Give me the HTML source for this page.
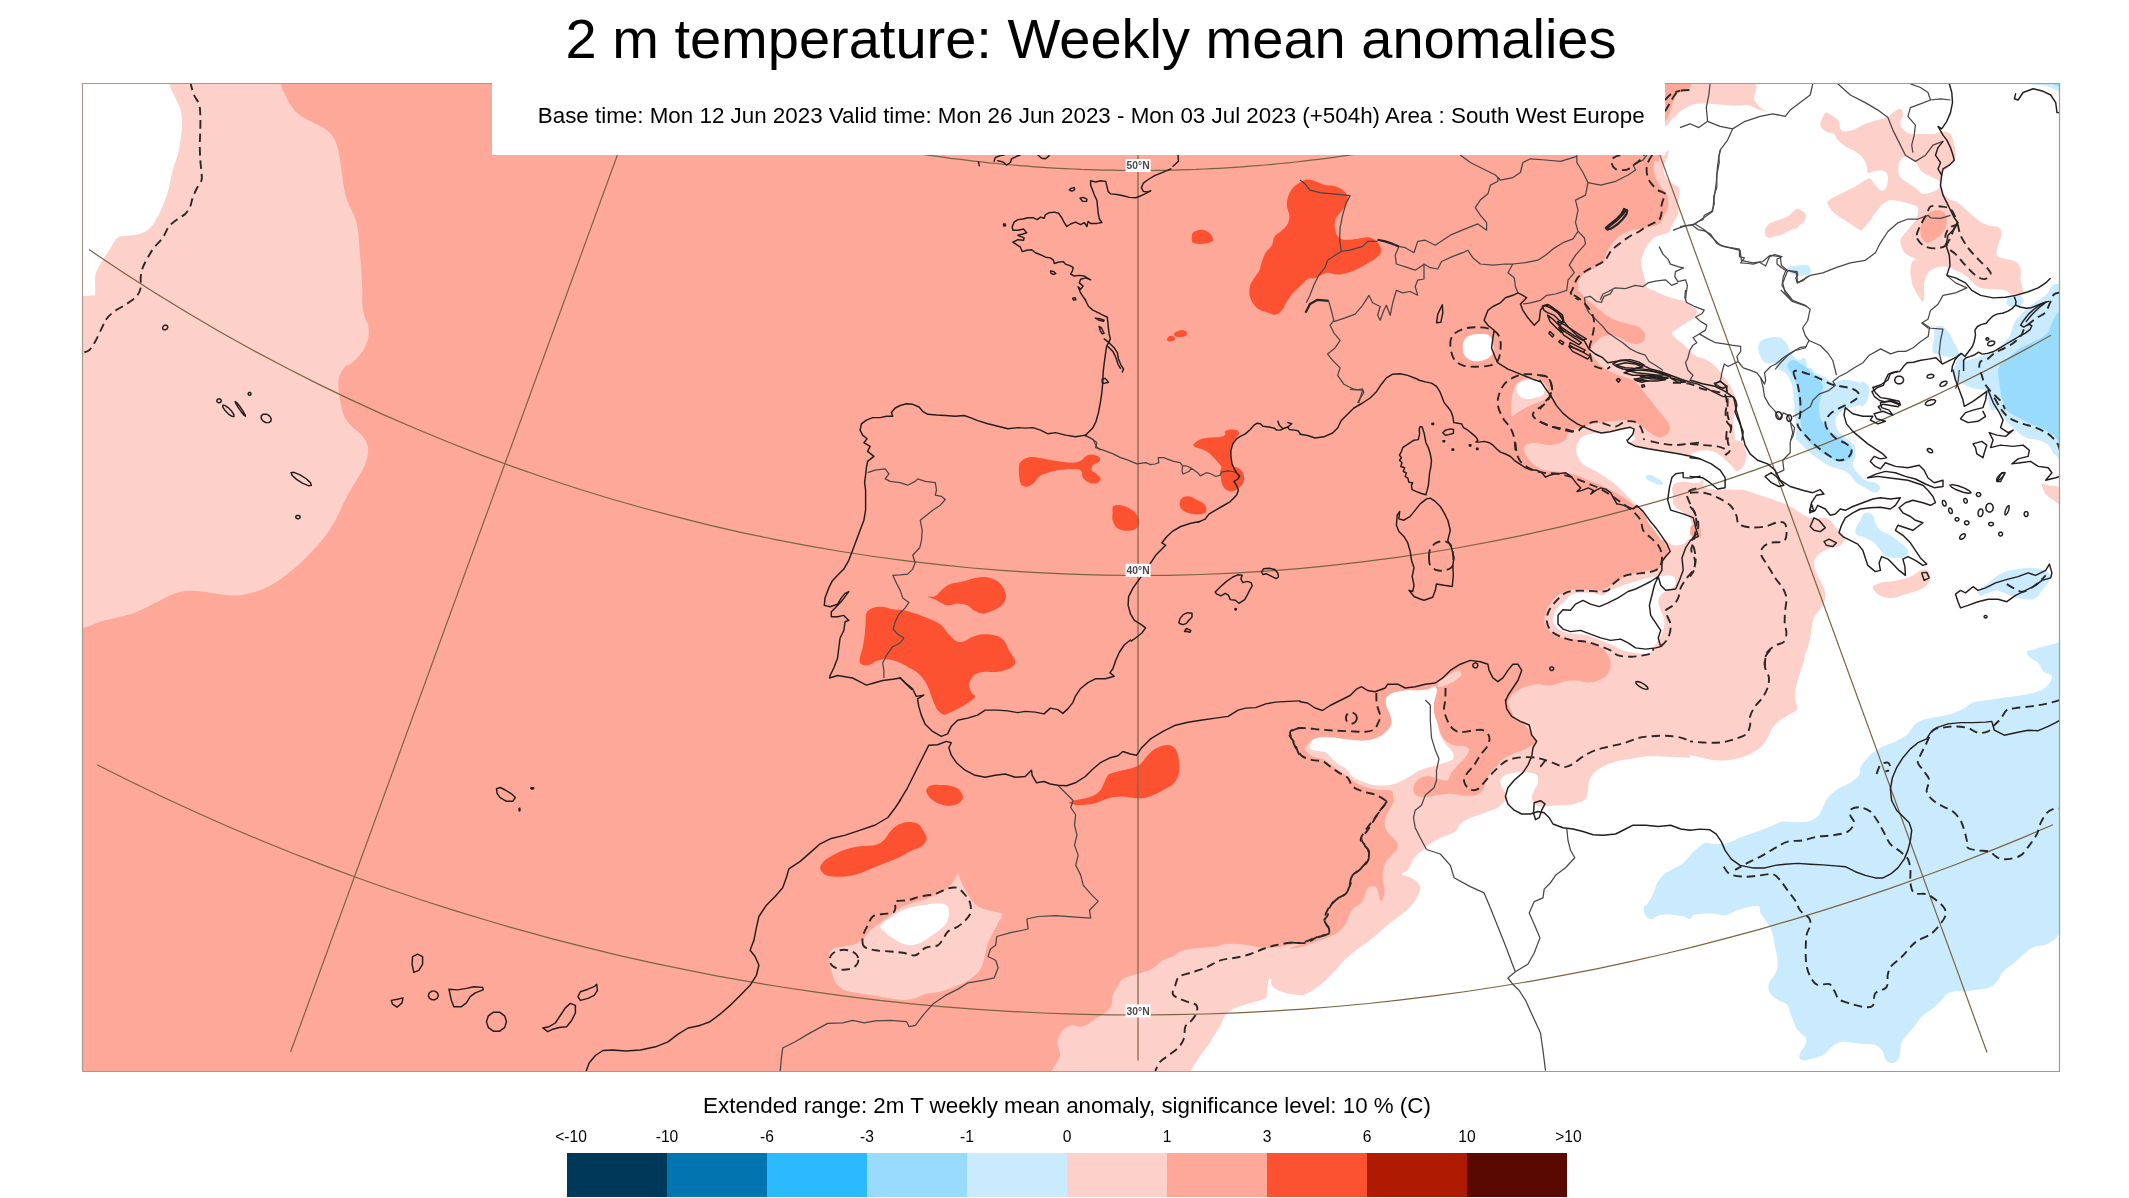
<!DOCTYPE html>
<html><head><meta charset="utf-8"><title>2 m temperature: Weekly mean anomalies</title>
<style>
html,body{margin:0;padding:0;background:#fff;}
body{width:2129px;height:1198px;overflow:hidden;font-family:"Liberation Sans",sans-serif;}
svg{display:block;position:absolute;left:0;top:0}
text{font-family:"Liberation Sans",sans-serif;fill:#000}
.tx{filter:grayscale(1)}
.c{fill:none;stroke:#241d1d;stroke-width:1.45;stroke-linejoin:round;stroke-linecap:round}
.b{fill:none;stroke:#4a4646;stroke-width:1.25;stroke-linejoin:round}
.d{fill:none;stroke:#2b2727;stroke-width:1.9;stroke-dasharray:8.4 5;stroke-linejoin:round}
.g{fill:none;stroke:#7a6442;stroke-width:1.2}
.l{fill:none;stroke:#262626;stroke-width:2.2;stroke-linejoin:round}
</style></head><body>
<svg width="2129" height="1198" viewBox="0 0 2129 1198">
<defs><clipPath id="m"><rect x="82.5" y="83.5" width="1977" height="988"/></clipPath></defs>
<rect x="0" y="0" width="2129" height="1198" fill="#fff"/>
<g clip-path="url(#m)">

<path fill="#fda899" d="M82,83L2060,83L2060,1072L82,1072Z"/>
<path fill="#fdd0c9" d="M281.2,84.3C282.1,90.1 283.9,91.5 285.4,95C286.9,98.5 288.3,101.9 290.4,105C292.5,108.1 294.6,111.1 298,113.8C301.4,116.5 306.3,119 310.5,121.3C314.7,123.6 319.4,125.3 323,127.6C326.6,129.9 329.5,132.2 331.8,135.1C334.1,138 335.4,140.9 336.8,145.1C338.2,149.3 339.1,154.7 340,160.1C340.9,165.5 341.7,172.3 342.5,177.7C343.3,183.1 343.9,188.1 345,192.7C346.1,197.3 347.6,201 349.3,205.2C351,209.4 353.6,213.5 355,217.7C356.4,221.9 357.2,224.9 358,230.3C358.8,235.7 359.1,243.6 359.6,250.3C360.2,257 360.9,263.6 361.3,270.3C361.8,277 362.1,285 362.3,290.4C362.5,295.8 362,298.7 362.3,302.9C362.6,307.1 363.3,311.6 364.3,315.4C365.3,319.1 367.4,322.1 368.1,325.4C368.8,328.7 369,332 368.6,335.4C368.2,338.8 367.2,342.1 365.6,345.5C364.1,348.9 361.8,352.4 359.3,355.5C356.8,358.6 352.8,362.4 350.5,364.2C348.2,366 347.4,364.3 345.5,366.3C343.6,368.3 340.5,372.8 339.3,376.3C338.1,379.9 338.3,383.2 338.5,387.6C338.7,392 339.5,397.8 340.5,402.6C341.5,407.4 342.4,412.4 344.3,416.4C346.2,420.4 348.9,423.3 351.8,426.4C354.7,429.5 359.2,432 361.8,435.1C364.4,438.2 366.6,441.9 367.6,445.2C368.6,448.5 368.2,451.7 367.6,455.2C367.1,458.7 365.9,462.6 364.3,466.4C362.7,470.1 360.3,473.7 358,477.7C355.7,481.7 352.8,486.2 350.5,490.2C348.2,494.2 346.4,497.3 344.3,501.5C342.2,505.7 340.1,511.1 338,515.3C335.9,519.5 334.3,522.5 331.8,526.5C329.3,530.5 326.1,535.1 323,539.1C319.9,543.1 316.8,546.3 313,550.3C309.2,554.3 305,558.7 300.4,562.9C295.8,567.1 290.4,571.6 285.4,575.4C280.4,579.1 275.4,582.7 270.4,585.4C265.4,588.1 260.8,590 255.4,591.7C250,593.4 243.7,595 237.8,595.4C232,595.8 226.1,594.8 220.3,594.2C214.5,593.6 208.7,592.2 202.8,591.7C197,591.2 190.2,590.5 185.2,590.9C180.2,591.3 176.9,592.6 172.7,594.2C168.5,595.8 164.8,598.1 160.2,600.4C155.6,602.7 150.2,605.6 145.2,607.9C140.2,610.2 135.1,612.5 130.1,614.2C125.1,615.9 120.1,616.6 115.1,617.9C110.1,619.1 105.4,620 100.1,621.7C94.8,623.4 89.7,626.3 83,628C76.3,629.7 63.8,726.7 60,632C56.2,537.3 23.3,155.3 60,60C96.7,-35.3 243.1,56 280,60C316.9,64 280.3,78.5 281.2,84.3Z"/>
<path fill="#ffffff" d="M169.5,84.3C170.7,90.5 173.4,93.4 175.2,97.5C177,101.6 179.1,104.4 180.2,108.8C181.3,113.2 182,118.2 182,123.8C182,129.4 180.9,137.4 180.2,142.6C179.5,147.8 178.9,150.5 177.7,155.1C176.4,159.7 174.1,164.8 172.7,170.2C171.2,175.6 170.4,182.3 169,187.7C167.6,193.1 165.9,197.9 164,202.7C162.1,207.5 160,212.3 157.7,216.5C155.4,220.7 152.7,225.1 150.2,227.8C147.7,230.5 145.6,231.6 142.7,232.8C139.8,234.1 136.4,234.7 132.6,235.3C128.8,235.9 123,235.7 120.1,236.5C117.2,237.3 116.8,238.2 115.1,240.3C113.4,242.4 112.2,245.7 110.1,249C108,252.3 104.8,256.8 102.6,260.3C100.4,263.9 98.3,267.4 97.1,270.3C95.8,273.2 95.4,273.8 95.1,277.8C94.8,281.8 95.7,291.2 95.1,294.1C94.5,297 93.3,295.1 91.3,295.4C89.3,295.7 88.2,296 83,296.1C77.8,296.2 63.8,335.4 60,296C56.2,256.6 42,99.3 60,60C78,20.7 149.8,56 168,60C186.2,64 168.3,78 169.5,84.3Z"/>
<path fill="#fdd0c9" d="M1655,75C1585.7,88.3 1659,140.8 1659.1,155C1659.2,169.2 1656.3,158.1 1655.4,160C1654.5,161.9 1653.7,164.2 1653.5,166.3C1653.3,168.4 1653.6,170.3 1654.1,172.6C1654.6,174.9 1655.5,177.8 1656.6,180.1C1657.6,182.4 1658.9,184.5 1660.4,186.4C1661.9,188.3 1664.2,189.5 1665.4,191.4C1666.7,193.3 1667.4,195.6 1667.9,197.7C1668.4,199.8 1668.6,201.8 1668.5,203.9C1668.4,206 1668,208.3 1667.3,210.2C1666.6,212.1 1665.2,213.3 1664.2,215.2C1663.2,217.1 1662.9,219.8 1661.6,221.5C1660.3,223.2 1658.5,224.4 1656.6,225.2C1654.7,226 1652.7,226 1650.4,226.5C1648.1,227 1645.3,227.9 1642.8,228.4C1640.3,228.9 1637.8,229.1 1635.3,229.6C1632.8,230.1 1630.1,230.7 1627.8,231.5C1625.5,232.3 1623.4,233.5 1621.5,234.7C1619.6,235.8 1618,237.1 1616.5,238.4C1615,239.8 1613.9,241.3 1612.7,242.8C1611.5,244.3 1610.6,245.5 1609.6,247.2C1608.6,248.9 1607.2,250.8 1606.5,252.8C1605.8,254.8 1605.8,257.4 1605.2,259.1C1604.6,260.8 1604.2,261.6 1602.7,262.9C1601.2,264.1 1598.5,265.4 1596.4,266.6C1594.3,267.9 1592.3,269.1 1590.2,270.4C1588.1,271.7 1585.6,272.9 1583.9,274.2C1582.2,275.4 1581,276.4 1580.1,277.9C1579.1,279.3 1578.5,281 1578.2,282.9C1577.9,284.8 1578.3,288 1578.2,289.2C1578.1,290.4 1576.9,289 1577.6,290C1578.3,291 1580.7,293.1 1582.6,295C1584.5,296.9 1586.8,299.4 1588.9,301.3C1591,303.2 1593.1,304.6 1595.2,306.3C1597.3,308 1599.3,309.6 1601.4,311.3C1603.5,313 1605.4,314.8 1607.7,316.3C1610,317.8 1612.7,319.1 1615.2,320.1C1617.7,321.2 1620.3,321.9 1622.8,322.6C1625.3,323.3 1627.8,323.9 1630.3,324.5C1632.8,325.1 1635.7,325.5 1637.8,326.4C1639.9,327.3 1641.6,328.7 1642.8,330.1C1644,331.6 1644.9,333.4 1645.1,335.1C1645.3,336.8 1644.9,338.8 1644.1,340.2C1643.3,341.6 1641.8,342.7 1640.3,343.3C1638.8,343.9 1637.2,344 1635.3,343.9C1633.4,343.8 1631.1,343.4 1629,342.7C1626.9,342 1624.9,340.6 1622.8,339.5C1620.7,338.4 1618.6,337.1 1616.5,336.4C1614.4,335.7 1612.3,335.1 1610.2,335.1C1608.1,335.1 1605.9,335.8 1604,336.4C1602.1,337 1600.4,337.8 1598.9,338.9C1597.4,339.9 1596.4,341.4 1595.2,342.7C1594,343.9 1592.8,344.9 1592,346.4C1591.2,347.8 1590.1,349.7 1590.2,351.4C1590.3,353.1 1591,354.2 1592.7,356.5C1594.4,358.8 1597.7,362.9 1600.2,365.2C1602.7,367.5 1605.2,368.8 1607.7,370.3C1610.2,371.8 1612.7,373 1615.2,374C1617.7,375 1620.3,375.7 1622.8,376.5C1625.3,377.3 1628,377.9 1630.3,379C1632.6,380.1 1634.7,381.1 1636.6,382.8C1638.5,384.5 1639.9,387 1641.6,389.1C1643.3,391.2 1644.9,393.2 1646.6,395.3C1648.3,397.4 1649.9,399.5 1651.6,401.6C1653.3,403.7 1654.9,405.8 1656.6,407.9C1658.3,410 1659.9,412.1 1661.6,414.2C1663.3,416.3 1665.3,418.3 1666.7,420.4C1668.1,422.5 1669.4,424.8 1669.8,426.7C1670.2,428.6 1669.9,430.2 1669.2,431.7C1668.5,433.2 1666.9,434.6 1665.4,435.5C1663.9,436.4 1662.1,437.3 1660.4,437.4C1658.7,437.5 1657.1,436.8 1655.4,436.1C1653.7,435.4 1652.1,434.1 1650.4,433C1648.7,431.9 1647,430.5 1645.3,429.2C1643.6,427.9 1642,426.5 1640.3,425.4C1638.6,424.2 1637.4,423.1 1635.3,422.3C1633.2,421.5 1630.3,420.7 1627.8,420.4C1625.3,420.1 1622.8,420.3 1620.3,420.4C1617.8,420.5 1615.2,420.8 1612.7,421.1C1610.2,421.4 1607.7,422 1605.2,422.3C1602.7,422.6 1600.2,422.6 1597.7,422.9C1595.2,423.2 1592.7,423.6 1590.2,424.2C1587.7,424.8 1585.1,425.9 1582.6,426.7C1580.1,427.5 1577.2,428.4 1575.1,429.2C1573,430 1571.4,430.6 1570.1,431.7C1568.8,432.8 1567.6,434.1 1567,435.5C1566.4,436.9 1566.5,439.2 1566.3,440C1566,440.8 1566.9,439.4 1565.5,440C1564.1,440.6 1560.9,443 1558,443.8C1555.1,444.6 1551.3,445.1 1548,445C1544.7,444.9 1541.2,443.2 1537.9,443C1534.6,442.8 1530.2,442.8 1527.9,443.8C1525.6,444.8 1524.4,446.7 1524.2,448.8C1524,450.9 1525.2,453.8 1526.7,456.3C1528.2,458.8 1530.6,461.7 1532.9,463.8C1535.2,465.9 1537.6,467.6 1540.5,468.8C1543.4,470.1 1546.8,470.8 1550.5,471.3C1554.2,471.9 1558.8,471.5 1563,472.1C1567.2,472.7 1571.3,473.8 1575.5,475.1C1579.7,476.4 1583.8,478.4 1588,480.1C1592.2,481.8 1596.4,483.2 1600.6,485.1C1604.8,487 1608.9,489 1613.1,491.3C1617.3,493.6 1621.8,496.4 1625.6,498.9C1629.3,501.4 1632.3,503.7 1635.6,506.4C1638.9,509.1 1642.7,512 1645.6,515.1C1648.5,518.2 1650.7,521.9 1653.2,525.2C1655.7,528.6 1658.6,531.9 1660.7,535.2C1662.8,538.5 1664.5,542.3 1665.7,545.2C1667,548.1 1668.4,550.2 1668.2,552.7C1668,555.2 1665.7,557.7 1664.4,560.2C1663.2,562.7 1663,566 1660.7,567.7C1658.4,569.4 1654.5,569.4 1650.7,570.2C1646.9,571 1642.3,571.7 1638.1,572.7C1633.9,573.8 1629.3,575 1625.6,576.5C1621.8,578 1618.5,579.8 1615.6,581.5C1612.7,583.2 1610.6,585 1608.1,586.5C1605.6,588 1603.9,589.8 1600.6,590.3C1597.2,590.8 1592.2,590 1588,589.8C1583.8,589.6 1579.2,589.1 1575.5,589.3C1571.8,589.5 1568.8,589.7 1565.5,591C1562.2,592.3 1558.4,594.6 1555.5,597.3C1552.6,600 1549.9,603.7 1548,607.3C1546.1,610.9 1544.2,615.5 1544.2,619.1C1544.2,622.7 1546.1,626.4 1548,629.1C1549.9,631.8 1552.2,633.7 1555.5,635.4C1558.8,637.1 1563.8,638.3 1568,639.1C1572.2,639.9 1576.3,639.6 1580.5,640.4C1584.7,641.2 1589.2,642.6 1593,644.1C1596.8,645.6 1600.4,646.8 1603.1,649.1C1605.8,651.4 1608,655 1609.3,657.9C1610.5,660.8 1611,663.8 1610.6,666.7C1610.2,669.6 1608.9,673.1 1606.8,675.4C1604.7,677.7 1601.2,679.3 1598.1,680.5C1595,681.7 1591.8,682.5 1588,682.5C1584.2,682.5 1579.7,680.6 1575.5,680.5C1571.3,680.4 1567.2,680.9 1563,681.7C1558.8,682.5 1554.7,685.1 1550.5,685.5C1546.3,685.9 1542.1,684 1537.9,684.2C1533.7,684.4 1528.7,685.7 1525.4,686.7C1522.1,687.8 1520.2,689 1517.9,690.5C1515.6,692 1513.3,693.4 1511.6,695.5C1509.9,697.6 1508.5,701.8 1507.9,703C1507.3,704.2 1506.7,700.5 1507.9,703C1509.2,705.5 1512.9,714.7 1515.4,718C1517.9,721.3 1520.6,720.9 1522.9,723C1525.2,725.1 1526.9,727.6 1529.2,730.6C1531.5,733.6 1536.5,738.7 1536.7,741.3C1536.9,743.9 1532.8,744.8 1530.5,746.3C1528.2,747.8 1525.8,748.8 1522.9,750.1C1520,751.4 1516.2,752.4 1512.9,753.9C1509.6,755.4 1505.4,757 1502.9,758.9C1500.4,760.8 1500,762.8 1497.9,765.1C1495.8,767.4 1492.5,769.7 1490.4,772.6C1488.3,775.5 1486.7,779.8 1485.4,782.7C1484.2,785.6 1484.6,788.1 1482.9,790.2C1481.2,792.3 1478.2,794.3 1475.3,795.2C1472.4,796.1 1469,795.9 1465.3,795.7C1461.5,795.5 1457,794.1 1452.8,793.9C1448.6,793.7 1444,794.3 1440.3,794.7C1436.5,795.1 1433.6,796.1 1430.3,796.4C1427,796.7 1422.9,797.2 1420.2,796.7C1417.5,796.2 1415,795.1 1414,793.2C1413,791.3 1413,787.7 1414,785.2C1415,782.7 1417.5,779.6 1420.2,778.1C1422.9,776.6 1427,776.1 1430.3,776.4C1433.6,776.6 1437.4,779 1440.3,779.6C1443.2,780.2 1445.9,781.4 1447.8,780.2C1449.7,779 1449.9,775.1 1451.6,772.6C1453.3,770.1 1455.5,767.6 1457.8,765.1C1460.1,762.6 1463.4,760.1 1465.3,757.6C1467.2,755.1 1469.1,752 1469.1,750.1C1469.1,748.2 1468,747.1 1465.3,746.3C1462.6,745.5 1456.5,746.5 1452.8,745.1C1449,743.7 1445.3,741 1442.8,737.6C1440.3,734.2 1439.3,729.2 1437.8,725C1436.3,720.8 1434.6,716.2 1434,712.5C1433.4,708.8 1433.6,705.8 1434,702.5C1434.4,699.2 1436.3,695.6 1436.5,693C1436.7,690.4 1436.8,687.3 1435.3,686.7C1433.8,686.1 1430.7,688.6 1427.8,689.2C1424.9,689.8 1421.5,690.3 1417.7,690.5C1413.9,690.7 1409.4,690.1 1405.2,690.5C1401,690.9 1395.8,691.8 1392.7,693C1389.6,694.2 1387.5,695.8 1386.4,698C1385.4,700.2 1385.8,703.5 1386.4,706.3C1387,709.1 1389.4,712.1 1390.2,715C1391,717.9 1392,721.1 1391.4,723.8C1390.8,726.5 1388.7,729 1386.4,731.3C1384.1,733.6 1381.2,736 1377.7,737.6C1374.2,739.2 1370.1,740.3 1365.1,740.6C1360.1,740.9 1353,740.1 1347.6,739.6C1342.2,739.1 1337.2,737.9 1332.6,737.6C1328,737.3 1323.4,737.2 1320.1,737.6C1316.8,738 1314.5,738.9 1312.5,740.1C1310.5,741.3 1309.2,742.9 1308,744.6C1306.8,746.3 1304.2,748.1 1305,750.1C1305.8,752.1 1309.6,754.9 1312.5,756.4C1315.4,757.9 1319.5,757.4 1322.6,758.9C1325.7,760.4 1328.4,763 1331.3,765.1C1334.2,767.2 1337.2,769.3 1340.1,771.4C1343,773.5 1346,775.5 1348.9,777.6C1351.8,779.7 1354,782.1 1357.6,783.9C1361.1,785.7 1366,787.2 1370.2,788.2C1374.4,789.2 1379.2,789.8 1382.7,790.2C1386.2,790.6 1389.7,789.7 1391.4,790.7C1393.2,791.7 1392.8,794.6 1393.2,796.4C1393.6,798.2 1394.6,799.1 1393.9,801.4C1393.2,803.7 1390.4,807.3 1388.9,810.2C1387.5,813.1 1385.8,816.1 1385.2,819C1384.6,821.9 1384.4,825 1385.2,827.7C1386,830.4 1388.3,833 1390.2,835.3C1392.1,837.6 1395.2,839.4 1396.4,841.5C1397.7,843.6 1398.3,845.7 1397.7,847.8C1397.1,849.9 1394.6,851.7 1392.7,854C1390.8,856.3 1388,858.9 1386.4,861.6C1384.8,864.3 1383.8,867.2 1383.2,870.3C1382.6,873.4 1382.5,876.9 1382.7,880.3C1383,883.6 1384.7,887.3 1384.7,890.4C1384.7,893.5 1383.5,897.4 1382.7,899.1C1382,900.8 1381,901.9 1380.2,900.4C1379.4,898.9 1378.5,892.7 1377.7,890.4C1376.9,888.1 1376.5,887.2 1375.2,886.6C1374,886 1371.7,886 1370.2,886.6C1368.7,887.2 1367.5,888.5 1366.4,890.4C1365.4,892.3 1365,895.6 1363.9,897.9C1362.9,900.2 1361.8,902.4 1360.1,904.1C1358.4,905.8 1355.8,906 1353.9,907.9C1352,909.8 1350.2,912.9 1348.9,915.4C1347.7,917.9 1347.9,920.4 1346.4,922.9C1344.9,925.4 1342.4,928.3 1340.1,930.4C1337.8,932.5 1335.5,933.9 1332.6,935.4C1329.7,936.9 1325.9,937.9 1322.6,939.2C1319.2,940.5 1315.8,941.8 1312.5,943C1309.2,944.2 1306.2,945.8 1302.5,946.7C1298.8,947.6 1289.9,949.1 1290,948.5C1290.1,947.9 1303.4,943.3 1303.1,942.8C1302.8,942.3 1293,944.5 1288,945.3C1283,946.1 1277.6,947.4 1273,947.8C1268.4,948.2 1264.7,948.2 1260.5,947.8C1256.3,947.4 1251.8,945.9 1248,945.3C1244.2,944.7 1241.7,944.2 1237.9,944C1234.1,943.8 1229.2,943.6 1225.4,944C1221.7,944.4 1219.2,945.9 1215.4,946.5C1211.7,947.1 1207.1,947.4 1202.9,947.8C1198.7,948.2 1194.2,948.4 1190.4,949C1186.6,949.6 1183.2,950.2 1180.3,951.5C1177.4,952.8 1175.7,955 1172.8,956.5C1169.9,958 1165.7,958.6 1162.8,960.3C1159.9,962 1158.2,964.7 1155.3,966.6C1152.4,968.5 1149.1,970.2 1145.3,971.6C1141.5,973 1136.5,974 1132.7,975.3C1128.9,976.5 1125.2,977.2 1122.7,979.1C1120.2,981 1119.4,983.9 1117.7,986.6C1116,989.3 1113.7,992.3 1112.7,995.4C1111.7,998.5 1112.8,1002.5 1111.5,1005.4C1110.2,1008.3 1107.7,1010.8 1105.2,1012.9C1102.7,1015 1099.3,1016 1096.4,1017.9C1093.5,1019.8 1090.4,1022.7 1087.7,1024.2C1085,1025.7 1082.9,1026.5 1080.2,1026.7C1077.5,1026.9 1074.3,1024.8 1071.4,1025.4C1068.5,1026 1064.9,1027.9 1062.6,1030.4C1060.3,1032.9 1058.2,1037.4 1057.6,1040.5C1057,1043.6 1058.5,1046.7 1058.9,1049.2C1059.3,1051.7 1060.5,1053.2 1060.1,1055.5C1059.7,1057.8 1057.9,1060.1 1056.4,1063C1054.9,1065.9 1052.2,1069.3 1051.3,1073C1050.4,1076.7 880.4,1083 1051,1085C1221.6,1087 1904.3,1253.3 2075,1085C2245.7,916.7 2145,243.3 2075,75C2005,-93.3 1724.3,61.7 1655,75Z"/>
<path fill="#ffffff" d="M1662,75C1593.2,87.5 1661.3,137.2 1662,150C1662.7,162.8 1664.9,152 1666,152C1667.1,152 1668.2,149.3 1668.5,150C1668.8,150.7 1668.4,154.4 1667.9,156.3C1667.4,158.2 1666.1,159.4 1665.4,161.3C1664.7,163.2 1663.7,165.5 1663.5,167.6C1663.3,169.7 1663.7,171.9 1664.2,173.8C1664.7,175.7 1665.2,177.1 1666.7,178.8C1668.2,180.5 1671,182.6 1672.9,183.9C1674.8,185.2 1676.8,185.4 1677.9,186.4C1679,187.4 1679.3,188.4 1679.5,190.1C1679.7,191.8 1679.5,194.1 1679.2,196.4C1678.9,198.7 1678,201.4 1677.9,203.9C1677.8,206.4 1678.7,209.3 1678.6,211.4C1678.5,213.5 1678,214.8 1677.3,216.5C1676.6,218.2 1675.2,219.8 1674.2,221.5C1673.2,223.2 1671.8,224.8 1671.1,226.5C1670.4,228.2 1670.8,230.3 1669.8,231.5C1668.8,232.7 1667.2,232.8 1665.4,233.4C1663.6,234 1661,234.6 1659.1,235.3C1657.2,236 1655.5,236.8 1654.1,237.8C1652.6,238.8 1651.7,240 1650.4,241.5C1649.2,243 1647.6,244.9 1646.6,246.6C1645.5,248.3 1644.8,249.9 1644.1,251.6C1643.4,253.3 1642.7,254.7 1642.2,256.6C1641.7,258.5 1641,260.8 1641,262.9C1641,265 1641.7,267 1642.2,269.1C1642.7,271.2 1643.6,273.3 1644.1,275.4C1644.6,277.5 1644.9,279.8 1645.3,281.7C1645.7,283.6 1645.3,285.2 1646.6,286.7C1647.9,288.2 1651.9,289.9 1652.9,290.5C1654,291.1 1651.7,289.4 1652.9,290C1654.2,290.6 1657.5,292.6 1660.4,293.8C1663.3,295.1 1667.5,296.6 1670.4,297.5C1673.3,298.4 1675.4,298.8 1677.9,299.4C1680.4,300 1683.4,300.4 1685.5,301.3C1687.6,302.2 1688.6,303.5 1690.5,305C1692.4,306.5 1696,308.4 1696.8,310.1C1697.6,311.8 1696.1,313.7 1695.5,315.1C1694.9,316.6 1694.5,317.6 1693,318.8C1691.5,320.1 1688.8,321.3 1686.7,322.6C1684.6,323.9 1682.4,325.1 1680.5,326.4C1678.6,327.6 1676.9,329.1 1675.4,330.1C1673.9,331.1 1671.9,331.6 1671.7,332.6C1671.5,333.7 1673.2,335.1 1674.2,336.4C1675.2,337.7 1676.2,338.7 1677.9,340.2C1679.6,341.7 1682.1,343.3 1684.2,345.2C1686.3,347.1 1688.4,349.5 1690.5,351.4C1692.6,353.3 1694.7,355.4 1696.8,356.5C1698.9,357.6 1700.9,357.5 1703,358.3C1705.1,359.1 1707.2,360.1 1709.3,361.5C1711.4,362.9 1713.7,364.6 1715.6,366.5C1717.5,368.4 1718.9,370.7 1720.6,372.8C1722.3,374.9 1723.9,376.7 1725.6,379C1727.3,381.3 1729.1,384.1 1730.6,386.6C1732.1,389.1 1733.4,391.4 1734.4,394.1C1735.5,396.8 1736.7,400.2 1736.9,402.9C1737.1,405.6 1736.1,407.9 1735.6,410.4C1735.1,412.9 1734.2,415.4 1733.8,417.9C1733.4,420.4 1733,422.9 1733.1,425.4C1733.2,427.9 1734,430.6 1734.4,433C1734.8,435.4 1734.2,438.4 1735.6,440C1737,441.6 1740.8,440.1 1742.6,442.6C1744.4,445.1 1746.2,451.4 1746.4,455.2C1746.6,459 1745.5,462.5 1743.9,465.2C1742.4,467.9 1738.9,471.1 1737.1,471.5C1735.3,471.9 1734.8,469.3 1733.3,467.8C1731.8,466.3 1730,464.4 1728.3,462.7C1726.6,461 1725,459.1 1723.3,457.7C1721.6,456.2 1720,455.1 1718.3,454C1716.6,452.9 1715.2,452 1713.3,451.4C1711.4,450.8 1709.3,450.3 1707,450.2C1704.7,450.1 1701.8,450.4 1699.5,450.8C1697.2,451.2 1695.3,451.8 1693.2,452.7C1691.1,453.6 1689,456.3 1686.9,456.5C1684.8,456.7 1683,454.7 1680.7,454C1678.4,453.3 1675.6,452.5 1673.1,452.1C1670.6,451.7 1668.5,451.7 1665.6,451.4C1662.7,451.1 1658.9,450.6 1655.6,450.2C1652.2,449.8 1648.6,449.4 1645.5,448.9C1642.4,448.4 1639.3,447.7 1636.8,447.1C1634.3,446.5 1632,446.1 1630.5,445.2C1629,444.2 1628.3,442.6 1628,441.4C1627.7,440.1 1628,439 1628.6,437.7C1629.2,436.4 1630.9,434.6 1631.7,433.3C1632.5,432 1633.6,431.1 1633.6,430.1C1633.6,429.2 1632.8,428 1631.7,427.6C1630.6,427.2 1628.6,427.4 1626.7,427.6C1624.8,427.8 1622.8,428.4 1620.5,428.9C1618.2,429.4 1615.4,430.2 1612.9,430.8C1610.4,431.4 1607.9,432.2 1605.4,432.6C1602.9,433 1600.4,433.1 1597.9,433.3C1595.4,433.5 1592.7,433.5 1590.4,433.9C1588.1,434.3 1586,434.8 1584.1,435.8C1582.2,436.9 1580.3,438.4 1579.1,440.2C1577.8,442 1577,444.3 1576.6,446.4C1576.2,448.5 1576.2,450.6 1576.6,452.7C1577,454.8 1578.1,457.1 1579.1,459C1580.1,460.9 1581.1,462.5 1582.8,464C1584.5,465.5 1586.8,466.6 1589.1,467.8C1591.4,469.1 1594.1,470.1 1596.6,471.5C1599.1,472.9 1601.7,474.8 1604.2,476.5C1606.7,478.2 1609.4,479.8 1611.7,481.5C1614,483.2 1615.8,484.7 1617.9,486.6C1620,488.5 1622.1,490.7 1624.2,492.8C1626.3,494.9 1628.6,497.2 1630.5,499.1C1632.4,501 1634,502.9 1635.5,504.1C1637,505.4 1638,505.6 1639.3,506.6C1640.5,507.7 1642,508.9 1643,510.4C1644,511.9 1644.7,513.5 1645.5,515.4C1646.3,517.3 1647,519.8 1648,521.7C1649,523.6 1650.5,525 1651.8,526.7C1653.1,528.4 1654.3,530 1655.6,531.7C1656.8,533.4 1658.3,535.3 1659.3,536.7C1660.3,538.1 1660.7,539.4 1661.8,540C1662.9,540.6 1663.8,539.3 1665.7,540.2C1667.6,541.1 1670.3,544.6 1673.2,545.2C1676.1,545.8 1680.7,545 1683.2,543.9C1685.7,542.8 1687.4,539.5 1688.2,538.9C1689,538.2 1687.6,540.4 1688.2,540C1688.8,539.6 1691.1,538.1 1691.9,536.7C1692.7,535.3 1693.2,533.6 1693.2,531.7C1693.2,529.8 1692.3,527.3 1691.9,525.4C1691.5,523.5 1691.5,522.1 1690.7,520.4C1689.9,518.7 1688.6,517.1 1686.9,515.4C1685.2,513.7 1682.6,511.9 1680.7,510.4C1678.8,508.9 1676.9,508.1 1675.6,506.6C1674.3,505.1 1673.5,503.5 1673.1,501.6C1672.7,499.7 1673.3,497.4 1673.1,495.3C1672.9,493.2 1671.9,490.7 1671.9,489.1C1671.9,487.5 1672.5,486.8 1673.1,485.9C1673.7,484.9 1673.9,484.1 1675.6,483.4C1677.3,482.7 1680.7,481.6 1683.2,481.5C1685.7,481.4 1688.2,482.2 1690.7,482.8C1693.2,483.4 1695.9,484.5 1698.2,485.3C1700.5,486.1 1702.4,487.2 1704.5,487.8C1706.6,488.4 1708.4,488.8 1710.7,489.1C1713,489.4 1715.8,489.7 1718.3,489.7C1720.8,489.7 1723.1,489.3 1725.8,489.3C1728.5,489.3 1731.4,489.6 1734.6,489.7C1737.8,489.8 1740.8,489.3 1745,490.2C1749.2,491.1 1755.1,493.5 1760.1,495.2C1765.1,496.9 1770.2,498.3 1775.2,500.2C1780.2,502.1 1786,504.4 1790.2,506.5C1794.4,508.6 1796.9,510.9 1800.2,512.8C1803.5,514.7 1806.5,517 1810.2,517.8C1814,518.6 1819.4,517.4 1822.7,517.8C1826,518.2 1827.8,518.2 1830.3,520.3C1832.8,522.4 1835.3,527.4 1837.8,530.3C1840.3,533.2 1844.9,535.3 1845.3,537.8C1845.7,540.3 1842.4,543.6 1840.3,545.3C1838.2,547 1835.3,547 1832.8,547.8C1830.3,548.6 1827.8,549 1825.3,550.3C1822.8,551.5 1819.6,553.2 1817.7,555.3C1815.8,557.4 1814.2,560 1814,562.9C1813.8,565.8 1815.2,569.6 1816.5,572.9C1817.8,576.2 1820,579.6 1821.5,582.9C1823,586.2 1824.9,589.6 1825.3,592.9C1825.7,596.2 1825,600 1824,602.9C1823,605.8 1820.7,608 1819,610.5C1817.3,613 1815.2,615.1 1814,618C1812.8,620.9 1812.1,624.7 1811.5,628C1810.9,631.3 1810.8,634.7 1810.2,638C1809.6,641.3 1808.5,644.7 1807.7,648C1806.9,651.3 1805.8,654.3 1805.2,658C1804.6,661.7 1803.8,671.4 1804,670.1C1804.2,668.8 1806.5,651.7 1806.5,650C1806.5,648.3 1805,656.2 1804,660C1803,663.8 1801.5,668.3 1800.2,672.5C1798.9,676.7 1797.2,680.9 1796.4,685.1C1795.6,689.3 1795.1,693.6 1795.2,697.6C1795.3,701.6 1798,706.2 1797.2,708.9C1796.4,711.6 1793,712 1790.2,713.9C1787.4,715.8 1783.1,717.8 1780.2,720.1C1777.3,722.4 1774.8,724.7 1772.7,727.6C1770.6,730.5 1769.5,734.6 1767.6,737.7C1765.7,740.8 1763.9,743.9 1761.4,746.4C1758.9,748.9 1756.1,750.8 1752.6,752.7C1749,754.6 1744.3,756.5 1740.1,757.7C1735.9,759 1731.8,759.8 1727.6,760.2C1723.4,760.6 1719.2,760.6 1715,760.2C1710.8,759.8 1706.7,758.5 1702.5,757.7C1698.3,756.9 1692.1,755.2 1690,755.2C1687.9,755.2 1692.4,757.3 1690,757.6C1687.6,757.9 1680.6,757.3 1675.7,757.1C1670.8,756.9 1665.7,756.5 1660.7,756.4C1655.7,756.3 1650.7,756 1645.7,756.4C1640.7,756.8 1635.6,758.1 1630.6,758.9C1625.6,759.7 1620.2,760.1 1615.6,761.4C1611,762.6 1606.6,764.5 1603.1,766.4C1599.5,768.3 1596.6,770.3 1594.3,772.6C1592,774.9 1590.3,777.3 1589.3,780.2C1588.3,783.1 1588.7,787.1 1588.1,790.2C1587.5,793.3 1587.3,796.8 1585.6,798.9C1583.9,801 1580.9,801.7 1578,802.7C1575.1,803.8 1571.8,804.8 1568,805.2C1564.2,805.6 1559.2,805 1555.5,805.2C1551.8,805.4 1548.6,806.4 1545.5,806.4C1542.4,806.4 1539,806.5 1536.7,805.2C1534.4,804 1532.1,801.4 1531.7,798.9C1531.3,796.4 1533.2,792.9 1534.2,790.2C1535.2,787.5 1537.6,785.2 1538,782.7C1538.4,780.2 1538.4,776.8 1536.7,775.1C1535,773.4 1531.5,773 1527.9,772.6C1524.4,772.2 1519.2,772.2 1515.4,772.6C1511.7,773 1507.9,773.8 1505.4,775.1C1502.9,776.4 1501,778.3 1500.4,780.2C1499.8,782.1 1500.8,784.3 1501.6,786.4C1502.4,788.5 1504.4,790.6 1505.4,792.7C1506.5,794.8 1508.3,797.2 1507.9,798.9C1507.5,800.6 1504.6,801.2 1502.9,802.7C1501.2,804.2 1500.4,806.2 1497.9,807.7C1495.4,809.2 1491.2,810.2 1487.9,811.5C1484.6,812.8 1481.2,814 1477.9,815.2C1474.6,816.5 1470.7,817.5 1467.8,819C1464.9,820.5 1462.2,822.1 1460.3,824C1458.4,825.9 1458.3,828.5 1456.6,830.2C1454.9,831.9 1453,832.7 1450.3,834C1447.6,835.3 1443.6,836.1 1440.3,837.8C1437,839.5 1433.2,841.9 1430.3,844C1427.4,846.1 1425,848.4 1422.7,850.3C1420.4,852.2 1418.4,853.2 1416.5,855.3C1414.6,857.4 1413,860.3 1411.5,862.8C1410,865.3 1409.4,868.4 1407.7,870.3C1406,872.2 1401.5,873 1401.5,874.1C1401.5,875.2 1405.4,875.6 1407.7,876.6C1410,877.6 1413.1,878.6 1415.2,880.3C1417.3,882 1419.6,884.5 1420.2,886.6C1420.8,888.7 1419.8,890.6 1419,892.9C1418.2,895.2 1416.9,897.9 1415.2,900.4C1413.5,902.9 1411.5,905.4 1409,907.9C1406.5,910.4 1403.3,912.9 1400.2,915.4C1397.1,917.9 1393.3,920.4 1390.2,922.9C1387.1,925.4 1384.3,927.9 1381.4,930.4C1378.5,932.9 1375.8,935.4 1372.7,937.9C1369.6,940.4 1365.9,943 1362.6,945.5C1359.2,948 1355.7,950.5 1352.6,953C1349.5,955.5 1346.4,958 1343.9,960.5C1341.4,963 1339.9,965.5 1337.6,968C1335.3,970.5 1332.6,973 1330.1,975.5C1327.6,978 1325.5,980.5 1322.6,983C1319.7,985.5 1315.8,988.4 1312.5,990.5C1309.2,992.6 1304.1,994.8 1302.5,995.6C1300.9,996.4 1305.1,995.6 1303.1,995.4C1301.1,995.1 1294.7,994.9 1290.5,994.1C1286.3,993.3 1281.1,991.9 1278,990.4C1274.9,988.9 1273,987.2 1271.8,985.3C1270.6,983.4 1271.5,979.9 1271,979.1C1270.5,978.3 1269.1,978.4 1268.5,980.3C1267.9,982.2 1268,987.5 1267.5,990.4C1267,993.3 1267.5,996 1265.5,997.9C1263.5,999.8 1259.2,1000.4 1255.5,1001.6C1251.8,1002.9 1246.8,1004.1 1243,1005.4C1239.2,1006.6 1235.8,1007.4 1232.9,1009.1C1230,1010.8 1227.5,1012.7 1225.4,1015.4C1223.3,1018.1 1222.3,1022.1 1220.4,1025.4C1218.5,1028.7 1216.3,1032.1 1214.2,1035.4C1212.1,1038.8 1210.2,1042.2 1207.9,1045.5C1205.6,1048.8 1202.7,1052.2 1200.4,1055.5C1198.1,1058.8 1195.8,1062.6 1194.1,1065.5C1192.4,1068.4 1191.1,1069.8 1190.4,1073C1189.7,1076.2 1042.6,1083 1190,1085C1337.4,1087 1927.5,1253.3 2075,1085C2222.5,916.7 2143.8,243.3 2075,75C2006.2,-93.3 1730.8,62.5 1662,75Z"/>
<path fill="#caebfd" d="M2075,641C2072.5,592.2 2064.8,641.7 2060,642.5C2055.2,643.3 2050,644.9 2046,646C2042,647.1 2037.7,647.3 2036,649C2034.3,650.7 2034,653.6 2035.6,656.3C2037.2,659 2043,661.9 2045.7,665C2048.4,668.1 2051.5,671.6 2051.9,675C2052.3,678.4 2050.5,682.4 2048.2,685.1C2045.9,687.8 2042.4,689.6 2038.2,691.3C2034,693 2028.5,694 2023.1,695.1C2017.7,696.2 2011.4,696.8 2005.6,697.6C1999.8,698.4 1993.5,699.3 1988.1,700.1C1982.7,700.9 1977.2,701.1 1973,702.6C1968.8,704.1 1966.8,707 1963,708.9C1959.2,710.8 1955.1,712.5 1950.5,713.9C1945.9,715.3 1940.1,716.1 1935.5,717.1C1930.9,718.1 1926.5,718.8 1922.9,720.1C1919.4,721.4 1916.7,722.8 1914.2,725.1C1911.7,727.4 1911,731.2 1907.9,733.9C1904.8,736.6 1899.6,739.3 1895.4,741.4C1891.2,743.5 1886.7,744.5 1882.9,746.4C1879.1,748.3 1875.7,750.4 1872.8,752.7C1869.9,755 1867.4,757.7 1865.3,760.2C1863.2,762.7 1861.3,765.2 1860.3,767.7C1859.3,770.2 1860.8,772.7 1859.1,775.2C1857.4,777.7 1853.8,780.4 1850.3,782.7C1846.8,785 1841.5,786.5 1837.8,789C1834,791.5 1830.3,794.7 1827.8,797.8C1825.3,800.9 1824.4,804.7 1822.7,807.8C1821,810.9 1820.2,814.3 1817.7,816.6C1815.2,818.9 1811.5,820.7 1807.7,821.6C1804,822.5 1799.4,822.3 1795.2,822.3C1791,822.3 1786.9,820.9 1782.7,821.6C1778.5,822.3 1774.4,824.9 1770.2,826.6C1766,828.3 1762.2,829.9 1757.6,831.6C1753,833.3 1747.6,834.7 1742.6,836.6C1737.6,838.5 1732.2,841.6 1727.6,842.9C1723,844.1 1718.8,844.1 1715,844.1C1711.2,844.1 1707.9,842.3 1705,842.9C1702.1,843.5 1700,845.8 1697.5,847.9C1695,850 1691.2,853.5 1690,855.4C1688.8,857.2 1691.5,857.4 1690,859C1688.5,860.6 1683.9,863.4 1680.7,865.3C1677.5,867.2 1673.6,868.6 1670.7,870.3C1667.8,872 1665.5,873 1663.2,875.3C1660.9,877.6 1658.6,881 1656.9,884.1C1655.2,887.2 1654.7,891 1653.2,894.1C1651.8,897.2 1649.8,900.6 1648.2,902.9C1646.6,905.2 1644.1,905.8 1643.7,907.9C1643.3,910 1644.3,913.5 1645.7,915.4C1647.1,917.3 1649.8,919.2 1651.9,919.2C1654,919.2 1655.5,916.2 1658.2,915.4C1660.9,914.6 1664.5,914.2 1668.2,914.2C1672,914.2 1677.1,915.4 1680.7,915.4C1684.3,915.4 1688.5,914.2 1690,914.2C1691.5,914.2 1687.9,915.5 1690,915.4C1692.1,915.3 1698.2,914 1702.4,913.7C1706.6,913.4 1711.2,913.4 1714.9,913.7C1718.6,914 1721.5,915.8 1724.8,915.4C1728.1,915 1731.1,912.5 1734.8,911.2C1738.5,909.9 1743.3,908.3 1747.2,907.5C1751.1,906.7 1756.1,905.2 1758.4,906.2C1760.7,907.2 1759.5,911 1760.9,913.7C1762.4,916.4 1765.2,919.3 1767.1,922.4C1769,925.5 1770.8,928.6 1772.1,932.3C1773.3,936 1773.8,940.6 1774.6,944.8C1775.4,948.9 1776.6,953.5 1777.1,957.2C1777.6,960.9 1778,964.3 1777.6,967.2C1777.2,970.1 1775.9,972.1 1774.6,974.6C1773.3,977.1 1770.6,979.8 1769.6,982.1C1768.6,984.4 1768,986 1768.4,988.3C1768.8,990.6 1770.2,993.7 1772.1,995.8C1774,997.9 1777.1,999.2 1779.6,1000.7C1782.1,1002.2 1785.2,1002.2 1787,1004.5C1788.8,1006.8 1789.2,1010.7 1790.7,1014.4C1792.2,1018.1 1793.8,1023.6 1795.7,1026.9C1797.6,1030.2 1800.1,1032.2 1801.9,1034.3C1803.7,1036.4 1805.9,1037.4 1806.4,1039.3C1806.9,1041.2 1805.9,1043.4 1804.9,1045.5C1804,1047.6 1801.6,1049.6 1800.7,1051.7C1799.8,1053.8 1798.9,1056.5 1799.5,1058C1800.1,1059.5 1801.9,1060.4 1804.4,1060.4C1806.9,1060.4 1811.1,1059 1814.4,1058C1817.7,1057 1821.4,1056.1 1824.3,1054.2C1827.2,1052.3 1828.9,1048.9 1831.8,1046.8C1834.7,1044.7 1838,1042.4 1841.7,1041.8C1845.4,1041.2 1850.1,1042.6 1854.2,1043C1858.3,1043.4 1862.9,1043.9 1866.6,1044.3C1870.3,1044.7 1873.9,1044.3 1876.6,1045.5C1879.3,1046.7 1881.3,1049.4 1882.8,1051.7C1884.2,1054 1884.1,1057.3 1885.3,1059.2C1886.5,1061.1 1888.1,1062.7 1890.2,1062.9C1892.3,1063.1 1896,1062.3 1897.7,1060.4C1899.4,1058.5 1899.6,1054.6 1900.2,1051.7C1900.8,1048.8 1900.4,1045.7 1901.4,1043C1902.4,1040.3 1904.3,1038.3 1906.4,1035.6C1908.5,1032.9 1911.4,1030 1913.9,1026.9C1916.4,1023.8 1918.4,1019.8 1921.3,1016.9C1924.2,1014 1928.2,1012 1931.3,1009.5C1934.4,1007 1937.5,1004.5 1940,1002C1942.5,999.5 1943.9,996.2 1946.2,994.5C1948.5,992.8 1950.4,992 1953.7,991.5C1957,991 1961.9,991.8 1966.1,991.5C1970.2,991.2 1974.4,990.3 1978.6,989.6C1982.8,988.9 1987.7,988.8 1991,987.1C1994.3,985.4 1996.4,982.3 1998.5,979.6C2000.6,976.9 2000.9,973.6 2003.4,970.9C2005.9,968.2 2010.1,966.1 2013.4,963.4C2016.7,960.7 2020,957.4 2023.3,954.7C2026.6,952 2029.6,948.9 2033.3,947.3C2037,945.6 2042,946.2 2045.7,944.8C2049.4,943.3 2053.3,940.3 2055.7,938.6C2058.1,936.9 2056.7,935.4 2059.9,934.8C2063.1,934.2 2072.5,984 2075,935C2077.5,886 2077.5,689.8 2075,641Z"/>
<path fill="#ffffff" d="M1462.8,347.9C1462.6,345.2 1462.8,342.5 1464.1,340.4C1465.3,338.3 1467.6,336.4 1470.3,335.3C1473,334.2 1477.2,334.1 1480.3,334.1C1483.4,334.1 1487,333.8 1489.1,335.3C1491.2,336.8 1492.2,340.4 1492.9,342.9C1493.6,345.4 1493.8,348.1 1493.4,350.4C1493,352.7 1492.2,354.9 1490.4,356.6C1488.6,358.3 1485.7,359.7 1482.8,360.4C1479.9,361.1 1475.7,361.5 1472.8,360.9C1469.9,360.3 1467,358.8 1465.3,356.6C1463.6,354.4 1463,350.6 1462.8,347.9Z"/>
<path fill="#fdd0c9" d="M1511.6,415.5C1510.8,413.4 1511.2,405.1 1511.6,400.5C1512,395.9 1512.7,391.2 1514.2,387.9C1515.7,384.5 1517.3,382.1 1520.4,380.4C1523.5,378.7 1529.1,377.7 1532.9,377.9C1536.7,378.1 1540.5,379.6 1543,381.7C1545.5,383.8 1547.4,387.8 1548,390.5C1548.6,393.2 1548,396.1 1546.7,398C1545.5,399.9 1543.2,400.4 1540.5,401.7C1537.8,402.9 1533.3,404.2 1530.4,405.5C1527.5,406.8 1525.2,407.9 1522.9,409.2C1520.6,410.4 1518.6,411.9 1516.7,413C1514.8,414.1 1512.4,417.6 1511.6,415.5Z"/>
<path fill="#ffffff" d="M1516.7,390.5C1516.3,388.4 1516.5,385.9 1517.9,384.2C1519.4,382.5 1522.5,381 1525.4,380.4C1528.3,379.8 1532.5,379.6 1535.4,380.4C1538.3,381.2 1541.5,383.5 1543,385.4C1544.5,387.3 1545,389.8 1544.2,391.7C1543.4,393.6 1540.6,395.4 1537.9,396.7C1535.2,397.9 1530.8,399.2 1527.9,399.2C1525,399.2 1522.3,398.1 1520.4,396.7C1518.5,395.2 1517.1,392.6 1516.7,390.5Z"/>
<path fill="#fdd0c9" d="M1660,78C1675.9,69.7 1739.5,77.2 1755.4,78C1771.3,78.8 1755.2,80.9 1755.4,82.5C1755.6,84.1 1756.7,85.6 1756.6,87.5C1756.5,89.4 1755.1,91.9 1754.7,93.8C1754.3,95.7 1753.6,96.9 1754.1,98.8C1754.6,100.7 1756.4,103.3 1757.9,105.1C1759.4,106.9 1761.4,108.3 1762.9,109.5C1764.4,110.7 1767.1,111.9 1766.7,112C1766.3,112.1 1762.7,110.9 1760.4,110.1C1758.1,109.3 1755,107.8 1752.9,107C1750.8,106.2 1749.9,105.3 1747.8,105.1C1745.7,104.9 1742.8,105.6 1740.3,105.7C1737.8,105.8 1735.3,105.8 1732.8,105.7C1730.3,105.6 1727.8,105.3 1725.3,105.1C1722.8,104.9 1720.3,104.7 1717.8,104.5C1715.3,104.3 1712.7,104 1710.2,103.8C1707.7,103.6 1705,103.2 1702.7,103.2C1700.4,103.2 1698.5,103.4 1696.4,103.8C1694.3,104.2 1692.3,104.8 1690.2,105.7C1688.1,106.6 1685.8,107.8 1683.9,108.9C1682,110.1 1680.4,111.3 1678.9,112.6C1677.4,113.8 1676.3,115.2 1675.1,116.4C1673.8,117.7 1672.6,118.8 1671.4,120.1C1670.2,121.3 1669.2,122.9 1668.2,123.9C1667.2,125 1666.5,125.7 1665.1,126.4C1663.7,127.1 1660.8,136.1 1660,128C1659.2,119.9 1644.1,86.3 1660,78Z"/>
<path fill="#fda899" d="M1660,78C1665.2,70.5 1686.2,77.2 1691.4,78C1696.6,78.8 1691.6,80.9 1691.4,82.5C1691.2,84.1 1691.2,86.3 1690.2,87.5C1689.2,88.7 1687,88.6 1685.1,89.4C1683.2,90.2 1680.6,91.2 1678.9,92.6C1677.2,94 1676.1,95.7 1675.1,97.6C1674,99.5 1673.4,101.5 1672.6,103.8C1671.8,106.1 1670.9,109.1 1670.1,111.4C1669.3,113.7 1668.4,115.9 1667.6,117.6C1666.8,119.3 1666.4,120.5 1665.1,121.4C1663.8,122.3 1660.8,130.2 1660,123C1659.2,115.8 1654.8,85.5 1660,78Z"/>
<path fill="#fdd0c9" d="M1820.3,125.1C1819.9,122.8 1821.8,119.7 1822.8,117.6C1823.8,115.5 1824.8,112.8 1826.5,112.6C1828.2,112.4 1830.7,114.8 1832.8,116.3C1834.9,117.8 1837.8,119.2 1839,121.3C1840.2,123.4 1839.2,127.2 1840.3,128.9C1841.3,130.6 1842.8,131.4 1845.3,131.4C1847.8,131.4 1852,130.2 1855.3,128.9C1858.6,127.6 1861.5,125.3 1865.3,123.8C1869.1,122.3 1874.1,121.1 1877.9,120.1C1881.7,119.1 1885.4,118.8 1887.9,117.6C1890.4,116.3 1890.8,114.1 1892.9,112.6C1895,111.1 1898.7,108.4 1900.4,108.8C1902.1,109.2 1902.9,112.8 1902.9,115.1C1902.9,117.4 1900.4,120.3 1900.4,122.6C1900.4,124.9 1901.2,127 1902.9,128.9C1904.6,130.8 1907.5,133.1 1910.4,133.9C1913.3,134.7 1916.7,133.9 1920.5,133.9C1924.3,133.9 1929.2,134.3 1933,133.9C1936.8,133.5 1940.1,131.4 1943,131.4C1945.9,131.4 1948.6,131.6 1950.5,133.9C1952.4,136.2 1953.5,141.1 1954.3,145.1C1955.1,149.1 1956.3,154.1 1955.5,157.7C1954.7,161.2 1951.4,163.9 1949.3,166.4C1947.2,168.9 1944.5,169.6 1943,172.7C1941.5,175.8 1940.5,181.9 1940.5,185.2C1940.5,188.5 1941.5,190.4 1943,192.7C1944.5,195 1946.8,197.3 1949.3,199C1951.8,200.7 1954.9,200.6 1958,202.7C1961.1,204.8 1964.7,208.6 1968,211.5C1971.3,214.4 1974.8,218 1978.1,220.3C1981.4,222.6 1984.6,224.1 1988.1,225.3C1991.6,226.6 1997.1,226.1 1999.3,227.8C2001.5,229.5 2001.6,232.4 2001.4,235.3C2001.2,238.2 1998.9,242 1998.1,245.3C1997.3,248.6 1995.5,253 1996.8,255.3C1998,257.6 2002.5,258.1 2005.6,259.1C2008.7,260.2 2013.1,259.9 2015.6,261.6C2018.1,263.3 2019.8,266 2020.6,269.1C2021.4,272.2 2020.2,276.4 2020.6,280.4C2021,284.4 2023.9,290.2 2023.1,292.9C2022.3,295.6 2018.5,297.1 2015.6,296.7C2012.7,296.3 2009.3,291.6 2005.6,290.4C2001.8,289.1 1997.3,289.6 1993.1,289.2C1988.9,288.8 1983.9,288.9 1980.6,287.9C1977.2,286.8 1975.5,285 1973,282.9C1970.5,280.8 1968.4,277.5 1965.5,275.4C1962.6,273.3 1958.8,271.9 1955.5,270.4C1952.2,268.9 1948.8,267 1945.5,266.6C1942.2,266.2 1938.4,266.8 1935.5,267.9C1932.6,268.9 1929.9,270.4 1928,272.9C1926.1,275.4 1924.8,279.1 1924.2,282.9C1923.6,286.6 1924.4,292.3 1924.2,295.4C1924,298.5 1924,301.7 1923,301.7C1922,301.7 1919.6,298.1 1917.9,295.4C1916.2,292.7 1914.2,289.1 1912.9,285.4C1911.7,281.6 1910.6,276.6 1910.4,272.9C1910.2,269.1 1910.9,265.2 1911.7,262.9C1912.5,260.6 1916,260.4 1915.4,259.1C1914.8,257.8 1910,256.8 1907.9,255.3C1905.8,253.8 1904.2,252.8 1902.9,250.3C1901.7,247.8 1900,243.2 1900.4,240.3C1900.8,237.4 1903.5,235.3 1905.4,232.8C1907.3,230.3 1909.8,227.8 1911.7,225.3C1913.6,222.8 1915.7,220.7 1916.7,217.8C1917.7,214.9 1919,210 1917.9,207.7C1916.9,205.4 1913.3,205 1910.4,204C1907.5,203 1903.7,202.1 1900.4,201.5C1897.1,200.9 1893.3,199.8 1890.4,200.2C1887.5,200.6 1885.4,201.9 1882.9,204C1880.4,206.1 1877.5,210.1 1875.4,212.8C1873.3,215.5 1872.3,217.8 1870.4,220.3C1868.5,222.8 1865.8,226.1 1864.1,227.8C1862.4,229.5 1862.2,230.7 1860.3,230.3C1858.4,229.9 1855.7,227.2 1852.8,225.3C1849.9,223.4 1845.9,221.1 1842.8,219C1839.7,216.9 1836.3,214.9 1834,212.8C1831.7,210.7 1830,208.4 1829,206.5C1828,204.6 1826.8,203.2 1827.8,201.5C1828.8,199.8 1832.4,198.2 1835.3,196.5C1838.2,194.8 1842,193.2 1845.3,191.5C1848.6,189.8 1852,188.4 1855.3,186.5C1858.6,184.6 1862.8,181.5 1865.3,180.2C1867.8,178.9 1868.7,178.1 1870.4,178.9C1872.1,179.7 1873.7,183.3 1875.4,185.2C1877.1,187.1 1878.7,189.6 1880.4,190.2C1882.1,190.8 1884.2,190.7 1885.4,189C1886.7,187.3 1887.7,182.9 1887.9,180.2C1888.1,177.5 1887.8,174.4 1886.6,172.7C1885.3,171 1882.7,170.4 1880.4,170.2C1878.1,170 1875,171 1872.9,171.4C1870.8,171.8 1869,173.7 1867.9,172.7C1866.9,171.7 1867.4,167.7 1866.6,165.2C1865.8,162.7 1864.7,160 1862.8,157.7C1860.9,155.4 1858.2,153.3 1855.3,151.4C1852.4,149.5 1848.2,148.3 1845.3,146.4C1842.4,144.5 1839.7,142.2 1837.8,140.1C1835.9,138 1836.1,135.3 1834,133.9C1831.9,132.5 1827.6,132.9 1825.3,131.4C1823,129.9 1820.7,127.4 1820.3,125.1Z"/>
<path fill="#ffffff" d="M1900.4,160.2C1901.6,158.5 1902.9,156.2 1905.4,156.4C1907.9,156.6 1912.9,159.1 1915.4,161.4C1917.9,163.7 1918.4,167.9 1920.5,170.2C1922.6,172.5 1925.1,173.5 1928,175.2C1930.9,176.9 1936.1,178.1 1938,180.2C1939.9,182.3 1940,185.8 1939.2,187.7C1938.4,189.6 1935.7,190.4 1933,191.5C1930.3,192.6 1925.9,194.6 1923,194C1920.1,193.4 1918.3,189.8 1915.4,187.7C1912.5,185.6 1908.1,183.5 1905.4,181.4C1902.7,179.3 1900.4,177.7 1899.2,175.2C1898,172.7 1898.2,168.9 1898.4,166.4C1898.6,163.9 1899.2,161.9 1900.4,160.2Z"/>
<path fill="#fda899" d="M1920.5,230.3C1920.7,227.4 1921.8,223 1923,220.3C1924.2,217.6 1925.9,215.7 1928,214C1930.1,212.3 1933,210.7 1935.5,210.3C1938,209.9 1941.1,210.2 1943,211.5C1944.9,212.8 1946.4,215.1 1946.8,217.8C1947.2,220.5 1946.5,224.9 1945.5,227.8C1944.5,230.7 1942.6,233.2 1940.5,235.3C1938.4,237.4 1935.3,239.1 1933,240.3C1930.7,241.5 1928.6,242.7 1926.7,242.3C1924.8,241.9 1922.7,239.8 1921.7,237.8C1920.7,235.8 1920.3,233.2 1920.5,230.3Z"/>
<path fill="#fdd0c9" d="M1765.2,230.3C1765.2,228.2 1766.8,225.7 1768.9,224C1771,222.3 1774.6,221.6 1777.7,220.3C1780.8,219.1 1784.8,218.2 1787.7,216.5C1790.6,214.8 1793.1,211.3 1795.2,210.3C1797.3,209.3 1798.5,209.5 1800.2,210.3C1801.9,211.1 1804.6,213.4 1805.2,215.3C1805.8,217.2 1805.2,219.6 1804,221.5C1802.8,223.4 1800.4,224.8 1797.7,226.5C1795,228.2 1790.8,230 1787.7,231.5C1784.6,233 1782,234.5 1778.9,235.3C1775.8,236.2 1771.2,237.4 1768.9,236.6C1766.6,235.8 1765.2,232.4 1765.2,230.3Z"/>
<path fill="#caebfd" d="M1787.7,269.1C1788.1,267.9 1792.3,266.4 1795.2,265.9C1798.1,265.4 1802.7,265.4 1805.2,265.9C1807.7,266.4 1809.6,267.7 1810.2,269.1C1810.8,270.5 1810.7,273.1 1809,274.1C1807.3,275.2 1802.9,275.6 1800.2,275.4C1797.5,275.2 1794.8,273.9 1792.7,272.9C1790.6,271.8 1787.3,270.3 1787.7,269.1Z"/>
<path fill="#caebfd" d="M2008.1,300.4C2008.9,299.1 2013.9,298.4 2015.6,299.2C2017.3,300 2018.9,304.1 2018.1,305.4C2017.3,306.6 2012.3,307.5 2010.6,306.7C2008.9,305.9 2007.3,301.6 2008.1,300.4Z"/>
<path fill="#caebfd" d="M1935.5,328C1936.8,326.1 1939.4,325.9 1941.7,326.7C1944,327.5 1947.2,330.3 1949.3,333C1951.4,335.7 1952.8,340.1 1954.3,343C1955.8,345.9 1957.8,348.4 1958,350.5C1958.2,352.6 1957.6,355.1 1955.5,355.5C1953.4,355.9 1948.4,354.2 1945.5,353C1942.6,351.8 1939.9,350.5 1938,348C1936.1,345.5 1934.6,341.3 1934.2,338C1933.8,334.7 1934.2,329.9 1935.5,328Z"/>
<path fill="#caebfd" d="M2023.1,82.5C2018.5,83.3 2031.5,84.4 2035.7,85C2039.9,85.6 2044.9,85.5 2048.2,86.3C2051.5,87.1 2053.2,89 2055.7,90C2058.2,91 2061.9,94.2 2063.2,92.5C2064.4,90.8 2069.9,81.7 2063.2,80C2056.5,78.3 2027.7,81.7 2023.1,82.5Z"/>
<path fill="#99dbfd" d="M2050.7,82.5C2050.7,83.8 2061.1,87.9 2063.2,87.5C2065.3,87.1 2065.3,80.8 2063.2,80C2061.1,79.2 2050.7,81.2 2050.7,82.5Z"/>
<path fill="#fdd0c9" d="M1765.1,231.5C1765.3,230.2 1765.8,229.1 1767,227.8C1768.2,226.6 1770.1,225.1 1772,224C1773.9,222.9 1776.2,222.3 1778.3,221.5C1780.4,220.7 1782.6,220.1 1784.5,219C1786.4,217.9 1787.9,216.7 1789.6,215.2C1791.3,213.7 1793.2,211.2 1794.6,210.2C1795.9,209.1 1796.2,208.7 1797.7,208.9C1799.2,209.1 1802,210.4 1803.4,211.4C1804.8,212.4 1805.7,213.7 1805.9,215.2C1806.1,216.7 1805.6,218.7 1804.6,220.2C1803.5,221.7 1800.8,222.7 1799.6,224C1798.3,225.3 1798.8,226.8 1797.1,227.8C1795.4,228.9 1791.9,229.3 1789.6,230.3C1787.3,231.3 1785.6,233.1 1783.3,234C1781,234.9 1778.1,235.3 1775.8,235.9C1773.5,236.5 1771.2,237.8 1769.5,237.8C1767.8,237.8 1766.4,237 1765.7,235.9C1765,234.8 1764.9,232.8 1765.1,231.5Z"/>
<path fill="#caebfd" d="M1788.9,266.6C1790.3,265.6 1794.7,266.3 1797.1,266C1799.5,265.7 1801.5,264.7 1803.4,264.7C1805.3,264.7 1807.2,265.1 1808.4,266C1809.7,266.9 1810.9,269 1810.9,270.4C1810.9,271.8 1810.1,273.4 1808.4,274.2C1806.7,275 1803.3,275.3 1800.8,275.4C1798.3,275.5 1795.3,275.3 1793.3,274.8C1791.3,274.3 1789.6,273.7 1788.9,272.3C1788.2,270.9 1787.5,267.7 1788.9,266.6Z"/>
<path fill="#caebfd" d="M1758.2,347.7C1758.4,345.6 1759.2,343 1760.7,341.4C1762.2,339.8 1764.5,339 1767,338.3C1769.5,337.6 1773.1,336.8 1775.8,337C1778.5,337.2 1781.3,338.1 1783.3,339.5C1785.3,340.9 1786.7,343.2 1787.7,345.2C1788.8,347.2 1788.7,349.5 1789.6,351.4C1790.5,353.3 1791.8,355 1793.3,356.5C1794.8,358 1796,358.8 1798.3,360.2C1800.6,361.6 1805.5,351.9 1807,365.2C1808.5,378.5 1808.7,427.5 1807,440C1805.3,452.5 1799,440.8 1797.1,440C1795.2,439.2 1795.8,437.5 1795.8,435.5C1795.8,433.5 1797.1,430.6 1797.1,427.9C1797.1,425.2 1796.2,422.1 1795.8,419.2C1795.4,416.3 1794.8,413.1 1794.6,410.4C1794.4,407.7 1794.8,405.6 1794.6,402.9C1794.4,400.2 1793.7,397 1793.3,394.1C1792.9,391.2 1792.9,388.2 1792.1,385.3C1791.3,382.4 1789.8,378.8 1788.3,376.5C1786.8,374.2 1785,372.8 1783.3,371.5C1781.6,370.2 1779.3,370.1 1778.3,369C1777.2,367.9 1777.8,366.2 1777,365.2C1776.2,364.1 1775,363 1773.3,362.7C1771.6,362.4 1768.8,363.8 1767,363.4C1765.2,363 1763.8,361.8 1762.6,360.2C1761.3,358.6 1760.2,356.1 1759.5,354C1758.8,351.9 1758,349.8 1758.2,347.7Z"/>
<path fill="#ffffff" d="M1537.5,386.6C1537.9,385.1 1539.2,387.2 1540,387.8C1540.8,388.4 1541.9,389.2 1542.5,390.3C1543.1,391.4 1544.2,393.1 1543.8,394.1C1543.4,395.2 1541,396.2 1540,396.6C1539,397 1537.9,398.3 1537.5,396.6C1537.1,394.9 1537.1,388.1 1537.5,386.6Z"/>
<path fill="#ffffff" d="M1583.9,441.7C1577.2,440.9 1587.9,437.9 1590.2,436.7C1592.5,435.4 1594.8,434.6 1597.7,434.2C1600.6,433.8 1604.8,434.4 1607.7,434.2C1610.6,434 1612.3,433.6 1615.2,433C1618.1,432.4 1622.6,431.1 1625.3,430.5C1628,429.9 1630.2,428.8 1631.5,429.2C1632.8,429.6 1633.6,430.9 1633.4,433C1633.2,435.1 1638.5,440.2 1630.3,441.7C1622,443.1 1590.6,442.5 1583.9,441.7Z"/>
<path fill="#fdd0c9" d="M1872.8,586.7C1873.4,585 1877.5,583.8 1880.4,582.9C1883.3,582 1886.7,582.2 1890.4,581.6C1894.2,581 1899.2,580.1 1902.9,579.1C1906.7,578.1 1910,576.9 1912.9,575.4C1915.8,573.9 1917.9,571.2 1920.4,570.4C1922.9,569.6 1926.2,569.1 1927.9,570.4C1929.6,571.6 1930.7,575.4 1930.5,577.9C1930.3,580.4 1928.8,583.3 1926.7,585.4C1924.6,587.5 1921.5,588.9 1917.9,590.4C1914.4,591.9 1909.6,593 1905.4,594.2C1901.2,595.5 1896.7,597.5 1892.9,597.9C1889.2,598.3 1885.6,597.5 1882.9,596.7C1880.2,595.9 1878.3,594.6 1876.6,592.9C1874.9,591.2 1872.2,588.4 1872.8,586.7Z"/>
<path fill="#fdd0c9" d="M2041.9,484C2042.3,482.5 2044.6,484.4 2048.2,485.2C2051.8,486 2060.7,485.6 2063.2,489C2065.7,492.4 2064.9,503.4 2063.2,505.3C2061.5,507.2 2056.1,502.1 2053.2,500.2C2050.3,498.3 2047.6,496.7 2045.7,494C2043.8,491.3 2041.5,485.5 2041.9,484Z"/>
<path fill="#caebfd" d="M1777.7,367.5C1774.8,368.3 1787.7,369.6 1790.2,372.5C1792.7,375.4 1792.1,380.4 1792.7,385C1793.3,389.6 1793.5,395.1 1793.9,400.1C1794.3,405.1 1794.8,410.1 1795.2,415.1C1795.6,420.1 1795.6,425.5 1796.4,430.1C1797.2,434.7 1797.9,438.8 1800.2,442.6C1802.5,446.4 1806.9,449.8 1810.2,452.7C1813.5,455.6 1816.9,457.9 1820.2,460.2C1823.5,462.5 1826.5,464.7 1830.3,466.4C1834.1,468.1 1839.5,468.7 1842.8,470.2C1846.1,471.7 1848,473.1 1850.3,475.2C1852.6,477.3 1854.1,480.6 1856.6,482.7C1859.1,484.8 1862.2,486 1865.3,487.7C1868.4,489.4 1872.8,492.7 1875.3,492.7C1877.8,492.7 1880.4,489.4 1880.4,487.7C1880.4,486 1877.8,483.9 1875.3,482.7C1872.8,481.4 1868.2,481.9 1865.3,480.2C1862.4,478.5 1859.9,475.2 1857.8,472.7C1855.7,470.2 1853.2,468.1 1852.8,465.2C1852.4,462.3 1855.1,458.5 1855.3,455.2C1855.5,451.9 1855.8,448 1854.1,445.1C1852.4,442.2 1848,440.1 1845.3,437.6C1842.6,435.1 1839.5,433 1837.8,430.1C1836.1,427.2 1834.9,423 1835.3,420.1C1835.7,417.2 1837.8,414.7 1840.3,412.6C1842.8,410.5 1846.5,409.1 1850.3,407.6C1854,406.1 1859.9,405.9 1862.8,403.8C1865.7,401.7 1867.4,397.9 1867.8,395C1868.2,392.1 1867.4,388.6 1865.3,386.3C1863.2,384 1859,382.4 1855.3,381.3C1851.5,380.2 1846.5,379.8 1842.8,380C1839,380.2 1835.7,382.9 1832.8,382.5C1829.9,382.1 1828.2,379.2 1825.3,377.5C1822.4,375.8 1818.1,374.2 1815.2,372.5C1812.3,370.8 1814,368.3 1807.7,367.5C1801.5,366.7 1780.6,366.7 1777.7,367.5Z"/>
<path fill="#99dbfd" d="M1789.7,361.5C1790.9,360.4 1792.8,359.8 1794.7,360.2C1796.6,360.6 1799,362.8 1801,364C1803,365.2 1804.6,365.6 1807,367.7C1809.4,369.8 1812.6,373.4 1815.2,376.3C1817.8,379.2 1821.7,381.9 1822.7,385C1823.8,388.1 1822.1,391.6 1821.5,395C1820.9,398.4 1819.2,401.3 1819,405.1C1818.8,408.9 1819,413.9 1820.2,417.6C1821.5,421.4 1824,424.7 1826.5,427.6C1829,430.5 1832.2,432.8 1835.3,435.1C1838.4,437.4 1842.6,439.3 1845.3,441.4C1848,443.5 1850.3,445.3 1851.6,447.6C1852.8,449.9 1853.4,453.1 1852.8,455.2C1852.2,457.3 1850.3,459.2 1847.8,460.2C1845.3,461.2 1841.1,462 1837.8,461.4C1834.5,460.8 1831.1,458.3 1827.8,456.4C1824.5,454.5 1820.8,452.5 1817.7,450.2C1814.6,447.9 1811.5,445.5 1809,442.6C1806.5,439.7 1804.2,436.4 1802.7,432.6C1801.2,428.9 1800.8,424.7 1800.2,420.1C1799.6,415.5 1799.4,410.1 1799,405.1C1798.6,400.1 1798.5,394.6 1797.7,390C1796.9,385.4 1795.6,381.3 1793.9,377.5C1792.2,373.7 1788.4,369.7 1787.7,367C1787,364.3 1788.5,362.6 1789.7,361.5Z"/>
<path fill="#caebfd" d="M1855.3,530.3C1855.7,527.8 1858.6,523.2 1860.3,520.3C1862,517.4 1863.2,513.6 1865.3,512.8C1867.4,512 1871.1,513.6 1872.8,515.3C1874.5,517 1874,520.3 1875.3,522.8C1876.6,525.3 1877.9,528.2 1880.4,530.3C1882.9,532.4 1887.1,533.2 1890.4,535.3C1893.7,537.4 1897.5,540.3 1900.4,542.8C1903.3,545.3 1907.1,548 1907.9,550.3C1908.7,552.6 1907.5,555.3 1905.4,556.6C1903.3,557.9 1898.7,557.9 1895.4,557.9C1892.1,557.9 1887.9,557.9 1885.4,556.6C1882.9,555.3 1882.3,552.6 1880.4,550.3C1878.5,548 1876.6,544.9 1874.1,542.8C1871.6,540.7 1868,539 1865.3,537.8C1862.6,536.5 1859.5,536.5 1857.8,535.3C1856.1,534 1854.9,532.8 1855.3,530.3Z"/>
<path fill="#caebfd" d="M2067.7,283.8C2065.9,254.8 2062.4,283.6 2059.9,283.8C2057.4,284 2054.4,283.8 2052.6,285.1C2050.8,286.4 2050.6,289.3 2048.9,291.4C2047.2,293.5 2044.9,295.7 2042.6,297.6C2040.3,299.5 2037.6,300.9 2035.1,302.6C2032.6,304.3 2029.8,305.8 2027.5,307.7C2025.2,309.6 2023.4,311.6 2021.3,313.9C2019.2,316.2 2016.5,319.1 2015,321.4C2013.5,323.7 2013.3,325.4 2012.5,327.7C2011.7,330 2011,333.1 2010,335.2C2009,337.3 2007.7,338.6 2006.2,340.3C2004.7,342 2003.1,343.6 2001.2,345.3C1999.3,347 1997.2,348.8 1994.9,350.3C1992.6,351.8 1989.9,353.1 1987.4,354.1C1984.9,355.2 1982.4,355.8 1979.9,356.6C1977.4,357.4 1974.9,358.5 1972.4,359.1C1969.9,359.7 1966.7,360.9 1964.8,360.3C1962.9,359.7 1962.3,355.3 1961.1,355.3C1959.8,355.3 1958.3,358.4 1957.3,360.3C1956.2,362.2 1955.6,364.5 1954.8,366.6C1954,368.7 1952.3,370.6 1952.3,372.9C1952.3,375.2 1953.5,378.7 1954.8,380.4C1956,382.1 1957.9,382.1 1959.8,382.9C1961.7,383.7 1964,384.6 1966.1,385.4C1968.2,386.2 1970.3,387.3 1972.4,387.9C1974.5,388.5 1976.5,388.8 1978.6,389.2C1980.7,389.6 1983.4,389.4 1984.9,390.4C1986.4,391.4 1986.8,393.5 1987.4,395.4C1988,397.3 1988.1,399.3 1988.7,401.7C1989.3,404.1 1989.6,408.6 1991.2,410C1992.8,411.4 1995.7,408.4 1998.1,410.1C2000.5,411.8 2002.7,416.8 2005.6,420.1C2008.5,423.4 2012.3,427.2 2015.6,430.1C2018.9,433 2021.8,435.9 2025.6,437.6C2029.4,439.3 2034.4,438.9 2038.2,440.1C2042,441.4 2045.3,442.6 2048.2,445.1C2051.1,447.6 2051.9,453.1 2055.7,455.2C2059.4,457.3 2068.7,486.3 2070.7,457.7C2072.7,429.1 2069.5,312.8 2067.7,283.8Z"/>
<path fill="#99dbfd" d="M2067.7,311.4C2065.9,289.5 2061.9,310.8 2059.9,311.4C2057.9,312 2057,313.5 2055.8,315.2C2054.6,316.9 2053.6,319.3 2052.6,321.4C2051.6,323.5 2050.9,325.8 2050.1,327.7C2049.3,329.6 2049.1,331 2047.6,332.7C2046.1,334.4 2043.6,336.3 2041.3,337.8C2039,339.3 2036.3,340.2 2033.8,341.5C2031.3,342.8 2028.8,344.1 2026.3,345.3C2023.8,346.6 2021.1,347.5 2018.8,349C2016.5,350.5 2014.6,352.2 2012.5,354.1C2010.4,356 2008.3,358.4 2006.2,360.3C2004.1,362.2 2001.2,363.4 1999.9,365.3C1998.6,367.2 1998.3,369.3 1998.1,371.6C1997.9,373.9 1998.4,376.6 1998.7,379.1C1999,381.6 1999.5,384 1999.9,386.7C2000.3,389.4 2000.6,392.7 2001.2,395.4C2001.8,398.1 2002.9,400.6 2003.7,403C2004.5,405.4 2003.8,407.6 2006.2,410C2008.6,412.4 2014,415.3 2018.1,417.6C2022.2,419.9 2026.4,422 2030.6,423.9C2034.8,425.8 2039.4,427 2043.2,428.9C2047,430.8 2048.6,432.8 2053.2,435.1C2057.8,437.4 2068.3,463.2 2070.7,442.6C2073.1,422 2069.5,333.3 2067.7,311.4Z"/>
<path fill="#caebfd" d="M1994.3,577.9C1997.6,575.6 2001.6,573.1 2005.6,571.6C2009.6,570.1 2013.5,569.7 2018.1,569.1C2022.7,568.5 2028.5,567.7 2033.1,567.9C2037.7,568.1 2042.8,568.7 2045.7,570.4C2048.6,572.1 2050.7,575.4 2050.7,577.9C2050.7,580.4 2047.6,582.7 2045.7,585.4C2043.8,588.1 2041.5,591.9 2039.4,594.2C2037.3,596.5 2035.8,598.4 2033.1,599.2C2030.4,600 2026.4,599.6 2023.1,599.2C2019.8,598.8 2016.2,597.8 2013.1,596.7C2010,595.7 2007,594 2004.3,592.9C2001.6,591.8 1999.5,590.4 1996.8,590.4C1994.1,590.4 1990.8,592.1 1988.1,592.9C1985.4,593.7 1982.2,595.8 1980.5,595.4C1978.8,595 1977.2,592.1 1978,590.4C1978.8,588.7 1982.9,587.5 1985.6,585.4C1988.3,583.3 1991,580.2 1994.3,577.9Z"/>
<path fill="#caebfd" d="M2026.9,651.8C2027.7,650.3 2032,650.1 2035.6,649.3C2039.1,648.5 2043.6,647.8 2048.2,646.8C2052.8,645.8 2060.7,638.6 2063.2,643C2065.7,647.4 2066.1,668.1 2063.2,673.1C2060.3,678.1 2049.9,674.8 2045.7,673.1C2041.5,671.4 2040.7,665.5 2038.2,663C2035.7,660.5 2032.5,659.9 2030.6,658C2028.7,656.1 2026.1,653.2 2026.9,651.8Z"/>
<path fill="#caebfd" d="M2006.2,302.6C2006.2,301.2 2007.2,298.8 2008.7,297.6C2010.2,296.5 2012.9,295.9 2015,295.7C2017.1,295.5 2019.8,295.4 2021.3,296.4C2022.8,297.3 2023.8,299.9 2023.8,301.4C2023.8,302.8 2022.8,304.3 2021.3,305.1C2019.8,305.9 2017.1,306.3 2015,306.4C2012.9,306.5 2010.2,306.4 2008.7,305.8C2007.2,305.2 2006.2,304 2006.2,302.6Z"/>
<path fill="#caebfd" d="M1935.4,327.7C1936.2,325.7 1938.2,325.8 1939.8,325.8C1941.4,325.8 1943.3,326.6 1944.8,327.7C1946.2,328.8 1947.2,330.6 1948.5,332.7C1949.8,334.8 1951,338 1952.3,340.3C1953.6,342.6 1954.9,344.4 1956.1,346.5C1957.2,348.6 1959,351.1 1959.2,352.8C1959.4,354.5 1958.9,355.9 1957.3,356.6C1955.7,357.3 1952.5,357.4 1949.8,357.2C1947.1,357 1943.7,356 1941,355.3C1938.3,354.6 1935,354.1 1933.5,352.8C1932,351.6 1932,350.3 1932.2,347.8C1932.4,345.3 1934.2,341.2 1934.7,337.8C1935.2,334.4 1934.6,329.7 1935.4,327.7Z"/>
<path fill="#caebfd" d="M1860.7,382.9C1861.8,379.3 1865.5,383.1 1867,384.2C1868.5,385.2 1869.3,387.1 1869.5,389.2C1869.7,391.3 1868.9,394.4 1868.3,396.7C1867.7,399 1867.1,401.5 1865.8,403C1864.5,404.5 1861.5,408.9 1860.7,405.5C1859.9,402.1 1859.7,386.4 1860.7,382.9Z"/>
<path fill="#ffffff" d="M1553,620.3C1553,617.6 1553.8,613.2 1555.5,610.3C1557.2,607.4 1560.5,605.3 1563,602.8C1565.5,600.3 1567.6,597 1570.5,595.3C1573.4,593.6 1576.8,593.1 1580.5,592.8C1584.2,592.5 1589.2,592.9 1593,593.3C1596.8,593.7 1600.2,595.8 1603.1,595.3C1606,594.8 1607.3,592 1610.6,590.3C1613.9,588.6 1618.9,586.8 1623.1,585.3C1627.3,583.8 1631.4,582.8 1635.6,581.5C1639.8,580.2 1644.4,578.6 1648.2,577.8C1652,577 1654.5,576.9 1658.2,576.5C1662,576.1 1667.8,574.7 1670.7,575.3C1673.6,575.9 1675.3,578.2 1675.7,580.3C1676.1,582.4 1675.3,585.7 1673.2,587.8C1671.1,589.9 1665.7,590.7 1663.2,592.8C1660.7,594.9 1658.6,597.4 1658.2,600.3C1657.8,603.2 1659.7,607 1660.7,610.3C1661.7,613.6 1664,616.9 1664.4,620.3C1664.8,623.6 1664.2,627 1663.2,630.4C1662.2,633.8 1659.9,637.5 1658.2,640.4C1656.5,643.3 1654.9,645.6 1653.2,647.9C1651.5,650.2 1651.1,653.4 1648.2,654.2C1645.3,655 1639.8,653.5 1635.6,652.9C1631.4,652.3 1626.8,651.6 1623.1,650.4C1619.3,649.1 1616.8,647.1 1613.1,645.4C1609.3,643.7 1604.8,642.1 1600.6,640.4C1596.4,638.7 1592.2,636.4 1588,635.4C1583.8,634.4 1579.7,634.7 1575.5,634.1C1571.3,633.5 1566.3,632.9 1563,631.6C1559.7,630.4 1557.2,628.5 1555.5,626.6C1553.8,624.7 1553,623 1553,620.3Z"/>
<path fill="#fdd0c9" d="M1700,482.6C1697.9,482.8 1693.9,483.4 1690.7,483.8C1687.5,484.2 1683.4,484.1 1680.7,485.1C1678,486.2 1675.8,487.6 1674.5,490.1C1673.2,492.6 1673,497.2 1673.2,500.1C1673.4,503 1674,505.7 1675.7,507.6C1677.4,509.5 1680.7,510.1 1683.2,511.4C1685.7,512.6 1688.8,513.2 1690.7,515.1C1692.6,517 1694.5,520.2 1694.5,522.7C1694.5,525.2 1691.5,528.1 1690.7,530.2C1689.9,532.3 1688.7,534.4 1689.5,535.2C1690.3,536 1693.4,535.6 1695.7,535.2C1698,534.8 1702,541.5 1703.3,532.7C1704.6,523.9 1703.8,491 1703.3,482.6C1702.8,474.2 1702.1,482.4 1700,482.6Z"/>
<path fill="#fda899" d="M1690.7,526.4C1691.3,525 1693,525 1694.5,525.2C1696,525.4 1699,525.8 1700,527.7C1701,529.6 1701.7,534.6 1700.8,536.4C1699.9,538.1 1696.2,538.6 1694.5,538.2C1692.8,537.8 1691.3,535.9 1690.7,533.9C1690.1,531.9 1690.1,527.8 1690.7,526.4Z"/>
<path fill="#caebfd" d="M1645.6,476.3C1646.2,475.6 1648.6,474.7 1650.7,475.1C1652.8,475.5 1656.1,477.5 1658.2,478.8C1660.3,480.1 1663,482.1 1663.2,483.1C1663.4,484.2 1661.3,485.3 1659.4,485.1C1657.5,484.9 1654,483 1651.9,482.1C1649.8,481.2 1648,480.6 1646.9,479.6C1645.9,478.6 1645,477.1 1645.6,476.3Z"/>
<path fill="#fdd0c9" d="M1437.8,686.7C1437,685.9 1438.6,682.4 1440.3,680.5C1442,678.6 1444.9,677.1 1447.8,675.4C1450.7,673.7 1455.5,670.6 1457.8,670.4C1460.1,670.2 1462,672.5 1461.6,674.2C1461.2,675.9 1458,678.6 1455.3,680.5C1452.6,682.4 1448.2,684.5 1445.3,685.5C1442.4,686.5 1438.6,687.5 1437.8,686.7Z"/>
<path fill="#ffffff" d="M1386.4,698C1387.5,695.8 1389.6,694.2 1392.7,693C1395.8,691.8 1401,690.9 1405.2,690.5C1409.4,690.1 1413.9,690.7 1417.7,690.5C1421.5,690.3 1424.9,689.8 1427.8,689.2C1430.7,688.6 1433.8,686.1 1435.3,686.7C1436.8,687.3 1436.7,690.4 1436.5,693C1436.3,695.6 1434.4,699.2 1434,702.5C1433.6,705.8 1433.4,708.8 1434,712.5C1434.6,716.2 1436.8,721.2 1437.8,725C1438.8,728.8 1438.8,731.8 1440.3,735.1C1441.8,738.5 1444.4,742.2 1446.5,745.1C1448.6,748 1451.8,750.3 1452.8,752.6C1453.8,754.9 1454,757.2 1452.8,758.9C1451.5,760.6 1448,761.5 1445.3,762.6C1442.6,763.7 1439.4,764.8 1436.5,765.6C1433.6,766.4 1430.9,766.6 1427.8,767.6C1424.7,768.6 1421,769.7 1417.7,771.4C1414.4,773.1 1411,775.7 1407.7,777.6C1404.4,779.5 1401,781.4 1397.7,782.7C1394.4,784 1391.5,784.8 1387.7,785.2C1384,785.6 1379.4,785.8 1375.2,785.2C1371,784.6 1366.4,782.9 1362.6,781.4C1358.8,779.9 1355.3,778.5 1352.6,776.4C1349.9,774.3 1348.7,770.9 1346.4,768.9C1344.1,766.9 1341.5,766.7 1338.8,764.6C1336.1,762.5 1332.4,758.5 1330.1,756.4C1327.8,754.3 1327.6,753 1325.1,752.1C1322.6,751.2 1317.5,751.5 1315,750.8C1312.5,750 1310.4,749.4 1310,747.6C1309.6,745.8 1310.8,741.8 1312.5,740.1C1314.2,738.4 1316.8,738 1320.1,737.6C1323.4,737.2 1328,737.3 1332.6,737.6C1337.2,737.9 1342.2,739.1 1347.6,739.6C1353,740.1 1360.1,740.9 1365.1,740.6C1370.1,740.3 1374.2,739.2 1377.7,737.6C1381.2,736 1384.1,733.6 1386.4,731.3C1388.7,729 1390.8,726.5 1391.4,723.8C1392,721.1 1391,717.9 1390.2,715C1389.4,712.1 1387,709.1 1386.4,706.3C1385.8,703.5 1385.4,700.2 1386.4,698Z"/>
<path fill="#caebfd" d="M1693.3,859C1691.2,850.9 1684.5,863.4 1680.7,865.3C1676.9,867.2 1673.6,868.6 1670.7,870.3C1667.8,872 1665.5,873 1663.2,875.3C1660.9,877.6 1658.6,881 1656.9,884.1C1655.2,887.2 1654.7,891 1653.2,894.1C1651.8,897.2 1649.8,900.6 1648.2,902.9C1646.6,905.2 1644.1,905.8 1643.7,907.9C1643.3,910 1644.3,913.5 1645.7,915.4C1647.1,917.3 1649.8,919.2 1651.9,919.2C1654,919.2 1655.5,916.2 1658.2,915.4C1660.9,914.6 1664.5,914.2 1668.2,914.2C1672,914.2 1676.5,915.4 1680.7,915.4C1684.9,915.4 1691.2,923.6 1693.3,914.2C1695.4,904.8 1695.4,867.1 1693.3,859Z"/>
<path fill="#fdd0c9" d="M958,873.9C959.2,874.3 960.2,879.6 961.7,882.7C963.2,885.8 965.1,889.8 966.8,892.7C968.5,895.6 969.9,897.9 971.8,900.2C973.7,902.5 975.3,904.7 978,906.4C980.7,908.1 984,908.9 988,910.2C992,911.5 1000.1,911.9 1001.8,914C1003.5,916.1 999.6,919.6 998.1,922.7C996.6,925.8 994.7,929.4 993,932.7C991.3,936.1 989.2,939.4 988,942.8C986.8,946.1 986.3,949.5 985.5,952.8C984.7,956.1 984.2,959.5 983,962.8C981.8,966.1 980.5,969.9 978,972.8C975.5,975.7 971.8,978 968,980.3C964.2,982.6 960.1,984.7 955.5,986.6C950.9,988.5 945.5,990.4 940.5,991.6C935.5,992.9 929.6,993.1 925.4,994.1C921.2,995.1 919.1,996.9 915.4,997.9C911.6,998.9 907.5,999.9 902.9,999.9C898.3,999.9 892.9,998.6 887.9,997.9C882.9,997.1 877.8,996.2 872.8,995.4C867.8,994.6 862.4,993.7 857.8,992.9C853.2,992.1 848.8,991.9 845.3,990.4C841.8,988.9 838.6,986.6 836.5,984.1C834.4,981.6 833.8,978.4 832.7,975.3C831.7,972.2 830.8,968.6 830.2,965.3C829.6,962 828.6,958 829,955.3C829.4,952.6 830.4,950.5 832.7,949C835,947.5 839,947.3 842.8,946.5C846.6,945.7 851.8,945.5 855.3,944C858.8,942.5 861.6,940.1 864.1,937.8C866.6,935.5 867.6,932.7 870.3,930.2C873,927.7 876.9,925.2 880.3,922.7C883.6,920.2 887,917.7 890.4,915.2C893.8,912.7 896.6,909.8 900.4,907.7C904.1,905.6 908.7,904.2 912.9,902.7C917.1,901.2 921.2,900.4 925.4,898.9C929.6,897.4 934.1,895.8 937.9,893.9C941.7,892 945.3,890 948,887.7C950.7,885.4 952.5,882.5 954.2,880.2C955.9,877.9 956.8,873.5 958,873.9Z"/>
<path fill="#ffffff" d="M880.3,926.5C880.7,924.6 883.7,922.5 886.6,920.2C889.5,917.9 893.9,914.8 897.9,912.7C901.9,910.6 905.8,909 910.4,907.7C915,906.4 920.8,905.5 925.4,904.7C930,904 934.3,903.1 937.9,903.2C941.5,903.3 944.8,903.6 946.7,905.2C948.6,906.8 949.2,909.8 949.2,912.7C949.2,915.6 948.4,919.8 946.7,922.7C945,925.6 941.9,927.9 939.2,930.2C936.5,932.5 933.5,934.4 930.4,936.5C927.3,938.6 923.7,941.3 920.4,942.8C917.1,944.3 913.7,945.3 910.4,945.3C907.1,945.3 903.7,944.3 900.4,942.8C897.1,941.3 893.1,938.4 890.4,936.5C887.7,934.6 885.8,933.2 884.1,931.5C882.4,929.8 879.9,928.4 880.3,926.5Z"/>
<path fill="#fd5232" d="M1019.2,465.1C1019.8,462.4 1021,461.4 1022.9,460.1C1024.8,458.8 1027.5,457.4 1030.4,457.1C1033.3,456.8 1037.2,457.6 1040.5,458.1C1043.8,458.6 1046.8,459.4 1050.5,460.1C1054.2,460.8 1058.8,461.7 1063,462.1C1067.2,462.5 1072.4,462.9 1075.5,462.6C1078.6,462.3 1080.1,461.1 1081.8,460.1C1083.5,459.1 1083.8,457.3 1085.5,456.4C1087.2,455.5 1089.5,454.5 1091.8,454.6C1094.1,454.7 1098,456 1099.3,457.1C1100.5,458.2 1100.3,460.1 1099.3,461.4C1098.2,462.7 1094.2,463.6 1093,465.1C1091.8,466.6 1091.2,468.7 1091.8,470.2C1092.4,471.7 1095.3,472.4 1096.8,473.9C1098.3,475.3 1100.6,477.3 1100.6,478.9C1100.6,480.4 1098.7,482.6 1096.8,483.2C1094.9,483.8 1091.6,483.6 1089.3,482.7C1087,481.8 1084.5,479.8 1083,477.7C1081.5,475.6 1082.6,471.7 1080.5,470.2C1078.4,468.7 1074.2,468.9 1070.5,468.9C1066.8,468.9 1061.8,469.6 1058,470.2C1054.2,470.8 1051.1,471.7 1048,472.7C1044.9,473.7 1041.5,474.7 1039.2,476.4C1036.9,478.1 1036.1,481 1034.2,482.7C1032.3,484.4 1030,486 1027.9,486.4C1025.8,486.8 1023.2,486.9 1021.7,485.2C1020.2,483.5 1019.6,479.8 1019.2,476.4C1018.8,473 1018.6,467.8 1019.2,465.1Z"/>
<path fill="#fd5232" d="M1113.1,506.5C1114.4,505.2 1117.7,504.8 1120.6,505.2C1123.5,505.6 1127.9,507.3 1130.6,509C1133.3,510.7 1135.4,512.9 1136.9,515.2C1138.4,517.5 1139.6,520.4 1139.4,522.7C1139.2,525 1137.9,527.6 1135.6,529C1133.3,530.4 1128.7,531 1125.6,530.8C1122.5,530.6 1119,529.6 1116.8,527.8C1114.6,526 1113.3,522.7 1112.6,520.2C1111.9,517.7 1112.5,515 1112.6,512.7C1112.7,510.4 1111.8,507.8 1113.1,506.5Z"/>
<path fill="#fd5232" d="M927.7,597.1C927.9,596.6 932.8,597.4 935.3,596.1C937.8,594.8 940.3,591.1 942.8,589.1C945.3,587.1 947,585.4 950.3,584.1C953.6,582.9 958.6,582.6 962.8,581.6C967,580.6 971.1,578.6 975.3,577.9C979.5,577.2 984.1,576.8 987.9,577.4C991.7,578 995.2,579.6 997.9,581.6C1000.6,583.6 1002.8,586.4 1004.1,589.1C1005.4,591.8 1006.3,595.2 1005.9,597.9C1005.5,600.6 1003.8,603.3 1001.6,605.4C999.4,607.5 996,609.1 992.9,610.4C989.8,611.7 985.9,613.4 982.8,613.4C979.7,613.4 976.6,611.7 974.1,610.4C971.6,609.1 970.5,606.6 967.8,605.4C965.1,604.2 961.1,603.4 957.8,603.4C954.5,603.4 950.7,605.6 947.8,605.4C944.9,605.2 942.6,603.4 940.3,602.4C938,601.4 936.1,600 934,599.1C931.9,598.2 927.5,597.6 927.7,597.1Z"/>
<path fill="#fd5232" d="M1166.8,339.5C1166.7,338.7 1167.8,337 1168.7,336.4C1169.6,335.8 1171.4,335.5 1172.4,335.8C1173.4,336.1 1174.7,337.5 1174.9,338.3C1175.1,339.1 1174.6,340.3 1173.7,340.8C1172.8,341.3 1170.5,341.6 1169.3,341.4C1168.1,341.2 1166.9,340.3 1166.8,339.5Z"/>
<path fill="#fd5232" d="M1173.7,333.9C1173.9,333.1 1175.5,332.1 1176.8,331.4C1178.1,330.7 1180.2,329.9 1181.8,329.9C1183.4,329.9 1185.3,330.7 1186.2,331.4C1187.1,332.1 1187.4,333.1 1187.1,333.9C1186.8,334.7 1185.6,335.9 1184.3,336.4C1183,336.9 1180.8,337 1179.3,337C1177.8,337 1176.5,336.9 1175.6,336.4C1174.7,335.9 1173.5,334.7 1173.7,333.9Z"/>
<path fill="#fd5232" d="M1191.8,237.7C1191.8,236 1192,233.9 1193,232.7C1194,231.4 1196.2,230.6 1198.1,230.2C1200,229.8 1202.2,229.6 1204.3,230.2C1206.4,230.8 1209.1,232.2 1210.6,233.9C1212.1,235.6 1213.3,238.7 1213.1,240.2C1212.9,241.7 1211.4,242.1 1209.3,242.7C1207.2,243.3 1203.3,243.9 1200.6,243.9C1197.9,243.9 1194.5,243.7 1193,242.7C1191.5,241.7 1191.8,239.4 1191.8,237.7Z"/>
<path fill="#fd5232" d="M1300,182.6C1302.4,181.3 1305,179.8 1307.5,179.6C1310,179.4 1312.1,180.4 1315,181.3C1317.9,182.2 1321.7,184.3 1325,185.1C1328.3,185.9 1332.2,185.5 1335.1,186.3C1338,187.1 1340.5,188.4 1342.6,190.1C1344.7,191.8 1347,193.8 1347.6,196.3C1348.2,198.8 1347.3,202.6 1346.3,205.1C1345.2,207.6 1343,209.3 1341.3,211.4C1339.6,213.5 1337.4,215.3 1336.3,217.6C1335.2,219.9 1334.6,222.4 1334.6,225.1C1334.6,227.8 1335.2,231.6 1336.3,233.9C1337.4,236.2 1339,237.9 1341.3,238.9C1343.6,239.9 1347,239.8 1350.1,239.7C1353.2,239.6 1357,238.6 1360.1,238.2C1363.2,237.8 1366.4,236.9 1368.9,237.2C1371.4,237.5 1373.2,238.7 1375.1,240.2C1377,241.7 1379.3,244.3 1380.2,246.4C1381.1,248.5 1381.6,250.6 1380.7,252.7C1379.8,254.8 1377.5,257.1 1375.1,259C1372.7,260.9 1369.3,262.3 1366.4,264C1363.5,265.7 1360.7,267.6 1357.6,269C1354.5,270.4 1350.9,271.8 1347.6,272.7C1344.3,273.6 1340.9,274.5 1337.6,274.5C1334.3,274.5 1330.3,272.6 1327.6,272.7C1324.9,272.8 1323.4,274.3 1321.3,275.2C1319.2,276.1 1317.3,277.6 1315,278.2C1312.7,278.8 1310,277.6 1307.5,279C1305,280.4 1302.4,284.2 1300,286.5C1297.6,288.8 1295.4,290.3 1293.2,292.8C1291,295.3 1288.9,298.6 1287,301.5C1285.1,304.4 1283.9,308.1 1282,310.3C1280.1,312.5 1278,314.4 1275.7,314.8C1273.4,315.2 1271.1,313.8 1268.2,312.8C1265.3,311.8 1260.9,310.9 1258.2,309C1255.5,307.1 1253.4,304 1251.9,301.5C1250.4,299 1249.7,296.7 1249.4,294C1249.1,291.3 1249.4,288 1250.2,285.3C1251,282.6 1252.9,280.2 1254.4,277.7C1255.9,275.2 1258.2,272.9 1259.4,270.2C1260.7,267.5 1260.9,264.4 1261.9,261.5C1263,258.6 1264,255.4 1265.7,252.7C1267.4,250 1270.4,247.9 1271.9,245.2C1273.4,242.5 1273,238.7 1274.5,236.4C1276,234.1 1278.6,233.3 1280.7,231.4C1282.8,229.5 1285.5,227.6 1287,225.1C1288.5,222.6 1289.5,219.5 1289.5,216.4C1289.5,213.3 1287.2,209.8 1287,206.4C1286.8,203.1 1287.2,199.4 1288.2,196.3C1289.2,193.2 1291.2,189.9 1293.2,187.6C1295.2,185.3 1297.6,183.9 1300,182.6Z"/>
<path fill="#fd5232" d="M1069.1,802.8C1069.1,802 1072.6,801 1075.3,800.3C1078,799.5 1082.2,799.1 1085.3,798.3C1088.4,797.5 1091.6,796.6 1094.1,795.3C1096.6,794 1098.7,792.4 1100.4,790.3C1102.1,788.2 1102.8,785.3 1104.1,782.8C1105.3,780.3 1106.4,777 1107.9,775.3C1109.4,773.6 1110.4,773.6 1112.9,772.7C1115.4,771.9 1119.6,771 1122.9,770.2C1126.2,769.4 1130,768.7 1132.9,767.7C1135.8,766.7 1138.2,765.9 1140.5,764C1142.8,762.1 1144.6,758.8 1146.7,756.5C1148.8,754.2 1150.7,751.9 1153,750.2C1155.3,748.5 1157.8,747.2 1160.5,746.4C1163.2,745.6 1166.8,744.8 1169.3,745.2C1171.8,745.6 1174,746.9 1175.5,749C1177,751.1 1177.9,754.6 1178.5,757.7C1179.1,760.8 1179.4,764.6 1179.3,767.7C1179.2,770.8 1179,773.8 1178,776.5C1177,779.2 1175.5,781.7 1173,784C1170.5,786.3 1166.3,788.4 1163,790.3C1159.7,792.2 1156.3,794 1153,795.3C1149.7,796.6 1146.3,797.9 1143,798.3C1139.7,798.7 1136.2,798.1 1132.9,797.8C1129.6,797.5 1126.2,796.6 1122.9,796.5C1119.6,796.4 1116.2,796.7 1112.9,797.3C1109.6,797.9 1105.8,799.3 1102.9,800.3C1100,801.3 1098.3,802.5 1095.4,803.3C1092.5,804 1088.7,804.5 1085.3,804.8C1081.9,805 1078,805.1 1075.3,804.8C1072.6,804.5 1069.1,803.5 1069.1,802.8Z"/>
<path fill="#fd5232" d="M926.3,790.3C926.5,788.5 928.2,786.7 930.1,785.8C932,784.9 934.7,784.5 937.6,784.8C940.5,785.1 944.5,786.7 947.6,787.8C950.7,788.9 954,790 956.4,791.5C958.8,793 961.5,794.7 962.1,796.5C962.7,798.3 961.7,800.8 960.1,802.3C958.5,803.8 955.3,804.8 952.6,805.3C949.9,805.8 946.7,805.9 943.8,805.3C940.9,804.7 937.6,803.1 935.1,801.6C932.6,800.1 930.3,798.4 928.8,796.5C927.3,794.6 926.1,792.1 926.3,790.3Z"/>
<path fill="#fd5232" d="M866.4,612.9C867.6,610.4 869.9,608.9 872.6,607.9C875.3,606.9 879.4,606.5 882.7,606.7C886.1,606.9 889,608.6 892.7,609.2C896.5,609.8 901,609.6 905.2,610.4C909.4,611.2 913.5,612.7 917.7,614.2C921.9,615.7 926.4,617.5 930.2,619.2C934,620.9 937.4,621.9 940.3,624.2C943.2,626.5 945.3,630.3 947.8,633C950.3,635.7 952.8,639 955.3,640.5C957.8,642 959.9,642.3 962.8,641.7C965.7,641.1 969.5,638 972.8,636.7C976.1,635.5 979,634.4 982.8,634.2C986.6,634 991.8,634.5 995.4,635.5C999,636.5 1001.8,638 1004.1,640.5C1006.4,643 1007.2,647 1009.1,650.5C1011,654 1015.2,658.9 1015.4,661.8C1015.6,664.7 1013.3,666.3 1010.4,668C1007.5,669.7 1002.1,671.2 997.9,671.8C993.7,672.4 989.1,671.4 985.3,671.8C981.5,672.2 977.8,672.8 975.3,674.3C972.8,675.8 971.4,678.7 970.3,680.5C969.2,682.3 968.7,683.1 968.9,685.1C969.1,687.1 970.4,690.7 971.4,692.6C972.4,694.5 975.3,694.9 975.1,696.4C974.9,697.9 972.6,699.5 970.1,701.4C967.6,703.3 963.4,705.7 960.1,707.6C956.8,709.5 952.8,711.4 950.1,712.6C947.4,713.8 945.9,715 943.8,714.6C941.7,714.2 939.3,712.1 937.6,710.1C935.9,708.1 935,705.5 933.8,702.6C932.5,699.7 931.5,696.1 930.1,692.6C928.7,689.1 927.3,685.1 925.2,681.8C923.1,678.5 920.6,675.5 917.7,673C914.8,670.5 911,668.7 907.7,666.8C904.4,664.9 901.2,663 897.7,661.8C894.2,660.5 889.8,659.5 886.4,659.3C883,659.1 880.5,659.5 877.6,660.5C874.7,661.5 871.6,664.4 868.9,665C866.2,665.6 862.9,665.2 861.4,664.3C859.9,663.3 859.4,662 859.6,659.3C859.8,656.6 861.8,652 862.6,648C863.4,644 864.1,639.7 864.6,635.5C865.1,631.3 865.3,626.7 865.6,622.9C865.9,619.1 865.2,615.4 866.4,612.9Z"/>
<path fill="#fd5232" d="M820.2,867.6C820.4,865.3 822.7,862.4 825.2,860.1C827.7,857.8 831.5,855.8 835.3,853.9C839.1,852 843.6,850.1 847.8,848.8C852,847.5 855.7,846.9 860.3,846.3C864.9,845.7 871.3,846.1 875.3,845.1C879.3,844.1 881.6,842.4 884.1,840.1C886.6,837.8 888.1,833.8 890.4,831.3C892.7,828.8 895,826.5 897.9,825C900.8,823.5 904.6,822.2 907.9,822C911.2,821.8 915.4,822.4 917.9,823.8C920.4,825.1 921.4,827.6 922.9,830.1C924.4,832.6 926.9,836.1 926.7,838.8C926.5,841.5 924,844.4 921.7,846.3C919.4,848.2 915.6,848.8 912.9,850.1C910.2,851.4 908.3,852.4 905.4,853.9C902.5,855.4 899.2,857.2 895.4,858.9C891.6,860.6 887,862.2 882.8,863.9C878.6,865.6 874.5,867.2 870.3,868.9C866.1,870.6 862,872.6 857.8,873.9C853.6,875.1 849.5,876 845.3,876.4C841.1,876.8 836.2,876.8 832.7,876.4C829.2,876 826.1,875.4 824,873.9C821.9,872.4 820,869.9 820.2,867.6Z"/>
<path fill="#fd5232" d="M926.7,790C926.7,792.3 930.6,797.7 932.9,800C935.2,802.3 937.6,802.9 940.5,803.8C943.4,804.7 947.6,805.6 950.5,805.5C953.4,805.4 955.9,804.3 958,803C960.1,801.7 963,799.9 963,797.5C963,795.1 960.9,790.8 958,788.7C955.1,786.6 949.7,785.4 945.5,785C941.3,784.6 936,785.4 932.9,786.2C929.8,787 926.7,787.7 926.7,790Z"/>
<path fill="#fd5232" d="M1193.3,445.1C1193.5,444 1195.9,442 1197.7,440.8C1199.5,439.6 1201.4,438.8 1203.9,438.2C1206.4,437.6 1210,437.6 1212.7,437.4C1215.4,437.2 1218.1,437.4 1220.2,437C1222.3,436.6 1224.4,436 1225.2,435.1C1226,434.2 1224.4,432.3 1225.2,431.4C1226,430.5 1228.4,429.7 1230.3,429.5C1232.2,429.3 1235,429.5 1236.5,430.1C1238,430.7 1239,431.9 1239,433.2C1239,434.4 1237.4,436.1 1236.5,437.6C1235.6,439.1 1234.3,440.3 1233.4,442C1232.5,443.7 1231.4,445.5 1230.9,447.7C1230.4,449.9 1230.2,452.7 1230.3,455.2C1230.4,457.7 1231,460.8 1231.5,462.7C1232,464.6 1232.4,465.7 1233.4,466.5C1234.5,467.3 1236.3,466.9 1237.8,467.7C1239.3,468.5 1241.2,469.9 1242.2,471.5C1243.2,473.1 1244,475.1 1244.1,477.1C1244.2,479.1 1243.6,481.6 1242.8,483.4C1242,485.2 1240.2,486.6 1239,487.8C1237.8,489 1236.8,489.7 1235.3,490.3C1233.8,490.9 1232,491.7 1230.3,491.5C1228.6,491.3 1226.6,490.2 1225.2,489C1223.8,487.8 1222.8,485.9 1222.1,484C1221.4,482.1 1221.2,479.9 1220.9,477.8C1220.6,475.7 1220.1,473.3 1220.2,471.5C1220.3,469.7 1221.9,468.7 1221.5,467.1C1221.1,465.5 1219.2,463.9 1217.7,462.1C1216.2,460.3 1214.4,458.1 1212.7,456.4C1211,454.7 1209.6,453.2 1207.7,452C1205.8,450.8 1203.3,449.6 1201.4,448.9C1199.5,448.2 1197.8,448.3 1196.4,447.7C1195.1,447.1 1193.1,446.2 1193.3,445.1Z"/>
<path fill="#fd5232" d="M1179.5,504.1C1179.5,502.7 1179.9,500.9 1180.7,499.7C1181.5,498.5 1182.9,497.3 1184.5,496.8C1186.1,496.3 1188.1,496.1 1190.1,496.6C1192.1,497.1 1194.3,498.7 1196.4,499.7C1198.5,500.7 1201.1,501.6 1202.7,502.8C1204.3,504 1205.2,505.2 1205.8,506.6C1206.4,508 1206.7,509.9 1206.4,511C1206.1,512.1 1205.4,512.9 1203.9,513.5C1202.5,514.1 1200,514.4 1197.7,514.4C1195.4,514.4 1192.4,514.1 1190.1,513.5C1187.8,512.9 1185.5,511.9 1183.9,511C1182.3,510.1 1181.4,509 1180.7,507.9C1180,506.8 1179.5,505.5 1179.5,504.1Z"/>
<path class="g" d="M89.0,249.6L121.7,271.6L154.4,292.6L187.1,312.6L219.8,331.7L252.5,349.9L285.2,367.3L317.9,383.9L350.6,399.6L383.3,414.6L416.0,428.8L448.7,442.3L481.4,455.1L514.1,467.1L546.8,478.5L579.5,489.2L612.2,499.2L644.9,508.5L677.6,517.2L710.3,525.3L743.0,532.8L775.7,539.6L808.4,545.8L841.1,551.5L873.8,556.5L906.5,560.9L939.2,564.7L971.9,568.0L1004.6,570.6L1037.3,572.7L1070.0,574.2L1102.7,575.2L1135.4,575.5L1168.1,575.3L1200.8,574.5L1233.5,573.1L1266.2,571.1L1298.9,568.6L1331.6,565.4L1364.3,561.7L1397.0,557.4L1429.7,552.5L1462.4,547.0L1495.1,540.9L1527.8,534.2L1560.5,526.8L1593.2,518.9L1625.9,510.3L1658.6,501.1L1691.3,491.2L1724.0,480.6L1756.7,469.4L1789.4,457.5L1822.1,444.9L1854.8,431.5L1887.5,417.4L1920.2,402.6L1952.9,387.0L1985.6,370.6L2018.3,353.4L2051.0,335.3"/>
<path class="g" d="M97.0,764.7L129.6,781.0L162.2,796.7L194.8,811.7L227.4,826.2L260.0,840.0L292.6,853.2L325.2,865.9L357.8,878.0L390.4,889.5L423.0,900.5L455.6,910.9L488.2,920.8L520.8,930.2L553.4,939.1L586.0,947.4L618.6,955.3L651.2,962.6L683.8,969.4L716.4,975.8L749.0,981.7L781.6,987.0L814.2,991.9L846.8,996.4L879.4,1000.3L912.0,1003.8L944.6,1006.8L977.2,1009.3L1009.8,1011.4L1042.4,1013.0L1075.0,1014.1L1107.6,1014.8L1140.2,1015.0L1172.8,1014.7L1205.4,1014.0L1238.0,1012.8L1270.6,1011.2L1303.2,1009.1L1335.8,1006.5L1368.4,1003.5L1401.0,999.9L1433.6,995.9L1466.2,991.5L1498.8,986.5L1531.4,981.1L1564.0,975.2L1596.6,968.8L1629.2,961.9L1661.8,954.5L1694.4,946.6L1727.0,938.2L1759.6,929.3L1792.2,919.9L1824.8,909.9L1857.4,899.4L1890.0,888.4L1922.6,876.8L1955.2,864.7L1987.8,851.9L2020.4,838.6L2053.0,824.8"/>
<path class="g" d="M920.0,153.9L927.7,155.1L935.3,156.2L943.0,157.2L950.7,158.3L958.3,159.2L966.0,160.2L973.7,161.1L981.3,161.9L989.0,162.8L996.7,163.5L1004.3,164.3L1012.0,165.0L1019.7,165.6L1027.3,166.2L1035.0,166.8L1042.7,167.3L1050.3,167.8L1058.0,168.3L1065.7,168.7L1073.3,169.0L1081.0,169.4L1088.7,169.6L1096.3,169.9L1104.0,170.1L1111.7,170.2L1119.3,170.4L1127.0,170.5L1134.7,170.5L1142.3,170.5L1150.0,170.5L1157.7,170.4L1165.3,170.3L1173.0,170.1L1180.7,169.9L1188.3,169.6L1196.0,169.4L1203.7,169.0L1211.3,168.7L1219.0,168.3L1226.7,167.8L1234.3,167.3L1242.0,166.8L1249.7,166.2L1257.3,165.6L1265.0,165.0L1272.7,164.3L1280.3,163.5L1288.0,162.8L1295.7,162.0L1303.3,161.1L1311.0,160.2L1318.7,159.3L1326.3,158.3L1334.0,157.3L1341.7,156.2L1349.3,155.1L1357.0,153.9L1364.7,152.7L1372.3,151.5L1380.0,150.2"/>
<path class="g" d="M617.4,155L290.6,1052"/>
<path class="g" d="M1138,155L1138,1060.5"/>
<path class="g" d="M1659.8,155L1987,1052.5"/>
<path class="b" d="M1085.5,435.1L1091.8,438.8L1096.8,442.6L1095.6,447.6L1103.1,450.1L1113.1,453.9L1120.6,457.6L1128.1,460.1L1136.9,463.9L1145.6,462.6L1150.7,464.6"/>
<path class="b" d="M867.6,472.7L875.1,470.2L885.2,468.9L888.9,473.9L885.2,478.9L890.2,481.4L900.2,482.7L907.7,485.2L915.2,481.4L917.7,478.9L925.2,481.4L935.3,482.7L936.5,490.2L935.3,495.2L941.5,496.4L945.3,499.5L940.3,505.2L932.7,510.2L926.5,515.2L920.2,520.2L922.2,530.3L921.5,540.3L919.7,547.8L912.7,555.3L915.2,562.8L912.7,569.1L907.7,574.1L900.2,574.8L892.7,575.3L896.4,582.9L900.2,590.4L902.7,597.9L909,602.4L905.2,607.9L898.9,614.2L895.2,621.7L893.2,629.2L897.7,634.2L903.9,638L900.2,643L892.7,646.7L886.4,655.5L882.7,663L883.9,670.5L883.9,678"/>
<path class="b" d="M1084.1,435.5L1092.9,439.3L1096.6,446.8L1100.4,450.1"/>
<path class="b" d="M1300,180.1L1305,183.8L1310,190.1L1320,192.6L1332.6,193.8L1350.1,195.6L1346.3,202.6L1342.6,215.1L1340.1,227.6L1339.6,240.2L1341.3,251.4L1335.1,255.2L1327.6,260.2L1325,267.7L1318.8,275.2L1313.8,285.3L1310,295.3L1306.3,302.8"/>
<path class="b" d="M1328.8,301.5L1331.3,310.3L1333.8,320.3L1330.1,325.3L1333.8,332.8L1340.1,340.4L1335.1,347.9L1327.6,354.1L1332.6,360.4L1340.1,367.9L1337.6,375.4L1343.8,384.2L1353.9,389.2L1362.6,390.5L1360.1,398L1357.6,403"/>
<path class="b" d="M1333.8,321.6L1345.1,317.8L1355.1,314.1L1362.6,305.3L1368.9,295.3L1372.6,302.8L1380.2,306.5L1377.6,315.3L1380.2,320.3L1383.9,310.3L1386.4,305.3L1390.2,315.3L1392.7,302.8L1396.4,290.3L1402.7,292.8L1410.2,291.5L1417.7,295.3L1415.2,286.5L1417.7,280.2L1424,279L1424,264"/>
<path class="b" d="M1341.3,251.4L1350.1,250.2L1362.6,246.4L1367.6,241.4L1377.6,241.4"/>
<path class="b" d="M1398.9,246.4L1395.2,255.2L1396.4,264L1407.7,267.7L1415.2,270.2L1422.7,265.2L1424,264L1430.2,267.7L1437.8,269L1441.5,261.5L1452.8,256.4L1462.8,252.7L1467.8,250.2L1472.8,257.7L1480.3,264L1492.9,265.2L1505.4,264L1512.9,264L1507.9,272.7L1514.2,277.7L1515.4,286.5L1517.9,292.8"/>
<path class="b" d="M1398.9,246.4L1405.2,247.7L1414,252.7L1417.7,241.4L1425.2,240.2L1435.3,245.2L1450.3,235.2L1465.3,228.9L1477.8,223.9L1486.6,230.2L1486.6,222.6L1480.3,215.1L1475.3,207.6L1480.3,200.1L1487.9,193.8L1490.4,185.1L1497.9,181.3L1497.9,177.6L1500.4,180.1"/>
<path class="b" d="M1512.9,264L1525.4,262.7L1537.9,260.2L1545.5,255.2L1553,248.9L1563,242.7L1573,238.9L1578,231.4L1575.5,222.6L1578,210.1L1575.5,200.1L1585.5,195.1L1588,182.6L1583,172.5L1576.8,162.5L1576.8,155"/>
<path class="b" d="M1460.3,155L1470.3,162.5L1482.8,168.8L1495.4,175L1500.4,180.1L1512.9,177.6L1520.4,172.5L1522.9,162.5L1530.4,158.8L1545.5,160L1560.5,161.3L1576.8,156.3"/>
<path class="b" d="M1588,182.6L1600.6,185.1L1615.6,181.3L1628.1,175L1635.6,170L1633.1,165L1643.1,160L1646.9,155"/>
<path class="b" d="M1578,231.4L1584.3,237.7L1585.5,243.9L1575.5,255.2L1569.3,265.2L1574.3,272.7L1568,280.2L1566.8,290.3L1555.5,294L1546.7,295.3L1540.5,300.3L1530.4,302.8L1522.9,304"/>
<path class="b" d="M1350,389.4L1356.3,390L1362.5,388.8L1363.8,392.5L1360,398.8L1358.8,403.2"/>
<path class="b" d="M1680,127.6L1690,123.8L1698.8,127.6L1707.6,121.3L1706.3,107.6L1708.8,95L1710.1,83.8"/>
<path class="b" d="M1707.6,121.3L1720.1,126.3L1732.6,128.9L1745.1,121.3L1760.2,116.3L1772.7,113.8L1785.2,116.3L1790.2,110.1L1800.2,102.6L1810.2,95L1812.7,83.8"/>
<path class="b" d="M1732.6,128.9L1727.6,140.1L1720.1,150.1L1717.6,165.2L1716.3,182.7L1713.8,200.2L1712.6,211.5L1703.8,217.8L1695,224L1687.5,225.3L1680,226.5"/>
<path class="b" d="M1695,224L1705,230.3L1712.6,237.8L1720.1,245.3L1730.1,247.8L1740.1,250.3L1741.4,260.3L1752.6,262.9L1762.7,261.6L1770.2,255.3L1780.2,256.6L1781.4,265.4L1787.7,270.4L1796.5,272.9L1797.7,282.9L1810.2,275.4L1822.8,272.9L1835.3,267.9L1850.3,262.9L1865.3,260.3L1875.4,252.8L1880.4,242.8L1887.9,231.5L1897.9,222.8L1907.9,219L1917.9,219L1928,215.3L1930.5,217.8L1940.5,218.3L1950.5,215.3"/>
<path class="b" d="M1787.7,270.4L1782.7,282.9L1785.2,292.9L1792.7,300.4L1805.2,305.4L1810.2,309.2L1807.7,320.5L1802.7,328L1805.2,335.5L1809,340.5L1805.2,348L1795.2,350.5L1787.7,355.5L1780.2,363L1775.2,369.3"/>
<path class="b" d="M1837.8,83.8L1850.3,95L1865.3,102.6L1877.9,110.1L1887.9,117.6L1892.9,130.1L1900.4,145.1L1905.4,155.2L1915.4,161.4L1925.5,155.2L1933,145.1L1943,141.4"/>
<path class="b" d="M1910.4,83.8L1920.5,87.5L1928,92.5L1930.5,100L1920.5,103.8L1910.4,107.6L1907.9,116.3L1915.4,125.1L1914.2,135.1L1911.7,145.1L1912.9,152.6"/>
<path class="b" d="M1930.5,100L1940.5,98.8L1950.5,100"/>
<path class="b" d="M1946.8,275.4L1955.5,282.9L1966.8,287.9L1955.5,292.9L1943,295.4L1938,304.2L1930.5,310.4L1928,319.2L1921.7,323L1928,328L1943,329.2L1940.5,340.5L1939.2,353L1941.7,363"/>
<path class="b" d="M1809,340.5L1820.3,345.5L1827.8,353L1832.8,360.5L1836.5,375.1"/>
<path class="b" d="M1839.2,376.5L1846.7,372.7L1854.3,367.7L1863,362.7L1869.3,355.2L1880.6,348.9L1890.6,353.9L1898.1,351.4L1905.7,351.4L1913.2,347.7L1920.7,341.4L1928.2,336.4L1929.5,327.6L1922,322.6"/>
<path class="b" d="M1839.2,376.5L1832.9,381.5L1835.4,385.3L1829.2,390.3L1819.1,394.1L1812.9,400.3L1810.4,406.6L1802.8,411.6L1792.8,416.6"/>
<path class="b" d="M1672.9,230.3L1677.9,228.4L1685.5,225.9L1692.4,225.2L1698,221.5L1703,219.6L1704.3,215.2L1711.8,211.4L1714.3,203.9L1713.7,196.4L1716.8,187.6L1716.8,175.1L1719.3,162.5L1718.7,156.3L1720.6,150"/>
<path class="b" d="M1692.4,225.2L1698,229.6L1704.3,230.9L1710.6,234L1713.7,239L1716.8,243.4L1724.3,246.6L1731.9,247.8L1739.4,249.1L1739.4,256.6L1744.4,257.9L1740.7,262.9L1748.2,263.5L1753.2,264.1L1759.5,262.2L1765.7,266L1769.5,256.6L1774.5,254.7L1782,256.6L1777,259.1L1777,264.1L1782,267.9L1785.8,270.4L1797.1,271.6L1797.7,274.8L1795.8,277.9L1797.1,282.9L1803.4,280.4L1807,276.7"/>
<path class="b" d="M1659.1,246.6L1662.9,254.1L1667.9,259.1L1670.4,264.1L1677.9,266.6L1683.6,267.9L1675.4,271.6L1674.8,276.7L1677.9,281.7L1685.5,279.8L1687.4,285.4L1686.1,294.2L1685.5,300"/>
<path class="b" d="M1785.8,270.4L1783.3,276.7L1782,285.4L1785.8,291.7L1790.8,298L1792.1,300"/>
<path class="b" d="M1600.2,300L1602.7,294.2L1610.2,290.5L1615.2,287.9L1625.3,288.6L1635.3,285.4L1642.8,286.7L1647.9,282.9L1655.4,281.1L1665.4,279.8L1671.7,285.4L1677.9,282.9"/>
<path class="b" d="M1584.5,297.5L1590.2,296.3L1596.4,301.3L1601.4,302.5L1604,296.3L1610.2,293.8L1612.7,290"/>
<path class="b" d="M1584.5,297.5L1585.1,305L1588.9,312.6L1593.9,317.6L1597.7,321.4L1602.7,326.4L1607.7,332.6L1615.2,337.7L1622.8,342.7L1630.3,348.9L1637.8,352.7L1645.3,355.2L1649.1,361.5L1655.4,365.2L1662.9,370.3"/>
<path class="b" d="M1685.5,290L1684.8,297.5L1686.7,302.5L1694.3,306.3L1704.3,310.1L1701.8,313.8L1695.5,317L1700.5,321.4L1706.8,325.1L1705.5,330.1L1700.5,333.3L1693,337.7L1696.8,342.7L1693,345.2L1689.9,350.2L1688,357.7L1685.5,362.7L1688,370.3L1693,375.3L1690.5,379"/>
<path class="b" d="M1699.3,333.9L1708,338.9L1715.6,342.7L1724.3,343.9L1731.9,345.2L1740.7,346.4L1740.7,351.4L1736.9,356.5L1738.1,361.5L1728.1,366.5L1724.3,364L1721.8,372.8L1720.6,380.3L1715.6,384.1L1721.8,387.8L1726.9,386.6L1720.6,381.5"/>
<path class="b" d="M1738.1,361.5L1743.2,367.8L1750.7,370.3L1757,372.8L1760.7,377.8L1764.5,384.1L1765.7,380.3L1764.5,372.8L1770.7,366.5L1775.8,364L1783.3,357.7L1790.8,352.7L1799.6,347.7L1807,346.4"/>
<path class="b" d="M1760.7,377.8L1763.2,387.8L1764.5,396.6L1769.5,405.4L1774.5,410.4L1779.5,419.2L1783.3,412.9L1788.3,415.4L1790.8,422.9L1794.6,427.9L1793.3,435.5L1790.8,440"/>
<path class="b" d="M1780.8,290L1785.8,295L1792.1,301.3L1799.6,303.8L1807,306.3"/>
<path class="b" d="M1790.2,421.3L1792.7,432.6L1790.2,442.6L1790.2,452.7L1782.7,460.2L1783.9,470.2L1775.2,473.9"/>
<path class="b" d="M1959.3,370L1958,382.5L1955.5,388.8"/>
<path class="b" d="M1425.3,700L1430.3,705L1430.3,720L1431.5,737.6L1435.3,750.1L1439,758.9L1436.5,770.1L1436.5,780.2L1434,787.7L1425.3,795.2L1421.5,805.2L1415.2,810.2L1413.5,817.7L1415.2,827.7L1420.2,837.8L1426.5,849.5"/>
<path class="b" d="M1566.8,829L1568,840.3L1570.5,850.3L1574.8,857.8L1565.5,867.8L1555.5,875.3L1550.5,882.8L1544.2,889.1L1543,897.9L1534.2,901.6L1529.2,912.9L1534.2,924.2L1540,937.9L1534.2,953L1527.9,964.2L1515.4,971.8L1507.9,978L1512.9,984.3L1519.2,990.5L1525.4,1000.1L1540.5,1033.1L1543,1050.7L1545.5,1070.7"/>
<path class="b" d="M1426.5,849.5L1440.3,854L1450.3,865.3L1454.1,877.8L1470.3,886.6L1484.1,892.9L1490.4,907.9L1497.9,926.7L1505.4,945.5L1512.9,965.5L1515.4,971.8"/>
<path class="b" d="M1057.8,785.3L1065.3,792.8L1072.8,800.3"/>
<path class="b" d="M780.2,1071L781.4,1058L782.7,1048L795.2,1041.7L810.2,1032.9L827.7,1023.4L842.8,1022.9L852.8,1020.4L864.1,1022.9L875.3,1020.9L890.4,1020.4L906.6,1021.7L909.1,1026.7L915.4,1025.4L922.9,1015.4L932.9,1004.1L945.5,995.4L958,989.1L968,982.8L983,980.3L994.3,977.8L998.1,967.8L995.6,960.3L988,956.5L990.5,949L995.6,945.3L996.8,936.5L1010.6,932.7L1028.1,929L1026.9,919L1038.1,916.5L1055.7,915.7L1075.7,917.2L1090.7,918.2L1089.5,910.2L1098.2,901.4L1090.7,893.9L1083.2,885.2L1080.7,875.1L1075.7,865.1L1078.2,855.1L1074.5,845.1L1077,835.1L1074.5,825L1075.7,815L1070.7,807.5L1073.2,800"/>
<path class="b" d="M1150,464.6L1155,464L1158.8,462.7L1158.2,457.7L1163.8,457.7L1168.8,459.6L1173.8,461.4L1180.1,462.7L1182.6,465.8L1182,471.5L1183.2,474L1188.9,471.5L1191.4,468.3L1197.7,472.7L1200.2,475.9L1206.4,472.7L1211.4,474L1215.8,476.5L1220.2,475.2L1221.5,472.1L1227.8,470.9L1232.8,471.5L1236.5,472.7"/>
<path class="b" d="M1182.6,465.8L1186.4,465.8L1191.4,468.3"/>
<path class="c" d="M1085.5,435.1L1075.5,436.8L1065.5,435.1L1055.5,432.6L1048,433.8L1040.5,430.1L1032.9,427.6L1025.4,428.1L1017.9,427.6L1007.9,428.8L997.9,426.3L987.9,423.8L977.8,420.6L970.3,417.6L964.1,415.5L955.3,416.3L945.3,415.5L936.5,415L927.7,414.3L922.7,411.3L919,407L912.7,404.3L906.4,403.8L900.2,405.5L895.2,408L891.4,412.5L892.7,416.3L886.4,416.3L880.2,417.6L872.6,417.6L866.4,420.1L861.4,423.8L860.1,430.1L862.6,435.1L867.1,438.8L863.9,442.6L870.1,446.4L867.6,451.4L873.9,456.4L867.6,461.4L866.4,467.6L865.6,475.2L864.6,482.7L865.6,490.2L865.6,500.2L865.6,510.2L863.9,520.2L860.1,530.3L856.4,540.3L852.6,550.3L848.8,560.3L843.8,569.1L837.6,575.3L832.6,580.4L828.8,587.9L825,597.9L824.3,605.4L830.1,606.7L837.6,604.2L841.3,597.9L845.1,593.4L848.8,591.6L841.3,601.6L835.1,607.9L831.3,611.7L831.3,616.7L837.6,616.7L843.8,615.4L848.8,620.4L845.1,621.7L843.8,630.5L840.1,638L838.8,648L837.6,658L833.8,668L830.1,675.5L829.6,678L837.6,675.5L845.1,676.8L852.6,678L860.1,681.8L866.4,685.1L873.9,683L882.7,680.5L892.7,679.3L900.2,678L905.2,683L911.5,689.3"/>
<path class="c" d="M1200,521.5L1190.7,523.2L1180.7,526.5L1173.2,530.8L1166.9,536.5L1161.9,542.8L1165.7,545.3L1160.7,550.3L1155.7,555.3L1150.7,562.8L1145.6,570.3L1139.4,579.1L1133.1,587.9L1128.6,596.6L1128.1,605.4L1130.6,614.2L1134.4,620.4L1140.6,624.2L1145.6,627.9L1141.9,633L1135.6,638L1131.1,641.2"/>
<path class="c" d="M1178,155L1178.5,161.3L1173,166.3"/>
<path class="c" d="M1170.9,168.8L1167,170.7L1160.8,173.2L1154.6,175.7L1148.3,179.5L1143.3,183.2L1141.4,187.6L1143.3,191.4L1147.7,192L1150.8,190.8L1145.8,193.3L1140.8,195.8L1135.8,197.7L1129.5,197.4L1123.2,195.8L1117,194.5L1110.7,193.9L1108.2,191.4L1106.9,186.4L1105.7,181.4L1100.7,180.7L1095.6,182L1090.6,180.7L1090.6,185.1L1092.5,190.1L1094.4,195.1L1096.9,200.2L1097.5,206.4L1098.1,212.7L1099.4,219L1101.9,222.5L1096.9,223.4L1090.6,223.4L1088.1,221.5L1086.9,226.5L1084.3,222.7L1080.6,224.6L1075.6,222.1L1070.6,224L1066.8,226.5L1064.3,222.7L1061.8,217.7L1058.6,213.3L1054.3,212.1L1049.2,212.7L1045.5,214.6L1044.2,218.3L1040.5,217.1L1037.3,219.6L1032.9,217.7L1027.9,217.7L1022.9,219L1017.9,219.6L1014.1,222.1L1012.2,226.5L1012.9,230.3L1017.9,230.3L1023.5,229L1026.7,232.8L1022.9,234L1017.9,235.3L1024.2,237.8L1023.5,240.3L1017.9,239.7L1012.9,242.2L1016.6,244.7L1020.4,247.2L1022.3,251.6L1026.7,250.3L1031.7,249.7L1035.4,252.8L1040.5,254.7L1045.5,257.2L1050.5,257.9L1053.6,260.4L1054.3,263.5L1058,262.2L1063,261.6L1065.5,264.1L1069.3,265.4L1073.1,267.3L1072.4,271L1070.6,274.2L1074.3,276L1079.3,275.4L1084.3,276L1090.6,279.8L1085.6,277.9L1080.6,279.2L1079.3,282.9L1083.1,286.1L1080.6,289.2L1078.1,286.7L1080.6,293L1083.1,296.7L1085.6,300"/>
<path class="c" d="M1085.3,300L1088.4,306.3L1092.8,310.1L1099.1,313.2L1105.3,316.3L1107.2,317L1107.9,322.6L1108.5,328.9L1109.1,333.9L1110.4,338.9L1106.6,346.4L1105.3,355.2L1104.1,364L1103.1,372.8L1102.8,382.8L1101.8,392.8L1100.3,402.9L1098.4,412.9L1095.9,421.7L1092.8,427.9L1089,431.7L1085.5,435.1"/>
<path class="c" d="M1104.1,338.9L1109.1,342.7L1114.1,347.7L1117.3,352.7L1118.5,359L1121,365.2L1123.5,369L1122.3,372.1"/>
<path class="c" d="M1107.9,346.4L1112.9,351.4L1116,357.7L1117.9,364L1120.4,368.4"/>
<path class="c" d="M1095.3,318.2L1099.7,318.6L1104.1,320.1L1103.5,321.4L1099.1,320.3Z"/>
<path class="c" d="M1099.1,326.4L1101.6,328.2L1104.1,333.3L1102.2,333.9L1100.3,330.8Z"/>
<path class="c" d="M1102.2,379L1105.3,378.4L1108.5,382.2L1104.1,383.4L1102.2,382.8Z"/>
<path class="c" d="M1300,434.3L1307.5,435.5L1315,438L1323.8,436.8L1332.6,433L1337.6,428L1341.3,420.5L1347.6,414.2L1353.9,408L1362.6,403L1370.1,398L1376.4,391.7L1381.4,384.2L1386.4,377.9L1392.7,374.2L1400.2,373.7L1407.7,375.4L1417.7,379.2"/>
<path class="c" d="M1560.5,325.3L1563,320.3L1558,312.8L1550.5,307.8L1544.2,305.3L1540.5,310.3L1539.2,320.3L1534.2,325.3L1527.9,317.8L1522.9,310.3L1520.4,304L1526.7,297.8L1522.9,295.3L1517.9,292.8L1512.9,295.3L1505.4,297.8L1500.4,302.8L1492.9,306.5L1487.9,310.3L1484.1,320.3L1487.9,325.3L1494.1,330.3L1492.9,337.9L1491.6,347.9L1495.4,357.9L1497.9,362.9L1507.9,369.2L1520.4,374.2L1532.9,379.2L1540.5,381.7"/>
<path class="c" d="M1436.5,322.8L1437.8,314.1L1442.3,304.8L1442.8,312.8L1440.8,322.3Z"/>
<path class="c" d="M994.1,161.3L995.3,157.5L1000.3,155.6L1004.1,155"/>
<path class="c" d="M997.8,160.7L1002.8,161.9L1006.6,165L1010.4,162.5L1011.6,158.8L1016.6,156.3L1020.4,155"/>
<path class="c" d="M1037.9,155L1041.7,158.2L1045.5,158.8L1049.2,155.6"/>
<path class="c" d="M978.4,161.9L979.3,165.7"/>
<path class="c" d="M1069.3,190.1L1071.2,188.2L1074.3,187.6L1074.6,189.9L1071.8,191.1Z"/>
<path class="c" d="M1080,198.3L1083.1,197.4L1086.9,199.2L1086.6,201.4L1082.5,201.2Z"/>
<path class="c" d="M1003.5,224L1005.3,224L1005.6,225.9L1003.7,226Z"/>
<path class="c" d="M1050.5,271L1053.6,271.4L1055.8,273.5L1053.2,274.4L1050.9,273.2Z"/>
<path class="c" d="M1072.7,298.2L1075.2,297.8L1075.9,299.8L1073.4,300Z"/>
<path class="c" d="M1418.3,380L1425.2,381.9L1431.5,383.1L1436.5,386.3L1439.7,391.3L1442.2,397.6L1444.1,402.6L1447.8,407L1451,411.4L1452.8,416.4L1453.8,422.6L1457.9,423.3L1461.6,423.9L1463.5,427.7L1467.9,430.2L1472.3,433.9L1476,437.1L1477.9,440.2L1476,442.1L1479.2,442.1L1484.2,441.4L1489.2,442.7L1493,445.2L1496.7,449L1500.5,452.1L1505.5,454L1510.5,456.5L1514.3,460.3L1518,462.8L1521.8,465.3L1525.6,467.8L1530.6,469.7L1536.9,470.3L1541.9,472.8L1545.6,477.2L1549.4,475.3L1554.4,474.1L1560.7,473.4L1565.7,472.8L1569.5,475.3L1573.2,479.1L1577,484.1L1580.7,487.9L1577,491.6L1582,490.4L1588.3,487.9L1593.3,490.4L1590.8,494.1L1595.8,490.4L1600.8,487.9L1605.8,489.1L1610.8,492.9L1613.4,497.9L1617,504.2"/>
<path class="c" d="M1420.2,426.4L1422.1,427L1424,432.7L1425.2,438.9L1425.9,442.7L1428.4,447.7L1430.3,454L1431.5,460.3L1430.9,466.5L1429.6,472.8L1429,479.1L1428.4,485.3L1427.1,490.4L1425.9,494.7L1421.5,493.5L1416.5,491.6L1412.1,489.7L1411.4,485.3L1412.7,482.8L1408.9,482.2L1407.7,477.8L1405.2,476.6L1406.4,472.8L1403.3,471.5L1404.6,467.8L1400.8,466.5L1402,462.8L1399.5,460.3L1401.4,457.8L1399.5,455.2L1401.4,451.5L1402.7,447.7L1406.4,445.2L1410.2,442.7L1414,440.2L1418.3,439.6L1419.6,433.9L1419.2,428.9Z"/>
<path class="c" d="M1442.8,432.7L1445.3,430.2L1450.3,428.9L1453.5,429.5L1453.5,433.3L1449.1,434.6L1445.3,435.2Z"/>
<path class="c" d="M1432,423.3L1433.5,423.3L1433.5,424.5L1432,424.5Z"/>
<path class="c" d="M1443.1,440.6L1444.6,440.6L1444.6,441.8L1443.1,441.8Z"/>
<path class="c" d="M1469.4,444.8L1470.9,444.8L1470.9,446.1L1469.4,446.1Z"/>
<path class="c" d="M1476.5,448.1L1478,448.1L1478,449.4L1476.5,449.4Z"/>
<path class="c" d="M1452.1,449L1453.6,449L1453.6,450.2L1452.1,450.2Z"/>
<path class="c" d="M1949.3,83.8L1951.8,92.5L1952.5,102.6L1950.5,112.6L1946.8,121.3L1941.7,128.9L1938,126.3L1943,135.1L1946.8,140.1L1950.5,147.6L1953,155.2L1954.3,160.2L1949.3,165.2L1943,168.9L1941.7,175.2L1940.5,185.2L1943,195.2L1946.8,202.7L1950.5,210.3L1954.3,217.8L1958,222.8L1954.3,229L1948,235.3L1946,245.3L1949.3,255.3L1950,265.4L1946.8,275.4L1955.5,277.9L1965.5,282.9L1971.8,290.4L1980.6,295.4L1993.1,297.9L2005.6,297.2L2015.6,295.4L2028.2,291.7L2038.2,287.9L2045.7,282.9L2050.2,278.4"/>
<path class="c" d="M2015.6,93.8L2014.4,98.8L2018.1,100L2023.1,92.5L2033.2,88.8L2043.2,91.3L2050.7,95L2055.7,102.6L2057,112.6L2060,112.6"/>
<path class="c" d="M1943,141.4L1938,147.6L1935.5,155.2L1940.5,162.7L1938,168.9L1941.7,175.2"/>
<path class="c" d="M1542.5,306.3L1548.8,305L1556.3,310.1L1562.6,315.1L1563.8,321.4L1568.8,327.6L1576.4,335.1L1583.9,340.2L1588.9,348.9L1595.2,354L1602.7,357.7L1607.7,362.7L1615.2,361.5L1625.3,360.2L1635.3,362.7L1642.8,365.2L1650.4,369L1660.4,371.5L1670.4,375.3L1680.5,379L1688,381.5L1698,384.1L1708,389.1L1715.6,392.8L1723.1,396.6L1733.1,396.6L1735.6,400.4L1736.9,405.4L1735,411.6L1737.5,417.9L1740.7,425.4L1743.2,431.7L1741.9,440"/>
<path class="c" d="M1540,380.3L1545,387.8L1551.3,396.6L1556.3,405.4L1562.6,412.9L1570.1,419.2L1577.6,424.2L1585.1,427.3L1592.7,430.5L1601.4,433L1610.2,431.7L1620.3,429.2L1630.3,427.3L1634.1,429.2L1632.8,434.2L1627.8,440"/>
<path class="c" d="M1612.7,364L1620.3,360.2L1630.3,359.6L1639.1,362.1L1644.1,365.2L1637.8,367.8L1630.3,370.3L1622.8,369L1616.5,366.5Z"/>
<path class="c" d="M1624,372.8L1632.8,370.3L1642.8,370.3L1652.9,371.5L1662.9,374L1670.4,376.5L1662.9,377.8L1652.9,376.5L1642.8,375.3L1632.8,375.3Z"/>
<path class="c" d="M1634.1,379L1644.1,377.8L1655.4,377.8L1665.4,379.7L1657.9,380.9L1646.6,380.9L1637.8,380.5Z"/>
<path class="c" d="M1542.5,306.3L1547.5,304.4L1552.5,307.6L1557.6,312.6L1562.6,317.6L1563.2,322.6L1558.8,320.1L1553.8,315.1L1547.5,312.6L1543.8,310.1Z"/>
<path class="c" d="M1557.6,321.4L1565.1,325.1L1572.6,330.1L1580.1,335.1L1586.4,338.9L1582.6,340.2L1575.1,336.4L1567.6,331.4L1560.1,326.4Z"/>
<path class="c" d="M1568.8,346.4L1576.4,348.9L1583.9,352.7L1590.2,356.5L1587.7,359L1580.1,355.2L1572.6,351.4Z"/>
<path class="c" d="M1714.3,383.4L1720.6,381.5L1726.9,386.6L1723.1,388.4L1716.8,386.6Z"/>
<path class="c" d="M1547.5,315.1L1552.5,318.8L1558.8,325.1L1563.8,331.4L1561.3,332.6L1555,326.4L1550,321.4Z"/>
<path class="c" d="M1558.8,327.6L1566.3,332.6L1573.9,337.7L1581.4,342.7L1578.9,344.6L1571.4,340.2L1563.8,335.1Z"/>
<path class="c" d="M1550,331.4L1553.8,335.1L1552.5,337L1548.8,333.3Z"/>
<path class="c" d="M1570.1,342.7L1577.6,346.4L1585.1,350.2L1583.3,352.1L1575.7,348.9L1569.5,345.2Z"/>
<path class="c" d="M1560.1,340.2L1563.8,342.7L1562.6,344.6L1558.8,342Z"/>
<path class="c" d="M1615.2,365.2L1625.3,362.7L1635.3,364L1642.8,367.1L1635.3,368.4L1625.3,367.8Z"/>
<path class="c" d="M1626.5,370.3L1636.6,368.4L1647.9,369.6L1657.9,372.1L1666.7,374.7L1657.9,375.3L1647.9,374L1636.6,372.8Z"/>
<path class="c" d="M1640.3,376.5L1650.4,375.3L1660.4,376.5L1667.9,378.4L1660.4,379.3L1650.4,378.8Z"/>
<path class="c" d="M1670.4,377.8L1677.9,379.7L1685.5,382.2L1677.9,382.2Z"/>
<path class="c" d="M1635.3,380.3L1642.8,379.7L1647.9,380.9L1641.6,382.2Z"/>
<path class="c" d="M1616.5,379.7L1618.4,378.4L1620.3,380L1618.4,382.2Z"/>
<path class="c" d="M1641.6,385.3L1644.1,384.7L1644.7,386.6L1642.2,387.2Z"/>
<path class="c" d="M1690,380L1702.5,383.8L1715,386.3L1725.1,391.3L1733.8,397.6L1736.3,410.1L1740.1,422.6L1742.6,435.1L1745.1,445.1L1750.1,453.9L1757.6,460.2L1767.6,463.9L1775.2,470.2L1780.2,480.2L1790.2,486.5L1802.7,490.2L1812.7,492.7L1820.2,489.7L1824,494L1816.5,495.2L1811.5,502.7L1809.7,512.8L1815.2,510.3L1817.7,505.3L1825.3,509L1830.3,515.3L1835.3,514L1840.3,509L1845.3,510.3L1852.8,506.5L1862.8,502.7L1872.8,499L1880.4,497.7L1890.4,499L1900.4,497.7L1895.4,505.3L1890.4,509L1880.4,507.3L1870.3,507.8L1860.3,509L1852.8,512.8L1845.3,517.8L1841.5,525.3L1839,532.8L1842.8,536.6L1850.3,540.3L1857.8,544.1L1862.8,550.3L1865.3,557.9L1867.8,565.4L1875.3,571.6L1880.4,570.4L1879.1,562.9L1881.6,556.6L1887.9,559.1L1892.9,564.1L1899.1,570.4L1905.4,575.4L1904.9,566.6L1902.9,559.1L1907.9,556.6L1915.4,560.4L1922.9,565.4L1926.7,564.1L1920.4,557.9L1915.4,550.3L1910.4,542.8L1902.9,535.3L1895.4,530.3L1897.9,525.3L1905.4,527.8L1912.9,530.3L1917.9,526.5L1922.9,522.8L1915.4,520.3L1910.4,516.5L1902.9,512.8L1899.1,507.8L1905.4,502.7L1912.9,500.2L1922.9,502.7L1930.5,505.3L1935.5,502.7L1933,496.5L1927.9,490.2L1922.9,485.2L1915.4,482.7L1907.9,480.2L1897.9,479L1887.9,477.7L1877.9,476.4L1867.8,477.7"/>
<path class="c" d="M1897.9,371.3L1890.4,373.8L1887.9,380L1880.4,385L1872.8,387.5L1875.3,392.5L1880.4,397.6L1887.9,398.8L1899.1,401.3L1900.4,405.1L1890.4,401.3L1880.4,402.6L1881.6,407.6L1889.1,410.1L1892.9,415.1L1882.9,411.3L1874.1,413.8L1876.6,418.8L1885.4,421.3L1877.9,423.9L1870.3,420.1L1872.8,416.3L1862.8,416.3L1852.8,413.8L1845.3,407.6L1844,415.1L1846.5,423.9L1852.8,431.4L1860.3,437.6L1867.8,443.9L1875.3,448.9L1882.9,453.9L1886.6,457.7L1880.4,458.9L1874.1,456.4L1870.3,461.4L1875.3,466.4L1880.4,468.9L1885.4,462.7L1895.4,466.4L1907.9,467.7L1919.2,465.2L1924.2,470.2L1927.9,477.7L1934.2,482.7L1943,480.2L1943,486.5L1934.2,487.7L1925.4,484L1915.4,479L1905.4,476.4L1895.4,472.7L1885.4,471.4L1876.6,473.9L1867.8,477.7"/>
<path class="c" d="M1953,370L1955.5,380L1959.3,390L1963,400.1L1964.3,406.3L1973,401.3L1986.8,391.3L1985.6,400.1L1983,407.6L1973,410.1L1965.5,412.6L1960.5,418.8L1968,422.6L1978,421.3L1985.6,416.3L1983,411.3"/>
<path class="c" d="M1988.1,390L1993.1,402.6L1999.3,412.6L2003.1,420.1L2000.6,427.6L2008.1,432.6L2013.1,430.1L2005.6,436.4L1996.8,435.1L1989.3,432.6L1993.1,440.1L1990.6,447.6L2000.6,445.1L2013.1,446.4L2023.1,445.1L2029.4,450.2L2028.1,456.4L2018.1,458.9L2011.9,463.9L2020.6,462.7L2030.6,461.4L2038.2,466.4L2048.2,467.7L2051.9,472.7L2045.7,480.2L2055.7,477.7L2059.9,476.4"/>
<path class="c" d="M1973,443.9L1981.8,441.4L1986.8,445.1L1984.3,452.7L1983,457.7L1976.8,453.9L1975.5,447.6Z"/>
<path class="c" d="M1996.8,481.5L2001.8,472.7L2005.1,472.7L2000.6,481.5Z"/>
<path class="c" d="M1765.1,476.4L1771.4,472.7L1777.7,477.7L1783.9,485.2L1778.9,486.5L1771.4,482.7Z"/>
<path class="c" d="M1810.2,526.5L1814,517.8L1819,520.3L1825.3,527.8L1820.2,531.6L1814,530.3Z"/>
<path class="c" d="M1824,541.6L1829,539.1L1836.5,542.8L1832.8,546.6L1826.5,545.3Z"/>
<path class="c" d="M1809.7,510.3L1811.5,504L1814,511.5Z"/>
<path class="c" d="M1921.7,572.9L1926.7,572.4L1929.2,577.9L1924.2,580.4Z"/>
<path class="c" d="M1955.5,594.2L1960.5,590.4L1965.5,592.9L1973,586.7L1978,590.4L1985.6,587.9L1995.6,582.9L2008.1,579.1L2018.1,576.6L2028.1,572.9L2035.6,575.4L2045.7,570.4L2049.4,564.1L2051.9,572.9L2050.7,577.9L2041.9,580.4L2035.6,585.4L2025.6,590.4L2015.6,595.4L2006.8,601.7L1998.1,599.2L1988.1,599.2L1978,601.7L1968,605.4L1960.5,607.9L1958,601.7Z"/>
<path class="c" d="M1690,457.7L1700,458.9L1711.3,463.9L1720.1,470.2L1725.1,477.7L1725.1,487.7L1717.6,489L1710,482.7L1702.5,477.7L1690,476.4"/>
<path class="c" d="M1903.7,380L1902.8,382.4L1900.5,383.8L1897.7,383.8L1895.5,382.4L1894.6,380L1895.5,377.7L1897.7,376.2L1900.5,376.2L1902.8,377.7Z"/>
<path class="c" d="M1935.6,400.7L1935.1,402.4L1932.9,404.2L1929.7,405.4L1926.8,405.5L1925.3,404.4L1925.8,402.7L1928,400.9L1931.2,399.7L1934.1,399.7Z"/>
<path class="c" d="M1933.9,375.7L1933.5,376.9L1931.9,377.9L1929.7,378.3L1927.9,377.9L1927,376.9L1927.4,375.6L1929,374.6L1931.2,374.2L1933,374.6Z"/>
<path class="c" d="M1947,381.8L1946.9,383.2L1945.5,384.8L1943.4,386.1L1941.2,386.4L1940,385.8L1940.1,384.4L1941.4,382.7L1943.6,381.5L1945.7,381.1Z"/>
<path class="c" d="M1971.1,492.8L1968.6,493.3L1963,492.2L1956.5,489.8L1951.5,487.1L1949.9,485.1L1952.4,484.6L1958,485.8L1964.5,488.1L1969.5,490.9Z"/>
<path class="c" d="M1980.8,494.5L1980.4,495.7L1979.2,496.4L1977.8,496.4L1976.7,495.7L1976.3,494.5L1976.7,493.3L1977.8,492.6L1979.2,492.6L1980.4,493.3Z"/>
<path class="c" d="M1945.9,502.6L1946.2,504.4L1945.7,505.8L1944.7,506.1L1943.5,505.4L1942.6,503.9L1942.3,502.1L1942.7,500.7L1943.8,500.4L1945,501.1Z"/>
<path class="c" d="M1952.1,510.2L1952.4,511.9L1952,513.3L1951,513.6L1949.8,512.9L1948.8,511.4L1948.6,509.6L1949,508.3L1950,507.9L1951.2,508.6Z"/>
<path class="c" d="M1959,519.3L1958.6,520.3L1957.6,521L1956.4,521L1955.4,520.3L1955,519.3L1955.4,518.3L1956.4,517.6L1957.6,517.6L1958.6,518.3Z"/>
<path class="c" d="M1967.2,500.1L1967.3,501.6L1966.8,502.8L1965.8,503.2L1964.7,502.6L1963.9,501.3L1963.7,499.8L1964.2,498.7L1965.2,498.3L1966.3,498.9Z"/>
<path class="c" d="M1969,522.8L1968.6,524L1967.5,524.7L1966.1,524.7L1964.9,524L1964.5,522.8L1964.9,521.6L1966.1,520.9L1967.5,520.9L1968.6,521.6Z"/>
<path class="c" d="M1983,513.2L1982.1,515.4L1980.6,516.6L1979.1,516.4L1978.1,514.7L1978.1,512.3L1979,510.1L1980.4,508.9L1982,509.2L1982.9,510.8Z"/>
<path class="c" d="M1993.3,507.8L1992.6,510.4L1990.7,512L1988.4,512L1986.5,510.4L1985.8,507.8L1986.5,505.1L1988.4,503.5L1990.7,503.5L1992.6,505.1Z"/>
<path class="c" d="M1993.6,524L1993.1,525.1L1991.8,525.7L1990.3,525.7L1989,525.1L1988.6,524L1989,523L1990.3,522.4L1991.8,522.4L1993.1,523Z"/>
<path class="c" d="M2008.5,510.8L2007.2,513.4L2005.9,514.9L2005,514.6L2004.9,512.6L2005.7,509.7L2007,507.1L2008.3,505.6L2009.1,506L2009.2,507.9Z"/>
<path class="c" d="M2028.1,514L2027.8,515.5L2026.8,516.4L2025.5,516.4L2024.5,515.5L2024.1,514L2024.5,512.5L2025.5,511.6L2026.8,511.6L2027.8,512.5Z"/>
<path class="c" d="M1965.2,534.3L1965.4,535.6L1964.6,537.3L1962.9,538.7L1961.1,539.3L1959.8,538.8L1959.6,537.5L1960.5,535.8L1962.1,534.4L1963.9,533.8Z"/>
<path class="c" d="M2002.6,534.1L2002.2,535.2L2001.2,536L2000,536L1999,535.2L1998.6,534.1L1999,532.9L2000,532.2L2001.2,532.2L2002.2,532.9Z"/>
<path class="c" d="M1987.1,616.7L1986.8,617.4L1986,617.9L1985.1,617.9L1984.3,617.4L1984.1,616.7L1984.3,616L1985.1,615.5L1986,615.5L1986.8,616Z"/>
<path class="c" d="M1781.7,414.6L1782,417L1781.1,418.8L1779.3,419.5L1777.4,418.6L1776.1,416.6L1775.8,414.2L1776.7,412.3L1778.5,411.7L1780.4,412.5Z"/>
<path class="c" d="M1791.7,418.1L1791.2,420L1790,421.2L1788.4,421.2L1787.2,420L1786.7,418.1L1787.2,416.2L1788.4,415L1790,415L1791.2,416.2Z"/>
<path class="c" d="M2004.5,472.5L2004.5,474L2003,476.4L2000.6,478.8L1998.2,480.3L1996.7,480.4L1996.7,478.9L1998.2,476.5L2000.6,474.1L2003,472.6Z"/>
<path class="c" d="M1932.6,452.2L1931.6,452.8L1929.9,452.6L1928.3,451.6L1927.3,450.3L1927.3,449.1L1928.3,448.5L1930,448.7L1931.6,449.7L1932.6,451Z"/>
<path class="c" d="M2014.4,297L2016,301.4L2015.6,305.1L2012.5,308.3L2007.5,311.4L2002.5,313.3L1997.4,313.9L1992.4,316.4L1988.7,320.2L1986.2,323.3L1981.1,324.6L1977.4,326.5L1974.9,330.2L1975.5,335.2L1974.2,341.5L1972.4,346.5L1968.6,351.5L1964.8,356.6L1961.7,353.4L1958.6,355.3L1954.8,360.3L1952.3,366.6L1951.7,371.6"/>
<path class="c" d="M1963.6,370.4L1963.6,360.3L1966.1,357.8L1969.9,356.6L1974.9,354.7L1978.6,352.2L1982.4,354.1L1987.4,353.4L1993.7,351.5L1999.9,347.8L2006.2,344L2012.5,340.3L2018.8,336.5L2025,333.4L2030,329.6L2031.9,325.8L2028.8,324L2023.8,327.1L2020.6,325.2L2023.8,320.2L2028.8,313.9L2035.1,308.3L2041.3,303.9L2046.3,302L2041.3,305.8L2036.3,310.2L2031.3,315.2L2026.3,321.4"/>
<path class="c" d="M2015.6,305.1L2020,307L2026.3,308.3L2031.3,307.7L2037.6,305.1L2043.8,302.6L2048.9,301.4"/>
<path class="c" d="M1961.1,353.4L1957.3,356.6L1949.8,360.3L1942.3,364.1L1936,357.8L1928.5,359.1L1920.9,360.3L1913.4,362.2L1907.1,362.8L1903.4,366.6L1899.6,371.6L1893.4,372.2L1888.3,374.1L1885.8,379.1L1883.3,385.4L1877,387.9L1872,391.7L1874.5,396.7L1879.6,400.5L1884.6,401.7L1892.1,400.5L1899.6,404.2L1898.4,406.7L1890.8,405.5L1883.3,404.2L1878.3,406.7L1880.8,410"/>
<path class="c" d="M1994.7,342.1L1994.5,343.6L1993,345L1990.8,345.8L1988.8,345.7L1987.6,344.7L1987.9,343.2L1989.3,341.8L1991.5,341L1993.6,341.1Z"/>
<path class="c" d="M1988.9,339L1988.6,339.7L1987.9,340.2L1986.9,340.2L1986.2,339.7L1985.9,339L1986.2,338.3L1986.9,337.8L1987.9,337.8L1988.6,338.3Z"/>
<path class="c" d="M1690,830.3L1700,829.1L1710,829.8L1716.3,834.1L1721.3,841.6L1725.1,850.4L1731.3,859.1L1740.1,865.4L1752.6,867.9L1765.1,867.9L1775.2,865.4L1785.2,864.2L1797.7,863.4L1810.2,864.2L1822.7,864.9L1835.3,865.9L1845.3,866.7L1855.3,871.7L1865.3,875.4L1875.3,877.9L1882.9,877.9L1890.4,874.2L1897.9,867.9L1904.2,859.1L1907.9,850.4L1910.4,840.4L1911.7,830.3L1909.2,822.8L1902.9,816.6L1896.6,810.3L1891.6,800.3L1890.4,789L1892.4,777.7L1896.6,767.7L1902.9,757.7L1910.4,748.9L1917.9,742.7L1926.7,738.9L1930.5,732.7L1936.7,727.6L1948,723.9L1960.5,722.6L1973,722.6L1985.6,722.1L1991.8,721.4L1994.3,730.2L2004.3,735.2L2015.6,732.7L2028.1,730.2L2038.2,730.7L2048.2,726.4L2055.7,722.6L2059.9,720.1"/>
<path class="c" d="M1426.5,498.9L1420.2,503.9L1415.2,510.1L1410.2,516.4L1403.9,520.2L1398.9,518.9L1399.7,511.4L1397.2,515.1L1396.4,525.2L1398.9,531.4L1403.9,536.4L1407.7,542.7L1410.2,551.5L1411.5,560.2L1414,567.7L1412.2,576.5L1414,585.3L1412.7,591.5L1409,590.3L1414,596.5L1420.2,599L1424,600.3L1432.7,597.3L1435.3,590.3L1436.5,584L1444,585.3L1452.3,586.5L1453.3,575.3L1452.8,565.2L1454,557.7L1451.5,547.7L1447.8,540.2L1450.3,530.2L1447.8,520.2L1444,512.6L1440.3,506.4L1435.3,501.4L1430.2,498.1Z"/>
<path class="c" d="M1617.6,503.9L1623.1,505.1L1633.1,508.9L1636.9,505.6L1643.1,511.4L1649.4,520.2L1655.7,527.7L1661.9,536.4L1666.9,543.9L1670.2,551.5L1665.7,556.5L1661.9,561.5L1661.9,570.2L1658.2,576.5L1660.7,585.3L1665.7,590.3L1675.7,589L1679.5,580.3L1683.2,570.2L1682,557.7L1685.7,547.7L1690.7,540.2L1698.2,536.4L1695.7,527.7L1693.2,517.6L1683.2,513.9L1670.7,510.1L1667.7,500.1L1669.4,487.6L1671.9,477.6L1675.7,473.8L1683.2,472.6L1683.2,477.6L1690.7,478.1L1700,476.3"/>
<path class="c" d="M1700,458.8L1690.7,456.3L1678.2,453.8L1663.2,451.3L1648.2,448.8L1635.6,446.3L1628.1,442.5L1626.9,440"/>
<path class="c" d="M1658.2,576.5L1650.7,581.5L1643.1,585.3L1635.6,589L1628.1,591.5L1618.1,597.8L1608.1,602.8L1599.3,606.6L1590.5,604.1L1583,600.3L1575.5,604.1L1570.5,610.3L1563,609.8L1558,615.3L1558,624.1L1563,629.1L1570.5,631.6L1580.5,630.4L1590.5,634.1L1600.6,637.9L1610.6,640.4L1620.6,639.1L1628.1,642.9L1635.6,647.9L1645.6,649.1L1655.7,647.9L1660.7,646.6L1658.2,637.9L1660.7,630.4L1655.7,622.8L1650.7,615.3L1649.4,605.3L1651.9,595.3L1654.4,585.3Z"/>
<path class="c" d="M1300,701.7L1307.5,703L1315,708L1322.5,710.5L1330.1,705.5L1340.1,700.5L1350.1,695.5L1356.4,689.2L1361.4,686.7L1367.6,690.5L1375.1,691.7L1385.2,688L1387.7,684.2L1397.7,684.2L1405.2,688L1415.2,686.7L1425.2,684.2L1435.3,683L1442.8,677.9L1450.3,670.4L1460.3,664.2L1470.3,660.4L1480.3,661.7L1487.9,664.2L1489.1,670.4L1492.9,677.9L1497.9,681.7L1502.9,677.9L1507.9,670.4L1512.9,664.2L1517.9,664.2L1521.7,670.4L1517.9,680.5L1512.9,688L1507.9,695.5L1505.6,701"/>
<path class="c" d="M1477.8,665.4L1477.4,666.9L1476.1,667.8L1474.6,667.8L1473.3,666.9L1472.8,665.4L1473.3,663.9L1474.6,663L1476.1,663L1477.4,663.9Z"/>
<path class="c" d="M1553.7,668.7L1553.4,669.7L1552.3,670.4L1551.1,670.4L1550.1,669.7L1549.7,668.7L1550.1,667.7L1551.1,667L1552.3,667L1553.4,667.7Z"/>
<path class="c" d="M1648,689L1646.1,689.4L1642.7,688.4L1638.9,686.2L1636.3,683.8L1635.8,682L1637.6,681.5L1641.1,682.5L1644.8,684.7L1647.5,687.1Z"/>
<path class="c" d="M1505.4,700L1506.7,708.8L1511.7,716.3L1520.4,721.3L1529.2,725L1531.7,735.1L1536.7,741.3L1533,747.6L1531.7,756.4L1527.9,765.1L1522.9,772.6L1514.2,780.2L1507.9,787.7L1505.4,796.4L1507.9,803.9L1514.2,810.2L1521.7,814L1530.5,814L1538,811.5L1544.2,812.7L1549.2,817.7L1553,824L1563,827.7L1573,829L1583,831.5L1593.1,834.8L1603.1,835.3L1615.6,834L1625.6,829L1633.1,825.2L1645.7,825.2L1658.2,826.5L1670.7,825.2L1680.7,829L1690,830.2"/>
<path class="c" d="M1534.2,802.7L1540.5,800.7L1545,803.9L1541.7,810.2L1539.2,817.7L1535.5,819.7L1533.5,812.7Z"/>
<path class="c" d="M1130.4,640L1124.2,645L1119.2,652.5L1115.4,661.3L1112.9,668.8L1109.9,672.6L1114.2,676.3L1105.4,678.8L1095.4,678.8L1087.9,682.6L1080.3,688.8L1075.3,696.4L1072.8,702.6L1067.8,708.9L1062.8,713.4L1057.8,709.6L1050.3,708.1L1044,713.9L1035.3,712.1L1025.2,711.4L1017.7,712.6L1007.7,710.9L997.7,710.1L985.2,710.1L977.6,715.1L967.6,718.1L957.6,720.2L951.3,726.4L947.6,733.9L941.3,736.4L932.6,731.4L925,723.9L921.3,715.1L918.8,706.4L917.5,698.9L923.8,695.1L916.3,696.4L912.5,688.8L905,682.6L900,677.6"/>
<path class="c" d="M900,800.3L907.5,787.8L915,772.7L922.5,757.7L928.8,745.2L937.6,744.7L946.3,741.4L951.3,742.7L948.8,747.7L951.3,755.2L956.4,762.7L965.1,770.2L975.1,775.3L985.2,777.3L995.2,775.3L1005.2,774L1015.2,777.3L1025.2,776.5L1031.5,770.2L1032.2,775.3L1036.5,782.8L1044,781.5L1050.3,784L1057.8,785.3L1066.6,785.8L1075.3,782.8L1085.3,776.5L1092.9,769L1100.4,762.7L1110.4,757.7L1117.9,755.7L1122.9,751.5L1130.4,754L1136.7,755.2L1141.7,747.7L1150.5,738.9L1163,731.4L1175.5,725.2L1188,722.2L1200.6,720.2L1215.6,718.1L1228.1,716.4L1238.1,710.1L1245.6,708.1L1255.7,707.6L1265.7,703.9L1275.7,702.1L1288.2,701.4L1300,700.9"/>
<path class="c" d="M900.4,800L895.4,807.5L887.9,817.5L875.3,825L860.3,830.1L845.3,835.1L830.2,838.8L820.2,843.8L810.2,852.6L800.2,861.4L788.9,868.9L786.4,877.6L782.7,887.7L775.1,896.4L766.4,905.2L758.9,916.5L756.4,927.7L753.9,940.3L750.1,950.3L755.1,956.5L758.9,965.3L756.4,975.3L750.1,985.3L740.1,995.4L730.1,1005.4L720,1014.2L710,1021.7L700,1025.4"/>
<path class="c" d="M496.5,788.8L500.2,787.5L505.2,790L511.5,793.8L515.3,797.6L512.7,801.3L506.5,801.3L500.2,797.6L497.2,793.8Z"/>
<path class="c" d="M412.6,956.6L417.6,954.1L422.6,956.6L422.6,964.1L418.8,970.4L413.8,972.4L412.1,964.1Z"/>
<path class="c" d="M391.3,1000.4L397.5,999.2L403,997.9L402,1002.9L397,1007.2L392.5,1004.2Z"/>
<path class="c" d="M438.4,995.4L437.4,998.1L434.9,999.7L431.8,999.7L429.3,998.1L428.3,995.4L429.3,992.8L431.8,991.1L434.9,991.1L437.4,992.8Z"/>
<path class="c" d="M448.9,989.2L457.6,989.9L466.4,988.4L473.9,986.7L482.7,987.4L483.2,989.9L475.2,992.9L470.2,996.7L466.4,1002.9L461.4,1006.7L453.9,1006.7L451.4,1000.4Z"/>
<path class="c" d="M506.5,1021.7L504.6,1027.6L499.6,1031.2L493.4,1031.2L488.4,1027.6L486.4,1021.7L488.4,1015.8L493.4,1012.2L499.6,1012.2L504.6,1015.8Z"/>
<path class="c" d="M542.8,1028L549.1,1026.7L555.3,1023L560.3,1015.5L565.3,1007.9L570.4,1003.4L575.4,1005.4L575.4,1013L571.6,1020.5L566.6,1026.7L559.1,1027.5L552.8,1029.2L547.8,1031.7Z"/>
<path class="c" d="M577.9,996.7L580.4,991.7L587.9,989.2L594.2,986.7L596.7,984.2L597.4,990.4L594.2,995.4L587.9,998.4L580.4,1000.4Z"/>
<path class="c" d="M533.8,788.3L533.5,788.7L532.8,789L531.8,789L531.1,788.7L530.8,788.3L531.1,787.8L531.8,787.6L532.8,787.6L533.5,787.8Z"/>
<path class="c" d="M520,809.6L519.9,810.5L519.7,811L519.4,811L519.1,810.5L519,809.6L519.1,808.7L519.4,808.1L519.7,808.1L519.9,808.7Z"/>
<path class="c" d="M700.1,1025.5L688.1,1028L678.1,1034.2L668,1041.8L655.5,1046.8L640.5,1050L625.5,1051L612.9,1050L602.9,1050.5L595.4,1055.5L589.1,1063L585.4,1073.1"/>
<path class="c" d="M221.3,400.8L220.9,402L219.7,402.7L218.3,402.7L217.2,402L216.8,400.8L217.2,399.7L218.3,398.9L219.7,398.9L220.9,399.7Z"/>
<path class="c" d="M234,416.5L232,416.4L228.5,414.1L225.1,410.6L222.8,407.2L222.7,405.2L224.7,405.4L228.1,407.6L231.6,411.1L233.8,414.5Z"/>
<path class="c" d="M245.5,416.2L244,415.2L241.2,411.7L238,407.1L235.7,403.2L235.2,401.5L236.6,402.5L239.5,406L242.7,410.6L245,414.5Z"/>
<path class="c" d="M251.1,393.8L250.8,394.7L250.1,395.3L249.1,395.3L248.4,394.7L248.1,393.8L248.4,393L249.1,392.4L250.1,392.4L250.8,393Z"/>
<path class="c" d="M270.9,421.1L268.8,422.6L265.7,422.5L262.8,420.8L261.1,418.2L261.4,415.6L263.5,414.1L266.6,414.2L269.5,415.9L271.2,418.6Z"/>
<path class="c" d="M311.4,485.4L308.5,485.7L302.8,483.4L296.5,479.4L292,475.3L291,472.6L293.9,472.3L299.6,474.6L305.9,478.5L310.4,482.6Z"/>
<path class="c" d="M300.2,517.1L299.8,518.1L298.6,518.7L297.2,518.7L296.1,518.1L295.7,517.1L296.1,516L297.2,515.4L298.6,515.4L299.8,516Z"/>
<path class="c" d="M167.6,326.1L167.8,327.5L167,328.9L165.5,329.8L163.9,329.7L162.8,328.9L162.6,327.5L163.4,326.1L164.9,325.2L166.5,325.2Z"/>
<path class="c" d="M1197.7,522.3L1205.2,519.1L1208.9,514.1L1215.2,510.4L1222.7,506L1230.3,501.6L1236.5,495.3L1238.4,490.3L1236.5,485.3L1234,481.5L1237.8,479L1239.7,475.9L1236.5,472.7L1234,468.3L1232.1,464L1230.9,456.4L1230.9,450.2L1232.8,443.9L1236.5,438.9L1240.3,436.4L1245.3,433.9L1250.3,429.5L1254.1,425.1L1257.2,423.2L1260.4,423.8L1262.9,426.3L1269.1,427L1274.2,428.2L1276.7,430.1L1280.4,430.1L1282.9,428.8L1287.9,427L1289.2,429.5L1294.2,430.1L1298,430.7L1300.5,433.9"/>
<path class="c" d="M1277.9,421.3L1279.2,425.1L1282.9,428.8"/>
<path class="c" d="M1287.9,422.6L1291.7,423.8L1287.9,427"/>
<path class="c" d="M1215.2,592L1220.2,587L1226.5,581.4L1232.8,577L1237.8,574.8L1242.2,575.1L1240.9,578.9L1242.8,582.6L1247.2,581.4L1251,582.6L1252.2,585.8L1249.7,590.1L1247.2,595.2L1244.7,599.6L1239,603.3L1235.3,600.2L1230.3,599.6L1228.4,595.2L1225.2,593.3L1220.9,595.8L1216.5,593.9Z"/>
<path class="c" d="M1261.6,572L1263.5,568.8L1269.1,568.2L1274.8,569.5L1277.9,573.2L1278.5,577L1276,578.6L1271.6,576.4L1266.6,573.8L1262.9,574.5Z"/>
<path class="c" d="M1178.8,622.8L1180.1,618.4L1183.2,614.6L1187.6,612.7L1192,613.3L1192,617.1L1188.9,620.2L1186.4,623.4L1183.2,624.6L1180.1,623.8Z"/>
<path class="c" d="M1184.5,631.5L1186.4,628.4L1190.8,630.3L1190.1,632.2L1187,631.5Z"/>
<path class="c" d="M1236.4,609.2L1236.3,609.6L1235.9,609.9L1235.4,609.9L1235,609.6L1234.9,609.2L1235,608.8L1235.4,608.5L1235.9,608.5L1236.3,608.8Z"/>
<path class="d" d="M190.2,82C190.8,84.2 192.5,91.4 194,95C195.5,98.6 197.9,100.5 199,103.8C200.1,107.1 200.1,110.7 200.3,115.1C200.5,119.5 200.4,125.1 200.3,130.1C200.2,135.1 199.8,140.1 199.8,145.1C199.8,150.1 200,155.6 200.3,160.2C200.6,164.8 201.3,169.4 201.5,172.7C201.7,176 202.3,177.5 201.5,180.2C200.7,182.9 198,186.1 196.5,189C195,191.9 193.8,194.8 192.7,197.7C191.6,200.6 191.4,203.8 190.2,206.5C188.9,209.2 187.3,211.9 185.2,214C183.1,216.1 180.4,216.9 177.7,219C175,221.1 171.5,223.4 169,226.5C166.5,229.6 165.2,234.2 162.7,237.8C160.2,241.4 156.4,244.5 153.9,247.8C151.4,251.1 149.6,254.5 147.7,257.8C145.8,261.1 143.9,264.5 142.7,267.8C141.5,271.1 141,274.5 140.7,277.8C140.4,281.1 141.4,284.8 140.7,287.9C140,291 138.8,293.9 136.4,296.6C134,299.3 130.2,301.6 126.4,304.1C122.7,306.6 117.2,309.2 113.9,311.7C110.6,314.2 108.4,316.3 106.3,319.2C104.2,322.1 103.2,325.4 101.3,329.2C99.4,332.9 97.2,338.1 95.1,341.7C93,345.2 91.3,348.6 88.8,350.5C86.3,352.4 81.5,352.6 80,353"/>
<path class="d" d="M1450.3,345.4C1450.1,341.4 1450.7,338 1452.8,335.3C1454.9,332.6 1459,330.4 1462.8,329.1C1466.5,327.8 1471.1,327.4 1475.3,327.3C1479.5,327.2 1484.4,327.4 1487.9,328.3C1491.5,329.2 1494.5,330.8 1496.6,332.8C1498.7,334.8 1499.8,337.5 1500.4,340.4C1501,343.3 1500.8,347.1 1500.4,350.4C1500,353.7 1499.6,357.9 1497.9,360.4C1496.2,362.9 1494.2,364.3 1490.4,365.4C1486.6,366.4 1479.9,366.7 1475.3,366.7C1470.7,366.7 1466.3,366.7 1462.8,365.4C1459.2,364.1 1456.1,362.4 1454,359.1C1451.9,355.8 1450.5,349.4 1450.3,345.4Z"/>
<path class="d" d="M1515.4,450.1C1515.2,448.1 1515,441.7 1514.2,438C1513.4,434.3 1512.3,431.3 1510.4,428C1508.5,424.7 1505,421.8 1502.9,418C1500.8,414.2 1498.5,409.5 1497.9,405.5C1497.3,401.5 1497.8,398 1499.1,394.2C1500.3,390.4 1502.7,385.8 1505.4,382.9C1508.1,380 1512.1,378.1 1515.4,376.7C1518.7,375.2 1521.7,374.5 1525.4,374.2C1529.2,373.9 1534.1,374.3 1537.9,374.9C1541.7,375.5 1545.7,375.9 1548,377.9C1550.3,379.9 1551.5,383.3 1551.7,386.7C1551.9,390.1 1550.7,394.9 1549.2,398C1547.8,401.1 1545.3,403.4 1543,405.5C1540.7,407.6 1537.1,408.8 1535.4,410.5C1533.7,412.2 1532.5,413.8 1532.9,415.5C1533.3,417.2 1535.4,418.8 1537.9,420.5C1540.4,422.2 1544.2,424 1548,425.5C1551.8,427 1556.3,428.2 1560.5,429.3C1564.7,430.4 1570.9,431.4 1573,431.8"/>
<path class="d" d="M1665.1,111.4C1665.9,109.9 1668.6,105.1 1670.1,102.6C1671.6,100.1 1672.7,98.1 1673.9,96.3C1675.2,94.5 1675.9,92.9 1677.6,91.9C1679.3,90.9 1681.4,90.6 1683.9,90.3C1686.4,90 1691.2,90 1692.7,90"/>
<path class="d" d="M1665.1,100.1C1666.1,99 1668.9,95.4 1671.4,93.8C1673.9,92.2 1678.6,91.2 1680.1,90.7"/>
<path class="d" d="M1916.7,235.3C1916.9,232.6 1918.8,228.9 1920.5,225.3C1922.2,221.8 1925,217.1 1926.7,214C1928.4,210.9 1928.2,207.8 1930.5,206.5C1932.8,205.2 1937.2,206.1 1940.5,206.5C1943.8,206.9 1948,207.1 1950.5,209C1953,210.9 1954.5,215.3 1955.5,217.8C1956.5,220.3 1957.8,222.3 1956.8,224C1955.8,225.7 1951.2,225.9 1949.3,227.8C1947.4,229.7 1946.1,232.4 1945.5,235.3C1944.9,238.2 1947.2,243.1 1945.5,245.3C1943.8,247.5 1938.8,248.1 1935.5,248.3C1932.2,248.5 1928.2,247.7 1925.5,246.6C1922.8,245.5 1920.7,243.5 1919.2,241.6C1917.7,239.7 1916.5,238 1916.7,235.3Z"/>
<path class="d" d="M1956.8,224C1958.5,223.6 1958.6,231.3 1960.5,235.3C1962.4,239.3 1965.1,243.8 1968,247.8C1970.9,251.8 1974.8,255.6 1978.1,259.1C1981.4,262.7 1986,266.6 1988.1,269.1C1990.2,271.6 1991.2,272.4 1990.6,274.1C1990,275.8 1986.8,278.9 1984.3,279.1C1981.8,279.3 1978.7,277.7 1975.6,275.4C1972.5,273.1 1968.8,268.9 1965.5,265.4C1962.2,261.8 1958.6,257.2 1955.5,254.1C1952.4,251 1947.6,249.3 1946.8,246.6C1946,243.9 1948.8,241.6 1950.5,237.8C1952.2,234 1955.1,224.4 1956.8,224Z"/>
<path class="d" d="M1652.2,155C1651.5,156.2 1648.8,160 1647.9,162.5C1647,165 1646.6,167.6 1646.6,170.1C1646.6,172.6 1647.1,175.3 1647.9,177.6C1648.7,179.9 1649.9,181.8 1651.6,183.9C1653.3,186 1655.6,188.4 1657.9,190.1C1660.2,191.8 1664.5,192.4 1665.4,193.9C1666.3,195.4 1664.1,197 1663.5,198.9C1662.9,200.8 1661.9,202.9 1661.6,205.2C1661.3,207.5 1662,210.2 1661.6,212.7C1661.2,215.2 1660.5,218.4 1659.1,220.2C1657.6,222 1655,222.3 1652.9,223.4C1650.8,224.5 1648.9,225.2 1646.6,226.5C1644.3,227.8 1641.6,230 1639.1,231.5C1636.6,233 1634,233.8 1631.5,235.3C1629,236.8 1626.5,238.5 1624,240.3C1621.5,242.1 1618.6,244.2 1616.5,245.9C1614.4,247.6 1612.9,248.7 1611.5,250.3C1610.1,251.9 1609.3,253.6 1608.3,255.3C1607.2,257 1606.8,258.9 1605.2,260.4C1603.6,261.9 1601.2,262.9 1598.9,264.1C1596.6,265.4 1593.9,266.5 1591.4,267.9C1588.9,269.3 1586.2,270.6 1583.9,272.3C1581.6,274 1579.2,275.9 1577.6,277.9C1576,279.9 1575.4,282.1 1574.5,284.2C1573.6,286.3 1572.6,289 1572,290.5C1571.4,292 1570.4,292 1570.7,293C1571,294 1572.5,295.5 1573.9,296.7C1575.3,297.9 1578.1,299.4 1578.9,300"/>
<path class="d" d="M1620.3,155C1619.2,155.4 1615.5,156.2 1614,157.5C1612.5,158.8 1611.3,160.6 1611.5,162.5C1611.7,164.4 1613.3,167.5 1615.2,168.8C1617.1,170.1 1620.5,170.1 1622.8,170.1C1625.1,170.1 1626.9,169.9 1629,168.8C1631.1,167.8 1633.2,165.5 1635.3,163.8C1637.4,162.1 1640.1,160.3 1641.6,158.8C1643.1,157.3 1643.7,155.6 1644.1,155"/>
<path class="d" d="M1573.9,295C1575.6,296.2 1580.8,299.1 1583.9,302.5C1587,305.9 1591,310.9 1592.7,315.1C1594.4,319.3 1594.1,323.4 1593.9,327.6C1593.7,331.8 1592.1,336.6 1591.4,340.2C1590.7,343.8 1589.3,344.9 1589.5,348.9C1589.7,352.9 1591.1,360.9 1592.7,364C1594.3,367.1 1596.6,367 1598.9,367.8C1601.2,368.6 1604.6,369.2 1606.5,369C1608.4,368.8 1609.6,366.9 1610.2,366.5"/>
<path class="d" d="M1672.9,382.8C1673.7,382.8 1675,382.6 1677.9,382.8C1680.8,383 1686.3,383.1 1690.5,384.1C1694.7,385.2 1698.8,387.9 1703,389.1C1707.2,390.4 1712,390.8 1715.6,391.6C1719.1,392.4 1722.4,392.2 1724.3,394.1C1726.2,396 1726.7,399.8 1726.9,402.9C1727.1,406 1725.6,409.8 1725.6,412.9C1725.6,416 1726.1,419.4 1726.9,421.7C1727.7,424 1730.6,425.2 1730.6,426.7C1730.6,428.2 1727.6,428.3 1726.9,430.5C1726.2,432.7 1726.3,438.4 1726.2,440"/>
<path class="d" d="M1540,375.3C1541,375.5 1544.4,375 1546.3,376.5C1548.2,378 1550.4,381.2 1551.3,384.1C1552.2,387 1552.5,391.6 1551.9,394.1C1551.3,396.6 1549.1,397.2 1547.5,399.1C1545.9,401 1543.8,403.7 1542.5,405.4C1541.2,407.1 1540.4,408.5 1540,409.1"/>
<path class="d" d="M1540,421.7C1542.1,422.5 1548.3,425.4 1552.5,426.7C1556.7,427.9 1561.1,428.4 1565.1,429.2C1569.1,430 1573.7,431.9 1576.4,431.7C1579.1,431.5 1579.1,429.4 1581.4,427.9C1583.7,426.4 1587.5,423.9 1590.2,422.9C1592.9,421.9 1594.8,421.4 1597.7,421.7C1600.6,422 1604.8,424 1607.7,424.8C1610.6,425.6 1612.3,427.2 1615.2,426.7C1618.1,426.2 1622.2,422.5 1625.3,421.7C1628.4,420.9 1631.6,420.9 1634.1,421.7C1636.6,422.5 1638.8,424.8 1640.3,426.7C1641.8,428.6 1642.2,430.8 1642.8,433C1643.4,435.2 1643.9,438.8 1644.1,440"/>
<path class="d" d="M1726.3,385C1726.5,387.5 1727.4,395.1 1727.6,400.1C1727.8,405.1 1727,410.5 1727.6,415.1C1728.2,419.7 1731.3,423.4 1731.3,427.6C1731.3,431.8 1727.8,436.3 1727.6,440.1C1727.4,443.9 1730.5,447.7 1730.1,450.2C1729.7,452.7 1725.9,454.4 1725.1,455.2"/>
<path class="d" d="M1690,443.9C1692.1,444.1 1697.9,444.7 1702.5,445.1C1707.1,445.5 1713.4,445.5 1717.6,446.4C1721.8,447.2 1725.9,449.6 1727.6,450.2"/>
<path class="d" d="M1690,492.7C1692.3,492.7 1699.2,491.9 1703.8,492.7C1708.4,493.5 1713.2,495.6 1717.6,497.7C1722,499.8 1727,502.4 1730.1,505.3C1733.2,508.2 1734.8,512.2 1736.3,515.3C1737.8,518.4 1736.5,522 1738.8,524C1741.1,526 1745.7,526.9 1750.1,527.3C1754.5,527.7 1760.5,527.3 1765.1,526.5C1769.7,525.7 1774.3,522.7 1777.7,522.3C1781.1,521.9 1783.8,521.8 1785.2,524C1786.7,526.2 1786.8,532.4 1786.4,535.3C1786,538.2 1785.4,540.4 1782.7,541.6C1780,542.9 1773.6,541.8 1770.2,542.8C1766.8,543.8 1764.1,545.7 1762.6,547.8C1761.1,549.9 1760.6,552.4 1761.4,555.3C1762.2,558.2 1765.3,561.6 1767.6,565.4C1769.9,569.2 1772.7,574.1 1775.2,577.9C1777.7,581.6 1780.8,584.6 1782.7,587.9C1784.6,591.2 1786,594.1 1786.4,597.9C1786.8,601.7 1785.5,606.3 1785.2,610.5C1784.9,614.7 1784.5,619.2 1784.7,623C1784.9,626.8 1786.5,629.9 1786.4,633C1786.3,636.1 1785.8,639.7 1783.9,641.8C1782,643.9 1777.9,643.8 1775.2,645.5C1772.5,647.2 1769.3,649.3 1767.6,651.8C1765.9,654.3 1765.5,657.5 1765.1,660.5C1764.7,663.5 1765.1,668.5 1765.1,670.1"/>
<path class="d" d="M1690,506.5C1690.8,507.6 1694,509.7 1695,512.8C1696,515.9 1696.5,520.7 1696.3,525.3C1696.1,529.9 1694.6,536.1 1693.8,540.3C1693,544.5 1691.1,546.9 1691.3,550.3C1691.5,553.6 1694.6,557 1695,560.4C1695.4,563.8 1694.6,567.7 1693.8,570.4C1693,573.1 1690.6,575.6 1690,576.6"/>
<path class="d" d="M1793.9,371.3C1792.2,373.2 1796.7,380.2 1797.7,385C1798.8,389.8 1799.8,395.1 1800.2,400.1C1800.6,405.1 1800.6,410.9 1800.2,415.1C1799.8,419.3 1796.9,421.8 1797.7,425.1C1798.5,428.4 1802.3,431.8 1805.2,435.1C1808.1,438.4 1811.7,442 1815.2,445.1C1818.8,448.2 1822.7,451.4 1826.5,453.9C1830.3,456.4 1834.2,459.6 1837.8,460.2C1841.3,460.8 1845.5,459.4 1847.8,457.7C1850.1,456 1851.8,452.5 1851.6,450.2C1851.4,447.9 1849,445.8 1846.5,443.9C1844,442 1839.4,441 1836.5,438.9C1833.6,436.8 1830.9,434.1 1829,431.4C1827.1,428.7 1825.1,425.5 1825.3,422.6C1825.5,419.7 1827.8,416.3 1830.3,413.8C1832.8,411.3 1836.5,409.7 1840.3,407.6C1844,405.5 1849.7,403.4 1852.8,401.3C1855.9,399.2 1859.1,397.1 1859.1,395C1859.1,392.9 1855.9,390.2 1852.8,388.8C1849.7,387.4 1844,387.1 1840.3,386.3C1836.5,385.5 1833.6,385.1 1830.3,383.8C1827,382.6 1824,380.5 1820.2,378.8C1816.4,377.1 1812.1,375.1 1807.7,373.8C1803.3,372.6 1795.6,369.4 1793.9,371.3Z"/>
<path class="d" d="M1994.3,397.6C1995.5,399.7 1999.1,406.6 2001.8,410.1C2004.5,413.6 2007,416.5 2010.6,418.8C2014.1,421.1 2018.9,422.4 2023.1,423.9C2027.3,425.4 2031.4,425.9 2035.6,427.6C2039.8,429.3 2044.6,431.4 2048.2,433.9C2051.8,436.4 2054.9,439.9 2056.9,442.6C2058.9,445.3 2059.4,448.9 2059.9,450.2"/>
<path class="d" d="M2006.8,584.2C2008.3,585 2012.9,588 2015.6,589.2C2018.3,590.5 2020.2,592.1 2023.1,591.7C2026,591.3 2030.2,588.6 2033.1,586.7C2036,584.8 2038.6,582.3 2040.7,580.4C2042.8,578.5 2044.9,576.2 2045.7,575.4"/>
<path class="d" d="M2059.9,292.6C2058.9,292.9 2055.5,292.8 2053.9,294.5C2052.3,296.2 2051.6,299.6 2050.1,302.6C2048.6,305.6 2047.6,310 2045.1,312.7C2042.6,315.4 2038.4,316.4 2035.1,318.9C2031.8,321.4 2027.3,325 2025,327.7C2022.7,330.4 2023.2,332.7 2021.3,335.2C2019.4,337.7 2016.4,340.7 2013.7,342.8C2011,344.9 2008.1,346.1 2005,347.8C2001.9,349.5 1997.8,350.9 1994.9,352.8C1992,354.7 1989.8,357.6 1987.4,359.1C1985,360.6 1981.8,360.1 1980.5,361.6C1979.2,363.1 1979.1,365.6 1979.3,367.9C1979.5,370.2 1981,372.9 1981.8,375.4C1982.6,377.9 1983.1,380.6 1984.3,382.9C1985.5,385.2 1986.9,387.1 1988.7,389.2C1990.5,391.3 1992.8,393.3 1994.9,395.4C1997,397.5 1999.5,399.4 2001.2,401.7C2002.9,404 2004.4,407.9 2005,409.2"/>
<path class="d" d="M1770.2,650C1769.3,651.2 1765.9,654.6 1765.1,657.5C1764.2,660.4 1764.5,664.1 1765.1,667.5C1765.7,670.9 1768.5,674.2 1768.9,677.6C1769.3,681 1768.6,684.3 1767.6,687.6C1766.5,690.9 1764.7,694.5 1762.6,697.6C1760.5,700.7 1757.2,703.3 1755.1,706.4C1753,709.5 1750.9,713.3 1750.1,716.4C1749.3,719.5 1750.7,722.2 1750.1,725.1C1749.5,728 1748.9,731.6 1746.4,733.9C1743.9,736.2 1739.1,737.5 1735.1,738.9C1731.1,740.3 1727.2,741.6 1722.6,742.2C1718,742.8 1712.9,742.8 1707.5,742.7C1702.1,742.6 1692.9,741.6 1690,741.4"/>
<path class="d" d="M2059.9,700.1C2057.5,700.7 2050.6,702.9 2045.7,703.9C2040.8,704.9 2035.6,705.7 2030.6,706.4C2025.6,707.1 2019.6,707.5 2015.6,708.1C2011.6,708.7 2009.3,708.3 2006.8,710.1C2004.3,711.9 2002.7,716.4 2000.6,718.9C1998.5,721.4 1996.4,723 1994.3,725.1C1992.2,727.2 1990.8,730.1 1988.1,731.4C1985.4,732.7 1981.3,733.2 1978,732.7C1974.7,732.2 1971.8,729.2 1968,728.1C1964.2,727 1959.7,726.5 1955.5,726.4C1951.3,726.3 1946.8,727 1943,727.6C1939.2,728.2 1935.7,727.7 1933,730.2C1930.3,732.7 1928.8,738.5 1926.7,742.7C1924.6,746.9 1921.9,751.9 1920.4,755.2C1918.9,758.5 1917.3,760 1917.9,762.7C1918.5,765.4 1922.3,768.6 1924.2,771.5C1926.1,774.4 1928.8,776.9 1929.2,780.2C1929.6,783.5 1926.1,788.1 1926.7,791.5C1927.3,794.9 1930.3,797.8 1933,800.3C1935.7,802.8 1939.7,804.6 1943,806.5C1946.3,808.4 1950.1,809.3 1953,811.6C1955.9,813.9 1958.6,817.2 1960.5,820.3C1962.4,823.4 1963.2,826.9 1964.3,830.3C1965.3,833.6 1966.2,837.5 1966.8,840.4C1967.4,843.3 1966.1,846.2 1968,847.9C1969.9,849.6 1974.5,849.8 1978,850.4C1981.5,851 1986,850.4 1989.3,851.6C1992.6,852.9 1995,856.6 1998.1,857.9C2001.2,859.1 2004.3,859.5 2008.1,859.1C2011.8,858.7 2017,857.7 2020.6,855.4C2024.1,853.1 2026.7,848.9 2029.4,845.4C2032.1,841.9 2035,837.9 2036.9,834.1C2038.8,830.3 2039,826.3 2040.7,822.8C2042.4,819.2 2044.8,815.1 2046.9,812.8C2049,810.5 2051,809.8 2053.2,809C2055.4,808.2 2058.8,808.4 2059.9,808.3"/>
<path class="d" d="M1876.6,774C1877.2,772.5 1878.5,767.1 1880.4,765.2C1882.3,763.3 1886.2,762.1 1887.9,762.7C1889.6,763.3 1890.8,767.5 1890.4,769C1890,770.5 1886.2,771.1 1885.4,771.5"/>
<path class="d" d="M1723.8,866.7C1724.8,868 1726.5,872.5 1730.1,874.2C1733.6,875.9 1740.1,876.5 1745.1,876.7C1750.1,876.9 1755.5,875.8 1760.1,875.4C1764.7,875 1769.3,873.4 1772.7,874.2C1776.1,875 1777.7,877.7 1780.2,880.4C1782.7,883.1 1785.2,887.1 1787.7,890.5C1790.2,893.9 1793.1,897.2 1795.2,900.5C1797.3,903.8 1797.9,907.6 1800.2,910.5C1802.5,913.4 1807.3,915.5 1809,918C1810.7,920.5 1810.6,922.6 1810.2,925.5C1809.8,928.4 1807.2,930.6 1806.5,935.5C1805.8,940.4 1805.6,949.4 1805.7,954.7C1805.8,960 1806.1,963.5 1806.9,967.2C1807.7,970.9 1808.9,974.2 1810.6,977.1C1812.3,980 1813.8,983.4 1816.9,984.6C1820,985.8 1826.4,983.1 1829.3,984.1C1832.2,985.1 1832.6,988.2 1834.3,990.8C1836,993.4 1836.4,997.3 1839.3,999.5C1842.2,1001.7 1847.6,1002.8 1851.7,1004C1855.8,1005.2 1860.6,1006.7 1864.1,1007C1867.6,1007.3 1870.9,1008 1872.8,1005.7C1874.7,1003.4 1873,996.4 1875.3,993.3C1877.6,990.2 1884.4,990.2 1886.5,987.1C1888.6,984 1887,978.1 1887.8,974.6C1888.6,971.1 1889.2,968.8 1891.5,965.9C1893.8,963 1898.1,960.5 1901.4,957.2C1904.7,953.9 1908.7,948.8 1911.4,946C1914.2,943.2 1914.7,942.5 1917.9,940.5C1921.1,938.5 1927,936.8 1930.5,934.3C1934,931.8 1936.7,928.6 1939.2,925.5C1941.7,922.4 1944.7,918.4 1945.5,915.5C1946.3,912.6 1945.7,910.5 1944.2,908C1942.7,905.5 1939.6,902.8 1936.7,900.5C1933.8,898.2 1930.5,895.5 1926.7,894.2C1923,893 1916.9,894.9 1914.2,893C1911.5,891.1 1911,886.7 1910.4,882.9C1909.8,879.1 1910.8,874.4 1910.4,870.4C1910,866.4 1909.6,862.2 1907.9,859.1C1906.2,856 1903.3,854.1 1900.4,851.6C1897.5,849.1 1893.1,847.2 1890.4,844.1C1887.7,841 1886.2,836.5 1884.1,832.8C1882,829 1880.2,825.1 1877.9,821.6C1875.6,818.1 1873.2,814 1870.3,811.6C1867.4,809.2 1863.4,807.7 1860.3,807.3C1857.2,806.9 1853.3,807.7 1851.6,809C1849.9,810.3 1849.9,813 1850.3,815.3C1850.7,817.6 1854.5,820.1 1854.1,822.8C1853.7,825.5 1851.3,829.5 1847.8,831.6C1844.2,833.7 1837.8,834.5 1832.8,835.3C1827.8,836.1 1822.7,835.8 1817.7,836.6C1812.7,837.5 1807.7,839.6 1802.7,840.4C1797.7,841.2 1792.3,840.4 1787.7,841.6C1783.1,842.9 1779.4,845.6 1775.2,847.9C1771,850.2 1767.2,852.9 1762.6,855.4C1758,857.9 1752.2,860.5 1747.6,862.9C1743,865.3 1737.2,868.7 1735.1,869.9"/>
<path class="d" d="M1429,557.7C1429,555 1429,551.5 1430.2,549C1431.5,546.5 1434,544 1436.5,542.7C1439,541.4 1442.8,540.8 1445.3,541.4C1447.8,542 1450.2,543.7 1451.5,546.4C1452.8,549.1 1453.2,554.4 1453.3,557.7C1453.4,561.1 1453.6,564.4 1452.3,566.5C1451,568.6 1447.9,569.6 1445.3,570.2C1442.7,570.8 1439,571 1436.5,570.2C1434,569.4 1431.5,567.3 1430.2,565.2C1429,563.1 1429,560.4 1429,557.7Z"/>
<path class="d" d="M1515.4,442.5C1515.6,444.2 1515.9,449.4 1516.7,452.5C1517.5,455.6 1518.1,458.6 1520.4,461.3C1522.7,464 1526.6,466.9 1530.4,468.8C1534.2,470.7 1538.4,471.8 1543,472.6C1547.6,473.4 1553,473 1558,473.8C1563,474.6 1568.4,476.1 1573,477.6C1577.6,479.1 1581.3,480.9 1585.5,482.6C1589.7,484.3 1593.9,485.5 1598.1,487.6C1602.3,489.7 1606.4,492.4 1610.6,495.1C1614.8,497.8 1619.3,501.2 1623.1,503.9C1626.8,506.6 1630.2,508.7 1633.1,511.4C1636,514.1 1638.9,517.1 1640.6,520.2C1642.3,523.3 1641.4,527.3 1643.1,530.2C1644.8,533.1 1648.2,535.2 1650.7,537.7C1653.2,540.2 1656.3,542.3 1658.2,545.2C1660.1,548.1 1661.5,551.9 1661.9,555.2C1662.3,558.5 1661.7,562.7 1660.7,565.2C1659.7,567.7 1658.2,569 1655.7,570.2C1653.2,571.5 1649.4,572.1 1645.6,572.7C1641.8,573.3 1636.8,573.4 1633.1,574C1629.3,574.6 1626.4,574.8 1623.1,576.5C1619.8,578.2 1615.6,581.7 1613.1,584C1610.6,586.3 1610.2,589 1608.1,590.3C1606,591.5 1603.9,591.4 1600.6,591.5C1597.2,591.6 1592.2,590.9 1588,590.8C1583.8,590.7 1579.2,590.5 1575.5,590.8C1571.8,591.1 1568.6,591.2 1565.5,592.8C1562.4,594.4 1559.4,597.4 1556.7,600.3C1554,603.2 1550.9,607 1549.2,610.3C1547.5,613.6 1546.5,616.9 1546.7,620.3C1546.9,623.6 1548.2,627.7 1550.5,630.4C1552.8,633.1 1556.8,634.9 1560.5,636.6C1564.2,638.3 1568.8,639.6 1573,640.4C1577.2,641.2 1581.3,640.8 1585.5,641.6C1589.7,642.4 1593.9,643.9 1598.1,645.4C1602.3,646.9 1607.3,648.7 1610.6,650.4C1613.9,652.1 1614.8,654.3 1618.1,655.4C1621.4,656.5 1626.4,656.7 1630.6,656.7C1634.8,656.7 1639.5,656 1643.1,655.4C1646.6,654.8 1650.2,654.1 1651.9,652.9C1653.6,651.6 1653,648.7 1653.2,647.9"/>
<path class="d" d="M1660.7,646.6C1662,645.1 1666.5,641.5 1668.2,637.9C1669.9,634.3 1670.9,629.1 1670.7,625.3C1670.5,621.5 1667.7,617.8 1666.9,615.3C1666.1,612.8 1664.7,612 1665.7,610.3C1666.8,608.6 1671.1,607.4 1673.2,605.3C1675.3,603.2 1677,600.7 1678.2,597.8C1679.5,594.9 1679.2,591.1 1680.7,587.8C1682.2,584.5 1684.9,580.7 1687,577.8C1689.1,574.9 1691.8,573.1 1693.2,570.2C1694.7,567.3 1695.5,563.5 1695.7,560.2C1695.9,556.9 1695.1,553.5 1694.5,550.2C1693.9,546.9 1691.6,543.1 1692,540.2C1692.4,537.3 1696,535.6 1697,532.7C1698,529.8 1698.6,526.1 1698.2,522.7C1697.8,519.4 1695.8,515.5 1694.5,512.6C1693.2,509.7 1692,508 1690.7,505.1C1689.5,502.2 1687,497.6 1687,495.1C1687,492.6 1688.5,491.4 1690.7,490.1C1692.9,488.9 1698.5,488 1700,487.6"/>
<path class="d" d="M1650.7,441.3C1652.8,441.7 1659,443.2 1663.2,443.8C1667.4,444.4 1671.5,445 1675.7,445C1679.9,445 1684.2,444.2 1688.2,443.8C1692.2,443.4 1698,442.7 1700,442.5"/>
<path class="d" d="M1376.4,693C1376.4,694.2 1376.2,697.6 1376.4,700C1376.6,702.4 1377.1,704.8 1377.7,707.5C1378.3,710.2 1380.2,713.6 1380.2,716.3C1380.2,719 1378.8,721.6 1377.7,723.8C1376.7,726 1376,728.3 1373.9,729.6C1371.8,730.9 1369.1,731.5 1365.1,731.8C1361.1,732.1 1355.1,731.5 1350.1,731.3C1345.1,731.1 1340.1,730.9 1335.1,730.6C1330.1,730.3 1325.1,730 1320.1,729.6C1315.1,729.2 1309.2,728.2 1305,728.1C1300.8,728 1297.5,728 1295,728.8C1292.5,729.5 1290.4,730.7 1290,732.6C1289.6,734.5 1291.5,737.4 1292.5,740.1C1293.5,742.8 1294.6,746.1 1296.3,748.8C1298,751.5 1299.8,754.5 1302.5,756.4C1305.2,758.3 1309.2,759.3 1312.5,760.1C1315.8,760.9 1319.7,760.4 1322.6,761.4C1325.5,762.4 1327.4,764.5 1330.1,766.4C1332.8,768.3 1335.9,770.7 1338.8,772.6C1341.7,774.5 1345.3,775.3 1347.6,777.6C1349.9,779.9 1350.1,784.1 1352.6,786.4C1355.1,788.7 1358.8,790 1362.6,791.4C1366.4,792.8 1371.4,793.2 1375.2,794.7C1379,796.2 1383.3,798.9 1385.2,800.2C1387.1,801.5 1387.2,801 1386.4,802.7C1385.6,804.4 1382.3,807.3 1380.2,810.2C1378.1,813.1 1376,816.9 1373.9,820.2C1371.8,823.5 1369.7,827.1 1367.6,830.2C1365.5,833.3 1361.8,836.5 1361.4,839C1361,841.5 1363.8,843.2 1365.1,845.3C1366.3,847.4 1368.5,849 1368.9,851.5C1369.3,854 1369.1,857.4 1367.6,860.3C1366.1,863.2 1362.6,866.6 1360.1,869.1C1357.6,871.6 1354.3,872.6 1352.6,875.3C1350.9,878 1351.3,882.2 1350.1,885.3C1348.8,888.4 1347.4,891.8 1345.1,894.1C1342.8,896.4 1338.8,897 1336.3,899.1C1333.8,901.2 1331.5,903.9 1330.1,906.6C1328.6,909.3 1328.6,912.9 1327.6,915.4C1326.5,917.9 1323.6,919.6 1323.8,921.7C1324,923.8 1328.2,925.8 1328.8,927.9C1329.4,930 1329.9,932.5 1327.6,934.2C1325.3,935.9 1319.2,936.5 1315,937.9C1310.8,939.3 1306.7,941.7 1302.5,942.5C1298.3,943.3 1292.1,942.5 1290,942.5"/>
<path class="d" d="M1356.9,718C1356.9,719.1 1356.4,720.4 1355.8,721.3C1355.2,722.2 1354.1,723 1353.1,723.3C1352.1,723.6 1350.7,723.6 1349.7,723.3C1348.7,723 1347.5,722.2 1346.9,721.3C1346.3,720.4 1345.9,719.1 1345.9,718C1345.9,716.9 1346.3,715.7 1346.9,714.8C1347.5,713.9 1348.7,713.1 1349.7,712.8C1350.7,712.5 1352.1,712.5 1353.1,712.8C1354.1,713.1 1355.2,713.9 1355.8,714.8C1356.4,715.7 1356.9,716.9 1356.9,718Z"/>
<path class="d" d="M1445.5,688C1445.5,690 1445.5,696.3 1445.3,700C1445,703.7 1443.6,706.5 1444,710C1444.4,713.5 1446.3,718.2 1447.8,721.3C1449.3,724.4 1450.7,727 1452.8,728.8C1454.9,730.6 1457,731.8 1460.3,732.1C1463.6,732.4 1469,730.9 1472.8,730.6C1476.6,730.3 1480.2,729.2 1482.9,730.1C1485.6,731 1488.3,733.8 1489.1,736.3C1489.9,738.8 1489.4,742 1487.9,745.1C1486.5,748.2 1482.7,751.8 1480.4,755.1C1478.1,758.4 1476.4,762 1474.1,765.1C1471.8,768.2 1468.3,771.2 1466.6,773.9C1464.9,776.6 1463.7,778.9 1464.1,781.4C1464.5,783.9 1467,787.5 1469.1,788.9C1471.2,790.3 1474.3,790.5 1476.6,789.7C1478.9,788.9 1480.6,786.3 1482.9,783.9C1485.2,781.5 1487.9,777.8 1490.4,775.1C1492.9,772.4 1495.4,769.9 1497.9,767.6C1500.4,765.3 1502.5,763 1505.4,761.4C1508.3,759.8 1511.7,758.8 1515.4,758.1C1519.2,757.4 1524.1,757.1 1527.9,757.1C1531.7,757.1 1535.1,757.6 1538,758.1C1540.9,758.6 1542.6,759.1 1545.5,760.1C1548.4,761.1 1552.4,762.7 1555.5,763.9C1558.6,765.1 1561.4,767.1 1564.3,767.1C1567.2,767.1 1569.9,765.7 1573,763.9C1576.1,762.1 1579.2,758.7 1583,756.4C1586.8,754.1 1591,751.8 1595.6,750.1C1600.2,748.4 1605.6,747.5 1610.6,746.3C1615.6,745 1621,744 1625.6,742.6C1630.2,741.2 1634,739.2 1638.2,738.1C1642.4,737 1646.1,736.7 1650.7,736.3C1655.3,735.9 1660.7,735.6 1665.7,735.8C1670.7,736 1676.7,736.7 1680.7,737.6C1684.8,738.5 1688.5,740.7 1690,741.3"/>
<path class="d" d="M1545.5,760.1C1544.7,761.1 1542,765.1 1540.5,766.4C1539,767.6 1537.3,767.4 1536.7,767.6"/>
<path class="d" d="M1387,801.3C1386,802.8 1383,806.9 1380.7,810C1378.4,813.1 1375.7,816.6 1373.2,820C1370.7,823.4 1367.8,826.8 1365.7,830.1C1363.6,833.5 1360.3,836.8 1360.7,840.1C1361.1,843.4 1367,846.8 1368.2,850.1C1369.5,853.4 1369.5,857 1368.2,860.1C1367,863.2 1363.4,866.2 1360.7,868.9C1358,871.6 1353.8,873.5 1351.9,876.4C1350,879.3 1350.5,883.5 1349.4,886.4C1348.4,889.3 1347.9,891.6 1345.6,893.9C1343.3,896.2 1338.5,897.7 1335.6,900.2C1332.7,902.7 1330,905.7 1328.1,909C1326.2,912.3 1324.2,916.9 1324.4,920.2C1324.6,923.5 1328.8,926.7 1329.4,929C1330,931.3 1330,932.8 1328.1,934C1326.2,935.2 1321.8,935 1318.1,936.5C1314.3,938 1310.2,941.8 1305.6,942.8C1301,943.8 1295.5,942.4 1290.5,942.8C1285.5,943.2 1280.1,944.3 1275.5,945.3C1270.9,946.3 1267.2,947.5 1263,949C1258.8,950.5 1255.1,952.5 1250.5,954C1245.9,955.5 1240.4,956.8 1235.4,957.8C1230.4,958.8 1225.4,958.6 1220.4,960.3C1215.4,962 1210.4,965.7 1205.4,967.8C1200.4,969.9 1194.8,971.3 1190.4,972.8C1186,974.3 1181.6,974.5 1179.1,976.6C1176.6,978.7 1176.3,982.4 1175.3,985.3C1174.2,988.2 1172,991.8 1172.8,994.1C1173.6,996.4 1177.4,997.6 1180.3,999.1C1183.2,1000.6 1187.7,1001.9 1190.4,1002.9C1193.1,1003.9 1195.6,1003.7 1196.6,1005.4C1197.6,1007.1 1197.4,1010.4 1196.6,1012.9C1195.8,1015.4 1193.5,1018.1 1191.6,1020.4C1189.7,1022.7 1186.5,1023.8 1185.3,1026.7C1184,1029.6 1185.1,1034.6 1184.1,1037.9C1183.1,1041.2 1181.4,1044 1179.1,1046.7C1176.8,1049.4 1173.4,1051.7 1170.3,1054.2C1167.2,1056.7 1162.8,1058.9 1160.3,1061.7C1157.8,1064.5 1156.1,1069.5 1155.3,1071"/>
<path class="d" d="M1300,727.7C1298.9,728.1 1295,729 1293.2,730.2C1291.5,731.5 1289.3,733.1 1289.5,735.2C1289.7,737.3 1293,739.8 1294.5,742.7C1296,745.6 1297.3,750.6 1298.2,752.7C1299.1,754.8 1299.7,754.8 1300,755.2"/>
<path class="d" d="M864.1,946.5C862,944.2 862.2,940 862.8,936.5C863.4,933 866.1,928.5 867.8,925.2C869.5,921.9 870.3,918.4 872.8,916.5C875.3,914.6 879.4,914.6 882.8,914C886.1,913.4 890.8,913.8 892.9,912.7C895,911.7 895,909.6 895.4,907.7C895.8,905.8 893.3,902.6 895.4,901.4C897.5,900.1 903.7,901 907.9,900.2C912.1,899.4 915.8,897.5 920.4,896.4C925,895.3 931,895.1 935.4,893.9C939.8,892.6 943.2,889.9 946.7,888.9C950.2,887.9 953.8,886.9 956.7,887.7C959.6,888.5 962,891.4 964.2,893.9C966.4,896.4 969,899.6 970,902.7C971,905.8 971.2,909.8 970.5,912.7C969.8,915.6 967.6,917.9 965.5,920.2C963.4,922.5 960.9,924.6 958,926.5C955.1,928.4 950.5,929.4 948,931.5C945.5,933.6 944.7,936.7 943,939C941.3,941.3 940.8,943.8 937.9,945.3C935,946.8 929.1,946.1 925.4,947.8C921.6,949.5 919.1,954.5 915.4,955.3C911.6,956.1 907.1,953.4 902.9,952.8C898.7,952.2 895,951.9 890.4,951.5C885.8,951.1 879.7,951.1 875.3,950.3C870.9,949.5 866.2,948.8 864.1,946.5Z"/>
<path class="d" d="M858.5,959.8C858.5,961.8 857.5,964.1 855.8,965.7C854.1,967.3 851.2,968.7 848.5,969.3C845.8,969.9 842.2,969.9 839.5,969.3C836.8,968.7 834,967.3 832.3,965.7C830.6,964.1 829.5,961.8 829.5,959.8C829.5,957.8 830.6,955.5 832.3,953.9C834,952.3 836.8,950.9 839.5,950.3C842.2,949.7 845.8,949.7 848.5,950.3C851.2,950.9 854.1,952.3 855.8,953.9C857.5,955.5 858.5,957.8 858.5,959.8Z"/>
<path class="l" d="M1377.6,239.7L1385.2,241.4L1392.7,243.9L1398.9,246.4"/>
<path class="l" d="M1305.5,312.8L1310,304L1317.5,299.8L1328.8,300.8"/>
<path class="l" d="M1606.8,228.1L1615.6,221.4L1623.1,213.9L1626.1,209.6"/>
<path class="l" d="M1605.8,227.8L1610.2,224L1616.5,219L1621.5,214L1624,208.9L1627.2,210.2L1626.5,214L1622.8,219L1617.8,224L1611.5,228.4L1607.1,229.6Z"/>
<rect x="1125.6" y="159.0" width="25" height="13" fill="#fff"/>
<text class="tx" x="1138.1" y="169.3" font-size="10.3" font-weight="bold" text-anchor="middle" style="fill:#4a4a4a">50°N</text>
<rect x="1125.6" y="563.8" width="25" height="13" fill="#fff"/>
<text class="tx" x="1138.1" y="574.0999999999999" font-size="10.3" font-weight="bold" text-anchor="middle" style="fill:#4a4a4a">40°N</text>
<rect x="1125.6" y="1004.4" width="25" height="13" fill="#fff"/>
<text class="tx" x="1138.1" y="1014.6999999999999" font-size="10.3" font-weight="bold" text-anchor="middle" style="fill:#4a4a4a">30°N</text>
</g>
<rect x="492" y="70" width="1173" height="85" fill="#fff"/>
<path d="M82.5,1071.5V83.5H492M1665,83.5H2059.5V1071.5H82.5" fill="none" stroke="#a39a8c" stroke-width="1.2"/>
<rect x="567" y="1153" width="100" height="44" fill="#003859"/>
<rect x="667" y="1153" width="100" height="44" fill="#0075af"/>
<rect x="767" y="1153" width="100" height="44" fill="#2db9fd"/>
<rect x="867" y="1153" width="100" height="44" fill="#99dbfd"/>
<rect x="967" y="1153" width="100" height="44" fill="#caebfd"/>
<rect x="1067" y="1153" width="100" height="44" fill="#fdd0c9"/>
<rect x="1167" y="1153" width="100" height="44" fill="#fda899"/>
<rect x="1267" y="1153" width="100" height="44" fill="#fd5232"/>
<rect x="1367" y="1153" width="100" height="44" fill="#af1b00"/>
<rect x="1467" y="1153" width="100" height="44" fill="#590900"/>
<g class="tx">
<text x="1091" y="57.8" font-size="56" text-anchor="middle">2 m temperature: Weekly mean anomalies</text>
<text x="1091.2" y="123" font-size="22.38" text-anchor="middle">Base time: Mon 12 Jun 2023 Valid time: Mon 26 Jun 2023 - Mon 03 Jul 2023 (+504h) Area : South West Europe</text>
<text x="1067" y="1113" font-size="22.35" text-anchor="middle">Extended range: 2m T weekly mean anomaly, significance level: 10 % (C)</text>
<text x="571" y="1142" font-size="15.6" text-anchor="middle">&lt;-10</text>
<text x="667" y="1142" font-size="15.6" text-anchor="middle">-10</text>
<text x="767" y="1142" font-size="15.6" text-anchor="middle">-6</text>
<text x="867" y="1142" font-size="15.6" text-anchor="middle">-3</text>
<text x="967" y="1142" font-size="15.6" text-anchor="middle">-1</text>
<text x="1067" y="1142" font-size="15.6" text-anchor="middle">0</text>
<text x="1167" y="1142" font-size="15.6" text-anchor="middle">1</text>
<text x="1267" y="1142" font-size="15.6" text-anchor="middle">3</text>
<text x="1367" y="1142" font-size="15.6" text-anchor="middle">6</text>
<text x="1467" y="1142" font-size="15.6" text-anchor="middle">10</text>
<text x="1568.5" y="1142" font-size="15.6" text-anchor="middle">&gt;10</text>
</g>
</svg></body></html>
